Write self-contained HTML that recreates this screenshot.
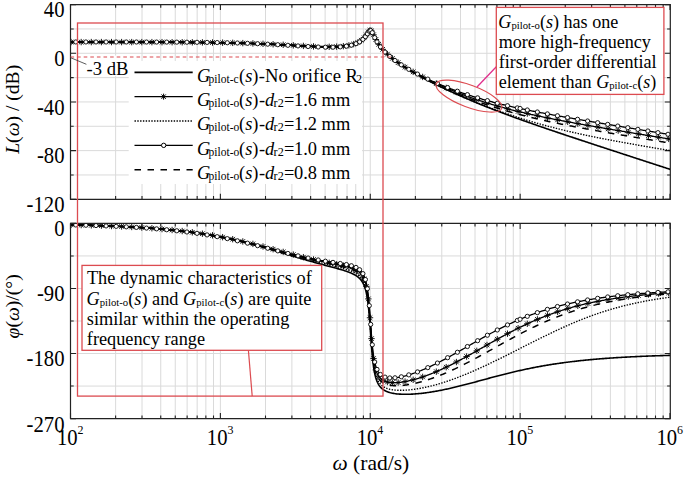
<!DOCTYPE html><html><head><meta charset="utf-8"><style>html,body{margin:0;padding:0;background:#fff;overflow:hidden}svg{display:block}text{font-family:"Liberation Serif",serif;fill:#000}</style></head><body>
<svg width="685" height="477" viewBox="0 0 685 477">
<rect width="685" height="477" fill="#fff"/>
<defs><clipPath id="ct"><rect x="70.5" y="4.6" width="599.8" height="194.70000000000002"/></clipPath><clipPath id="cb"><rect x="70.5" y="223.4" width="599.8" height="195.20000000000002"/></clipPath></defs>
<path d="M115.62,4.6V199.3M115.62,223.4V418.6M142.01,4.6V199.3M142.01,223.4V418.6M160.74,4.6V199.3M160.74,223.4V418.6M175.26,4.6V199.3M175.26,223.4V418.6M187.13,4.6V199.3M187.13,223.4V418.6M197.16,4.6V199.3M197.16,223.4V418.6M205.86,4.6V199.3M205.86,223.4V418.6M213.52,4.6V199.3M213.52,223.4V418.6M220.38,4.6V199.3M220.38,223.4V418.6M265.50,4.6V199.3M265.50,223.4V418.6M291.89,4.6V199.3M291.89,223.4V418.6M310.62,4.6V199.3M310.62,223.4V418.6M325.14,4.6V199.3M325.14,223.4V418.6M337.01,4.6V199.3M337.01,223.4V418.6M347.04,4.6V199.3M347.04,223.4V418.6M355.74,4.6V199.3M355.74,223.4V418.6M363.40,4.6V199.3M363.40,223.4V418.6M370.26,4.6V199.3M370.26,223.4V418.6M415.38,4.6V199.3M415.38,223.4V418.6M441.77,4.6V199.3M441.77,223.4V418.6M460.50,4.6V199.3M460.50,223.4V418.6M475.02,4.6V199.3M475.02,223.4V418.6M486.89,4.6V199.3M486.89,223.4V418.6M496.92,4.6V199.3M496.92,223.4V418.6M505.62,4.6V199.3M505.62,223.4V418.6M513.28,4.6V199.3M513.28,223.4V418.6M520.14,4.6V199.3M520.14,223.4V418.6M565.26,4.6V199.3M565.26,223.4V418.6M591.65,4.6V199.3M591.65,223.4V418.6M610.38,4.6V199.3M610.38,223.4V418.6M624.90,4.6V199.3M624.90,223.4V418.6M636.77,4.6V199.3M636.77,223.4V418.6M646.80,4.6V199.3M646.80,223.4V418.6M655.50,4.6V199.3M655.50,223.4V418.6M663.16,4.6V199.3M663.16,223.4V418.6M70.5,28.94H670.3M70.5,53.28H670.3M70.5,77.61H670.3M70.5,101.95H670.3M70.5,126.29H670.3M70.5,150.62H670.3M70.5,174.96H670.3M70.5,255.93H670.3M70.5,288.47H670.3M70.5,321.00H670.3M70.5,353.53H670.3M70.5,386.07H670.3" stroke="#dadada" stroke-width="1" fill="none"/>
<rect x="128.7" y="61" width="233.3" height="123" fill="#fff"/>
<rect x="86" y="55.5" width="43" height="20.5" fill="#fff"/>
<path d="M70.50,199.3v-5.5M70.50,4.6v5.5M70.50,418.6v-5.5M70.50,223.4v5.5M115.62,199.3v-3.2M115.62,4.6v3.2M115.62,418.6v-3.2M115.62,223.4v3.2M142.01,199.3v-3.2M142.01,4.6v3.2M142.01,418.6v-3.2M142.01,223.4v3.2M160.74,199.3v-3.2M160.74,4.6v3.2M160.74,418.6v-3.2M160.74,223.4v3.2M175.26,199.3v-3.2M175.26,4.6v3.2M175.26,418.6v-3.2M175.26,223.4v3.2M187.13,199.3v-3.2M187.13,4.6v3.2M187.13,418.6v-3.2M187.13,223.4v3.2M197.16,199.3v-3.2M197.16,4.6v3.2M197.16,418.6v-3.2M197.16,223.4v3.2M205.86,199.3v-3.2M205.86,4.6v3.2M205.86,418.6v-3.2M205.86,223.4v3.2M213.52,199.3v-3.2M213.52,4.6v3.2M213.52,418.6v-3.2M213.52,223.4v3.2M220.38,199.3v-5.5M220.38,4.6v5.5M220.38,418.6v-5.5M220.38,223.4v5.5M265.50,199.3v-3.2M265.50,4.6v3.2M265.50,418.6v-3.2M265.50,223.4v3.2M291.89,199.3v-3.2M291.89,4.6v3.2M291.89,418.6v-3.2M291.89,223.4v3.2M310.62,199.3v-3.2M310.62,4.6v3.2M310.62,418.6v-3.2M310.62,223.4v3.2M325.14,199.3v-3.2M325.14,4.6v3.2M325.14,418.6v-3.2M325.14,223.4v3.2M337.01,199.3v-3.2M337.01,4.6v3.2M337.01,418.6v-3.2M337.01,223.4v3.2M347.04,199.3v-3.2M347.04,4.6v3.2M347.04,418.6v-3.2M347.04,223.4v3.2M355.74,199.3v-3.2M355.74,4.6v3.2M355.74,418.6v-3.2M355.74,223.4v3.2M363.40,199.3v-3.2M363.40,4.6v3.2M363.40,418.6v-3.2M363.40,223.4v3.2M370.26,199.3v-5.5M370.26,4.6v5.5M370.26,418.6v-5.5M370.26,223.4v5.5M415.38,199.3v-3.2M415.38,4.6v3.2M415.38,418.6v-3.2M415.38,223.4v3.2M441.77,199.3v-3.2M441.77,4.6v3.2M441.77,418.6v-3.2M441.77,223.4v3.2M460.50,199.3v-3.2M460.50,4.6v3.2M460.50,418.6v-3.2M460.50,223.4v3.2M475.02,199.3v-3.2M475.02,4.6v3.2M475.02,418.6v-3.2M475.02,223.4v3.2M486.89,199.3v-3.2M486.89,4.6v3.2M486.89,418.6v-3.2M486.89,223.4v3.2M496.92,199.3v-3.2M496.92,4.6v3.2M496.92,418.6v-3.2M496.92,223.4v3.2M505.62,199.3v-3.2M505.62,4.6v3.2M505.62,418.6v-3.2M505.62,223.4v3.2M513.28,199.3v-3.2M513.28,4.6v3.2M513.28,418.6v-3.2M513.28,223.4v3.2M520.14,199.3v-5.5M520.14,4.6v5.5M520.14,418.6v-5.5M520.14,223.4v5.5M565.26,199.3v-3.2M565.26,4.6v3.2M565.26,418.6v-3.2M565.26,223.4v3.2M591.65,199.3v-3.2M591.65,4.6v3.2M591.65,418.6v-3.2M591.65,223.4v3.2M610.38,199.3v-3.2M610.38,4.6v3.2M610.38,418.6v-3.2M610.38,223.4v3.2M624.90,199.3v-3.2M624.90,4.6v3.2M624.90,418.6v-3.2M624.90,223.4v3.2M636.77,199.3v-3.2M636.77,4.6v3.2M636.77,418.6v-3.2M636.77,223.4v3.2M646.80,199.3v-3.2M646.80,4.6v3.2M646.80,418.6v-3.2M646.80,223.4v3.2M655.50,199.3v-3.2M655.50,4.6v3.2M655.50,418.6v-3.2M655.50,223.4v3.2M663.16,199.3v-3.2M663.16,4.6v3.2M663.16,418.6v-3.2M663.16,223.4v3.2M670.02,199.3v-5.5M670.02,4.6v5.5M670.02,418.6v-5.5M670.02,223.4v5.5M70.5,4.60h5.5M670.3,4.60h-5.5M70.5,28.94h3.2M670.3,28.94h-3.2M70.5,53.28h5.5M670.3,53.28h-5.5M70.5,77.61h3.2M670.3,77.61h-3.2M70.5,101.95h5.5M670.3,101.95h-5.5M70.5,126.29h3.2M670.3,126.29h-3.2M70.5,150.62h5.5M670.3,150.62h-5.5M70.5,174.96h3.2M670.3,174.96h-3.2M70.5,199.30h5.5M670.3,199.30h-5.5M70.5,223.40h5.5M670.3,223.40h-5.5M70.5,255.93h3.2M670.3,255.93h-3.2M70.5,288.47h5.5M670.3,288.47h-5.5M70.5,321.00h3.2M670.3,321.00h-3.2M70.5,353.53h5.5M670.3,353.53h-5.5M70.5,386.07h3.2M670.3,386.07h-3.2M70.5,418.60h5.5M670.3,418.60h-5.5" stroke="#222" stroke-width="1.1" fill="none"/>
<g clip-path="url(#ct)" fill="none" stroke="#000">
<path d="M70.50,42.17 L71.50,42.17 L72.50,42.17 L73.50,42.17 L74.50,42.17 L75.50,42.17 L76.50,42.17 L77.50,42.17 L78.50,42.17 L79.50,42.17 L80.50,42.17 L81.50,42.17 L82.50,42.17 L83.50,42.17 L84.50,42.17 L85.50,42.17 L86.50,42.17 L87.50,42.17 L88.50,42.18 L89.50,42.18 L90.50,42.18 L91.50,42.18 L92.50,42.18 L93.50,42.18 L94.50,42.18 L95.50,42.18 L96.50,42.18 L97.50,42.18 L98.50,42.18 L99.50,42.18 L100.50,42.18 L101.50,42.18 L102.50,42.18 L103.50,42.18 L104.50,42.18 L105.50,42.18 L106.50,42.18 L107.50,42.18 L108.50,42.18 L109.50,42.18 L110.50,42.18 L111.50,42.19 L112.50,42.19 L113.50,42.19 L114.50,42.19 L115.50,42.19 L116.50,42.19 L117.50,42.19 L118.50,42.19 L119.50,42.19 L120.50,42.19 L121.50,42.19 L122.50,42.19 L123.50,42.19 L124.50,42.19 L125.50,42.20 L126.50,42.20 L127.50,42.20 L128.50,42.20 L129.50,42.20 L130.50,42.20 L131.50,42.20 L132.50,42.20 L133.50,42.20 L134.50,42.21 L135.50,42.21 L136.50,42.21 L137.50,42.21 L138.50,42.21 L139.50,42.21 L140.50,42.21 L141.50,42.21 L142.50,42.22 L143.50,42.22 L144.50,42.22 L145.50,42.22 L146.50,42.22 L147.50,42.22 L148.50,42.23 L149.50,42.23 L150.50,42.23 L151.50,42.23 L152.50,42.23 L153.50,42.24 L154.50,42.24 L155.50,42.24 L156.50,42.24 L157.50,42.25 L158.50,42.25 L159.50,42.25 L160.50,42.25 L161.50,42.26 L162.50,42.26 L163.50,42.26 L164.50,42.26 L165.50,42.27 L166.50,42.27 L167.50,42.27 L168.50,42.28 L169.50,42.28 L170.50,42.28 L171.50,42.29 L172.50,42.29 L173.50,42.30 L174.50,42.30 L175.50,42.30 L176.50,42.31 L177.50,42.31 L178.50,42.32 L179.50,42.32 L180.50,42.33 L181.50,42.33 L182.50,42.34 L183.50,42.34 L184.50,42.35 L185.50,42.35 L186.50,42.36 L187.50,42.36 L188.50,42.37 L189.50,42.38 L190.50,42.38 L191.50,42.39 L192.50,42.39 L193.50,42.40 L194.50,42.41 L195.50,42.42 L196.50,42.42 L197.50,42.43 L198.50,42.44 L199.50,42.45 L200.50,42.46 L201.50,42.46 L202.50,42.47 L203.50,42.48 L204.50,42.49 L205.50,42.50 L206.50,42.51 L207.50,42.52 L208.50,42.53 L209.50,42.54 L210.50,42.56 L211.50,42.57 L212.50,42.58 L213.50,42.59 L214.50,42.60 L215.50,42.62 L216.50,42.63 L217.50,42.64 L218.50,42.66 L219.50,42.67 L220.50,42.69 L221.50,42.70 L222.50,42.72 L223.50,42.73 L224.50,42.75 L225.50,42.76 L226.50,42.78 L227.50,42.80 L228.50,42.82 L229.50,42.84 L230.50,42.85 L231.50,42.87 L232.50,42.89 L233.50,42.91 L234.50,42.94 L235.50,42.96 L236.50,42.98 L237.50,43.00 L238.50,43.02 L239.50,43.05 L240.50,43.07 L241.50,43.10 L242.50,43.12 L243.50,43.15 L244.50,43.18 L245.50,43.20 L246.50,43.23 L247.50,43.26 L248.50,43.29 L249.50,43.32 L250.50,43.35 L251.50,43.38 L252.50,43.41 L253.50,43.44 L254.50,43.48 L255.50,43.51 L256.50,43.54 L257.50,43.58 L258.50,43.61 L259.50,43.65 L260.50,43.69 L261.50,43.72 L262.50,43.76 L263.50,43.80 L264.50,43.84 L265.50,43.88 L266.50,43.92 L267.50,43.96 L268.50,44.01 L269.50,44.05 L270.50,44.09 L271.50,44.14 L272.50,44.18 L273.50,44.23 L274.50,44.27 L275.50,44.32 L276.50,44.37 L277.50,44.42 L278.50,44.46 L279.50,44.51 L280.50,44.56 L281.50,44.61 L282.50,44.66 L283.50,44.72 L284.50,44.77 L285.50,44.82 L286.50,44.87 L287.50,44.92 L288.50,44.98 L289.50,45.03 L290.50,45.08 L291.50,45.14 L292.50,45.19 L293.50,45.25 L294.50,45.30 L295.50,45.35 L296.50,45.41 L297.50,45.46 L298.50,45.52 L299.50,45.57 L300.50,45.62 L301.50,45.68 L302.50,45.73 L303.50,45.78 L304.50,45.83 L305.50,45.89 L306.50,45.94 L307.50,45.99 L308.50,46.04 L309.50,46.08 L310.50,46.13 L311.50,46.18 L312.50,46.22 L313.50,46.27 L314.50,46.31 L315.50,46.35 L316.50,46.39 L317.50,46.42 L318.50,46.46 L319.50,46.49 L320.50,46.52 L321.50,46.55 L322.50,46.58 L323.50,46.60 L324.50,46.62 L325.50,46.63 L326.50,46.65 L327.50,46.65 L328.50,46.66 L329.50,46.66 L330.50,46.65 L331.50,46.65 L332.50,46.63 L333.50,46.61 L334.50,46.58 L335.50,46.55 L336.50,46.51 L337.50,46.47 L338.50,46.41 L339.50,46.35 L340.50,46.27 L341.50,46.19 L342.50,46.10 L343.50,45.99 L344.50,45.88 L345.50,45.74 L346.50,45.60 L347.50,45.44 L348.50,45.26 L349.50,45.06 L350.50,44.84 L351.50,44.59 L352.50,44.32 L353.50,44.03 L354.50,43.69 L355.00,43.52 L355.10,43.48 L355.20,43.44 L355.30,43.40 L355.40,43.37 L355.50,43.33 L355.60,43.29 L355.70,43.25 L355.80,43.21 L355.90,43.17 L356.00,43.13 L356.10,43.09 L356.20,43.05 L356.30,43.01 L356.40,42.96 L356.50,42.92 L356.60,42.88 L356.70,42.84 L356.80,42.79 L356.90,42.75 L357.00,42.70 L357.10,42.66 L357.20,42.61 L357.30,42.56 L357.40,42.52 L357.50,42.47 L357.60,42.42 L357.70,42.37 L357.80,42.32 L357.90,42.27 L358.00,42.22 L358.10,42.17 L358.20,42.12 L358.30,42.07 L358.40,42.02 L358.50,41.96 L358.60,41.91 L358.70,41.86 L358.80,41.80 L358.90,41.75 L359.00,41.69 L359.10,41.63 L359.20,41.58 L359.30,41.52 L359.40,41.46 L359.50,41.40 L359.60,41.34 L359.70,41.28 L359.80,41.22 L359.90,41.15 L360.00,41.09 L360.10,41.03 L360.20,40.96 L360.30,40.90 L360.40,40.83 L360.50,40.77 L360.60,40.70 L360.70,40.63 L360.80,40.56 L360.90,40.49 L361.00,40.42 L361.10,40.35 L361.20,40.27 L361.30,40.20 L361.40,40.13 L361.50,40.05 L361.60,39.97 L361.70,39.90 L361.80,39.82 L361.90,39.74 L362.00,39.66 L362.10,39.58 L362.20,39.50 L362.30,39.41 L362.40,39.33 L362.50,39.24 L362.60,39.16 L362.70,39.07 L362.80,38.98 L362.90,38.89 L363.00,38.80 L363.10,38.71 L363.20,38.61 L363.30,38.52 L363.40,38.42 L363.50,38.32 L363.60,38.23 L363.70,38.13 L363.80,38.02 L363.90,37.92 L364.00,37.82 L364.10,37.71 L364.20,37.61 L364.30,37.50 L364.40,37.39 L364.50,37.28 L364.60,37.17 L364.70,37.05 L364.80,36.94 L364.90,36.82 L365.00,36.70 L365.10,36.58 L365.20,36.46 L365.30,36.34 L365.40,36.21 L365.50,36.09 L365.60,35.96 L365.70,35.83 L365.80,35.70 L365.90,35.57 L366.00,35.43 L366.10,35.30 L366.20,35.16 L366.30,35.02 L366.40,34.88 L366.50,34.74 L366.60,34.60 L366.70,34.45 L366.80,34.31 L366.90,34.16 L367.00,34.01 L367.10,33.86 L367.20,33.71 L367.30,33.56 L367.40,33.41 L367.50,33.26 L367.60,33.10 L367.70,32.95 L367.80,32.80 L367.90,32.65 L368.00,32.49 L368.10,32.34 L368.20,32.19 L368.30,32.04 L368.40,31.90 L368.50,31.75 L368.60,31.61 L368.70,31.47 L368.80,31.33 L368.90,31.20 L369.00,31.07 L369.10,30.95 L369.20,30.83 L369.30,30.72 L369.40,30.62 L369.50,30.53 L369.60,30.44 L369.70,30.36 L369.80,30.29 L369.90,30.23 L370.00,30.19 L370.10,30.15 L370.20,30.12 L370.30,30.11 L370.40,30.11 L370.50,30.12 L370.60,30.15 L370.70,30.18 L370.80,30.23 L370.90,30.30 L371.00,30.37 L371.10,30.46 L371.20,30.56 L371.30,30.67 L371.40,30.79 L371.50,30.92 L371.60,31.06 L371.70,31.20 L371.80,31.36 L371.90,31.53 L372.00,31.70 L372.10,31.88 L372.20,32.06 L372.30,32.25 L372.40,32.44 L372.50,32.64 L372.60,32.84 L372.70,33.04 L372.80,33.25 L372.90,33.46 L373.00,33.67 L373.10,33.88 L373.20,34.09 L373.30,34.31 L373.40,34.52 L373.50,34.73 L373.60,34.95 L373.70,35.16 L373.80,35.38 L373.90,35.59 L374.00,35.80 L374.10,36.01 L374.20,36.22 L374.30,36.43 L374.40,36.64 L374.50,36.85 L374.60,37.05 L374.70,37.25 L374.80,37.46 L374.90,37.66 L375.00,37.86 L375.10,38.06 L375.20,38.25 L375.30,38.45 L375.40,38.64 L375.50,38.83 L375.60,39.02 L375.70,39.21 L375.80,39.40 L375.90,39.59 L376.00,39.77 L376.10,39.95 L376.20,40.13 L376.30,40.31 L376.40,40.49 L376.50,40.67 L376.60,40.84 L376.70,41.02 L376.80,41.19 L376.90,41.36 L377.00,41.53 L377.10,41.70 L377.20,41.86 L377.30,42.03 L377.40,42.19 L377.50,42.35 L377.60,42.51 L377.70,42.67 L377.80,42.83 L377.90,42.99 L378.00,43.14 L378.10,43.30 L378.20,43.45 L378.30,43.61 L378.40,43.76 L378.50,43.91 L378.60,44.06 L378.70,44.20 L378.80,44.35 L378.90,44.49 L379.00,44.64 L379.10,44.78 L379.20,44.92 L379.30,45.07 L379.40,45.21 L379.50,45.35 L379.60,45.48 L379.70,45.62 L379.80,45.76 L379.90,45.89 L380.00,46.03 L380.10,46.16 L380.20,46.29 L380.30,46.43 L380.40,46.56 L380.50,46.69 L380.60,46.82 L380.70,46.95 L380.80,47.07 L380.90,47.20 L381.00,47.33 L381.10,47.45 L381.20,47.58 L381.30,47.70 L381.40,47.83 L381.50,47.95 L381.60,48.07 L381.70,48.19 L381.80,48.31 L381.90,48.43 L382.00,48.55 L382.10,48.67 L382.20,48.79 L382.30,48.90 L382.40,49.02 L382.50,49.14 L382.60,49.25 L382.70,49.37 L382.80,49.48 L382.90,49.59 L383.00,49.71 L383.10,49.82 L383.20,49.93 L383.30,50.04 L383.40,50.15 L383.50,50.26 L383.60,50.37 L383.70,50.48 L383.80,50.59 L383.90,50.70 L384.00,50.80 L384.10,50.91 L384.20,51.02 L384.30,51.12 L384.40,51.23 L384.50,51.33 L384.60,51.44 L384.70,51.54 L384.80,51.64 L384.90,51.75 L385.00,51.85 L385.10,51.95 L385.20,52.05 L385.30,52.16 L385.40,52.26 L385.50,52.36 L385.60,52.46 L385.70,52.56 L385.80,52.66 L385.90,52.75 L386.00,52.85 L386.10,52.95 L386.20,53.05 L386.30,53.15 L386.40,53.24 L386.50,53.34 L386.60,53.44 L386.70,53.53 L386.80,53.63 L386.90,53.72 L387.00,53.82 L387.10,53.91 L387.20,54.00 L387.30,54.10 L387.40,54.19 L387.50,54.28 L387.60,54.38 L387.70,54.47 L387.80,54.56 L387.90,54.65 L388.00,54.74 L388.10,54.84 L388.20,54.93 L388.30,55.02 L388.40,55.11 L388.50,55.20 L388.60,55.29 L388.70,55.37 L388.80,55.46 L388.90,55.55 L389.00,55.64 L389.10,55.73 L389.20,55.82 L389.30,55.90 L389.40,55.99 L389.50,56.08 L389.60,56.16 L389.70,56.25 L389.80,56.34 L389.90,56.42 L390.50,56.93 L391.50,57.76 L392.50,58.57 L393.50,59.36 L394.50,60.13 L395.50,60.88 L396.50,61.62 L397.50,62.34 L398.50,63.05 L399.50,63.75 L400.50,64.43 L401.50,65.10 L402.50,65.76 L403.50,66.42 L404.50,67.06 L405.50,67.70 L406.50,68.32 L407.50,68.94 L408.50,69.56 L409.50,70.16 L410.50,70.76 L411.50,71.35 L412.50,71.94 L413.50,72.52 L414.50,73.10 L415.50,73.67 L416.50,74.23 L417.50,74.79 L418.50,75.35 L419.50,75.90 L420.50,76.45 L421.50,76.99 L422.50,77.53 L423.50,78.07 L424.50,78.60 L425.50,79.13 L426.50,79.65 L427.50,80.17 L428.50,80.69 L429.50,81.21 L430.50,81.72 L431.50,82.23 L432.50,82.74 L433.50,83.24 L434.50,83.74 L435.50,84.24 L436.50,84.73 L437.50,85.23 L438.50,85.72 L439.50,86.20 L440.50,86.69 L441.50,87.17 L442.50,87.65 L443.50,88.13 L444.50,88.60 L445.50,89.08 L446.50,89.55 L447.50,90.02 L448.50,90.48 L449.50,90.95 L450.50,91.41 L451.50,91.87 L452.50,92.33 L453.50,92.78 L454.50,93.24 L455.50,93.69 L456.50,94.14 L457.50,94.59 L458.50,95.03 L459.50,95.48 L460.50,95.92 L461.50,96.36 L462.50,96.80 L463.50,97.24 L464.50,97.67 L465.50,98.10 L466.50,98.53 L467.50,98.96 L468.50,99.39 L469.50,99.82 L470.50,100.24 L471.50,100.66 L472.50,101.08 L473.50,101.50 L474.50,101.92 L475.50,102.33 L476.50,102.75 L477.50,103.16 L478.50,103.57 L479.50,103.98 L480.50,104.39 L481.50,104.79 L482.50,105.20 L483.50,105.60 L484.50,106.00 L485.50,106.40 L486.50,106.80 L487.50,107.19 L488.50,107.59 L489.50,107.98 L490.50,108.38 L491.50,108.77 L492.50,109.16 L493.50,109.54 L494.50,109.93 L495.50,110.32 L496.50,110.70 L497.50,111.08 L498.50,111.47 L499.50,111.85 L500.50,112.22 L501.50,112.60 L502.50,112.98 L503.50,113.35 L504.50,113.73 L505.50,114.10 L506.50,114.47 L507.50,114.85 L508.50,115.22 L509.50,115.58 L510.50,115.95 L511.50,116.32 L512.50,116.68 L513.50,117.05 L514.50,117.41 L515.50,117.78 L516.50,118.14 L517.50,118.50 L518.50,118.86 L519.50,119.22 L520.50,119.58 L521.50,119.93 L522.50,120.29 L523.50,120.65 L524.50,121.00 L525.50,121.35 L526.50,121.71 L527.50,122.06 L528.50,122.41 L529.50,122.76 L530.50,123.11 L531.50,123.46 L532.50,123.81 L533.50,124.16 L534.50,124.51 L535.50,124.86 L536.50,125.20 L537.50,125.55 L538.50,125.90 L539.50,126.24 L540.50,126.58 L541.50,126.93 L542.50,127.27 L543.50,127.61 L544.50,127.96 L545.50,128.30 L546.50,128.64 L547.50,128.98 L548.50,129.32 L549.50,129.66 L550.50,130.00 L551.50,130.34 L552.50,130.68 L553.50,131.02 L554.50,131.36 L555.50,131.69 L556.50,132.03 L557.50,132.37 L558.50,132.70 L559.50,133.04 L560.50,133.38 L561.50,133.71 L562.50,134.05 L563.50,134.38 L564.50,134.72 L565.50,135.05 L566.50,135.39 L567.50,135.72 L568.50,136.05 L569.50,136.39 L570.50,136.72 L571.50,137.05 L572.50,137.38 L573.50,137.72 L574.50,138.05 L575.50,138.38 L576.50,138.71 L577.50,139.04 L578.50,139.38 L579.50,139.71 L580.50,140.04 L581.50,140.37 L582.50,140.70 L583.50,141.03 L584.50,141.36 L585.50,141.69 L586.50,142.02 L587.50,142.35 L588.50,142.68 L589.50,143.01 L590.50,143.34 L591.50,143.67 L592.50,144.00 L593.50,144.33 L594.50,144.65 L595.50,144.98 L596.50,145.31 L597.50,145.64 L598.50,145.97 L599.50,146.30 L600.50,146.62 L601.50,146.95 L602.50,147.28 L603.50,147.61 L604.50,147.94 L605.50,148.26 L606.50,148.59 L607.50,148.92 L608.50,149.25 L609.50,149.57 L610.50,149.90 L611.50,150.23 L612.50,150.56 L613.50,150.88 L614.50,151.21 L615.50,151.54 L616.50,151.86 L617.50,152.19 L618.50,152.52 L619.50,152.84 L620.50,153.17 L621.50,153.50 L622.50,153.82 L623.50,154.15 L624.50,154.48 L625.50,154.80 L626.50,155.13 L627.50,155.45 L628.50,155.78 L629.50,156.11 L630.50,156.43 L631.50,156.76 L632.50,157.09 L633.50,157.41 L634.50,157.74 L635.50,158.06 L636.50,158.39 L637.50,158.72 L638.50,159.04 L639.50,159.37 L640.50,159.69 L641.50,160.02 L642.50,160.34 L643.50,160.67 L644.50,161.00 L645.50,161.32 L646.50,161.65 L647.50,161.97 L648.50,162.30 L649.50,162.62 L650.50,162.95 L651.50,163.27 L652.50,163.60 L653.50,163.92 L654.50,164.25 L655.50,164.58 L656.50,164.90 L657.50,165.23 L658.50,165.55 L659.50,165.88 L660.50,166.20 L661.50,166.53 L662.50,166.85 L663.50,167.18 L664.50,167.50 L665.50,167.83 L666.50,168.15 L667.50,168.48 L668.50,168.80 L669.50,169.13 L670.30,169.39" stroke-width="1.6"/>
<path d="M70.50,42.48 L71.50,42.48 L72.50,42.48 L73.50,42.48 L74.50,42.48 L75.50,42.48 L76.50,42.48 L77.50,42.48 L78.50,42.48 L79.50,42.48 L80.50,42.48 L81.50,42.48 L82.50,42.48 L83.50,42.48 L84.50,42.48 L85.50,42.48 L86.50,42.48 L87.50,42.48 L88.50,42.48 L89.50,42.48 L90.50,42.48 L91.50,42.48 L92.50,42.48 L93.50,42.48 L94.50,42.48 L95.50,42.48 L96.50,42.48 L97.50,42.48 L98.50,42.49 L99.50,42.49 L100.50,42.49 L101.50,42.49 L102.50,42.49 L103.50,42.49 L104.50,42.49 L105.50,42.49 L106.50,42.49 L107.50,42.49 L108.50,42.49 L109.50,42.49 L110.50,42.49 L111.50,42.49 L112.50,42.49 L113.50,42.49 L114.50,42.49 L115.50,42.49 L116.50,42.49 L117.50,42.50 L118.50,42.50 L119.50,42.50 L120.50,42.50 L121.50,42.50 L122.50,42.50 L123.50,42.50 L124.50,42.50 L125.50,42.50 L126.50,42.50 L127.50,42.50 L128.50,42.50 L129.50,42.51 L130.50,42.51 L131.50,42.51 L132.50,42.51 L133.50,42.51 L134.50,42.51 L135.50,42.51 L136.50,42.51 L137.50,42.51 L138.50,42.52 L139.50,42.52 L140.50,42.52 L141.50,42.52 L142.50,42.52 L143.50,42.52 L144.50,42.52 L145.50,42.53 L146.50,42.53 L147.50,42.53 L148.50,42.53 L149.50,42.53 L150.50,42.53 L151.50,42.54 L152.50,42.54 L153.50,42.54 L154.50,42.54 L155.50,42.54 L156.50,42.55 L157.50,42.55 L158.50,42.55 L159.50,42.55 L160.50,42.56 L161.50,42.56 L162.50,42.56 L163.50,42.56 L164.50,42.57 L165.50,42.57 L166.50,42.57 L167.50,42.58 L168.50,42.58 L169.50,42.58 L170.50,42.59 L171.50,42.59 L172.50,42.59 L173.50,42.60 L174.50,42.60 L175.50,42.60 L176.50,42.61 L177.50,42.61 L178.50,42.62 L179.50,42.62 L180.50,42.63 L181.50,42.63 L182.50,42.64 L183.50,42.64 L184.50,42.65 L185.50,42.65 L186.50,42.66 L187.50,42.66 L188.50,42.67 L189.50,42.67 L190.50,42.68 L191.50,42.69 L192.50,42.69 L193.50,42.70 L194.50,42.71 L195.50,42.71 L196.50,42.72 L197.50,42.73 L198.50,42.73 L199.50,42.74 L200.50,42.75 L201.50,42.76 L202.50,42.77 L203.50,42.78 L204.50,42.79 L205.50,42.79 L206.50,42.80 L207.50,42.81 L208.50,42.82 L209.50,42.83 L210.50,42.85 L211.50,42.86 L212.50,42.87 L213.50,42.88 L214.50,42.89 L215.50,42.90 L216.50,42.92 L217.50,42.93 L218.50,42.94 L219.50,42.96 L220.50,42.97 L221.50,42.99 L222.50,43.00 L223.50,43.02 L224.50,43.03 L225.50,43.05 L226.50,43.06 L227.50,43.08 L228.50,43.10 L229.50,43.12 L230.50,43.13 L231.50,43.15 L232.50,43.17 L233.50,43.19 L234.50,43.21 L235.50,43.23 L236.50,43.25 L237.50,43.28 L238.50,43.30 L239.50,43.32 L240.50,43.34 L241.50,43.37 L242.50,43.39 L243.50,43.42 L244.50,43.44 L245.50,43.47 L246.50,43.50 L247.50,43.52 L248.50,43.55 L249.50,43.58 L250.50,43.61 L251.50,43.64 L252.50,43.67 L253.50,43.70 L254.50,43.73 L255.50,43.76 L256.50,43.80 L257.50,43.83 L258.50,43.86 L259.50,43.90 L260.50,43.94 L261.50,43.97 L262.50,44.01 L263.50,44.05 L264.50,44.08 L265.50,44.12 L266.50,44.16 L267.50,44.20 L268.50,44.24 L269.50,44.29 L270.50,44.33 L271.50,44.37 L272.50,44.41 L273.50,44.46 L274.50,44.50 L275.50,44.55 L276.50,44.60 L277.50,44.64 L278.50,44.69 L279.50,44.74 L280.50,44.78 L281.50,44.83 L282.50,44.88 L283.50,44.93 L284.50,44.98 L285.50,45.03 L286.50,45.08 L287.50,45.13 L288.50,45.19 L289.50,45.24 L290.50,45.29 L291.50,45.34 L292.50,45.39 L293.50,45.45 L294.50,45.50 L295.50,45.55 L296.50,45.60 L297.50,45.66 L298.50,45.71 L299.50,45.76 L300.50,45.81 L301.50,45.87 L302.50,45.92 L303.50,45.97 L304.50,46.02 L305.50,46.07 L306.50,46.12 L307.50,46.17 L308.50,46.21 L309.50,46.26 L310.50,46.31 L311.50,46.35 L312.50,46.40 L313.50,46.44 L314.50,46.48 L315.50,46.52 L316.50,46.56 L317.50,46.59 L318.50,46.62 L319.50,46.66 L320.50,46.68 L321.50,46.71 L322.50,46.74 L323.50,46.76 L324.50,46.77 L325.50,46.79 L326.50,46.80 L327.50,46.81 L328.50,46.81 L329.50,46.81 L330.50,46.81 L331.50,46.80 L332.50,46.78 L333.50,46.76 L334.50,46.73 L335.50,46.70 L336.50,46.66 L337.50,46.61 L338.50,46.55 L339.50,46.49 L340.50,46.42 L341.50,46.33 L342.50,46.24 L343.50,46.13 L344.50,46.01 L345.50,45.88 L346.50,45.73 L347.50,45.57 L348.50,45.39 L349.50,45.19 L350.50,44.97 L351.50,44.72 L352.50,44.45 L353.50,44.15 L354.50,43.82 L355.00,43.64 L355.10,43.61 L355.20,43.57 L355.30,43.53 L355.40,43.49 L355.50,43.46 L355.60,43.42 L355.70,43.38 L355.80,43.34 L355.90,43.30 L356.00,43.26 L356.10,43.22 L356.20,43.17 L356.30,43.13 L356.40,43.09 L356.50,43.05 L356.60,43.00 L356.70,42.96 L356.80,42.92 L356.90,42.87 L357.00,42.83 L357.10,42.78 L357.20,42.74 L357.30,42.69 L357.40,42.64 L357.50,42.59 L357.60,42.55 L357.70,42.50 L357.80,42.45 L357.90,42.40 L358.00,42.35 L358.10,42.30 L358.20,42.25 L358.30,42.19 L358.40,42.14 L358.50,42.09 L358.60,42.04 L358.70,41.98 L358.80,41.93 L358.90,41.87 L359.00,41.81 L359.10,41.76 L359.20,41.70 L359.30,41.64 L359.40,41.58 L359.50,41.52 L359.60,41.46 L359.70,41.40 L359.80,41.34 L359.90,41.28 L360.00,41.22 L360.10,41.15 L360.20,41.09 L360.30,41.02 L360.40,40.96 L360.50,40.89 L360.60,40.82 L360.70,40.75 L360.80,40.68 L360.90,40.61 L361.00,40.54 L361.10,40.47 L361.20,40.40 L361.30,40.32 L361.40,40.25 L361.50,40.17 L361.60,40.10 L361.70,40.02 L361.80,39.94 L361.90,39.86 L362.00,39.78 L362.10,39.70 L362.20,39.62 L362.30,39.53 L362.40,39.45 L362.50,39.36 L362.60,39.28 L362.70,39.19 L362.80,39.10 L362.90,39.01 L363.00,38.92 L363.10,38.83 L363.20,38.73 L363.30,38.64 L363.40,38.54 L363.50,38.44 L363.60,38.35 L363.70,38.25 L363.80,38.14 L363.90,38.04 L364.00,37.94 L364.10,37.83 L364.20,37.73 L364.30,37.62 L364.40,37.51 L364.50,37.40 L364.60,37.29 L364.70,37.17 L364.80,37.06 L364.90,36.94 L365.00,36.82 L365.10,36.70 L365.20,36.58 L365.30,36.46 L365.40,36.33 L365.50,36.20 L365.60,36.08 L365.70,35.95 L365.80,35.82 L365.90,35.68 L366.00,35.55 L366.10,35.41 L366.20,35.28 L366.30,35.14 L366.40,35.00 L366.50,34.86 L366.60,34.71 L366.70,34.57 L366.80,34.42 L366.90,34.28 L367.00,34.13 L367.10,33.98 L367.20,33.83 L367.30,33.68 L367.40,33.53 L367.50,33.37 L367.60,33.22 L367.70,33.07 L367.80,32.92 L367.90,32.76 L368.00,32.61 L368.10,32.46 L368.20,32.31 L368.30,32.16 L368.40,32.01 L368.50,31.87 L368.60,31.72 L368.70,31.58 L368.80,31.45 L368.90,31.32 L369.00,31.19 L369.10,31.07 L369.20,30.95 L369.30,30.84 L369.40,30.74 L369.50,30.64 L369.60,30.55 L369.70,30.48 L369.80,30.41 L369.90,30.35 L370.00,30.30 L370.10,30.26 L370.20,30.24 L370.30,30.23 L370.40,30.23 L370.50,30.24 L370.60,30.26 L370.70,30.30 L370.80,30.35 L370.90,30.41 L371.00,30.49 L371.10,30.57 L371.20,30.67 L371.30,30.78 L371.40,30.90 L371.50,31.03 L371.60,31.17 L371.70,31.32 L371.80,31.48 L371.90,31.64 L372.00,31.81 L372.10,31.99 L372.20,32.17 L372.30,32.36 L372.40,32.55 L372.50,32.75 L372.60,32.95 L372.70,33.16 L372.80,33.36 L372.90,33.57 L373.00,33.78 L373.10,33.99 L373.20,34.21 L373.30,34.42 L373.40,34.63 L373.50,34.85 L373.60,35.06 L373.70,35.27 L373.80,35.49 L373.90,35.70 L374.00,35.91 L374.10,36.12 L374.20,36.33 L374.30,36.54 L374.40,36.75 L374.50,36.96 L374.60,37.16 L374.70,37.37 L374.80,37.57 L374.90,37.77 L375.00,37.97 L375.10,38.17 L375.20,38.36 L375.30,38.56 L375.40,38.75 L375.50,38.95 L375.60,39.14 L375.70,39.32 L375.80,39.51 L375.90,39.70 L376.00,39.88 L376.10,40.06 L376.20,40.24 L376.30,40.42 L376.40,40.60 L376.50,40.78 L376.60,40.95 L376.70,41.13 L376.80,41.30 L376.90,41.47 L377.00,41.64 L377.10,41.81 L377.20,41.97 L377.30,42.14 L377.40,42.30 L377.50,42.46 L377.60,42.62 L377.70,42.78 L377.80,42.94 L377.90,43.10 L378.00,43.25 L378.10,43.41 L378.20,43.56 L378.30,43.71 L378.40,43.87 L378.50,44.01 L378.60,44.16 L378.70,44.31 L378.80,44.46 L378.90,44.60 L379.00,44.75 L379.10,44.89 L379.20,45.03 L379.30,45.17 L379.40,45.31 L379.50,45.45 L379.60,45.59 L379.70,45.73 L379.80,45.87 L379.90,46.00 L380.00,46.14 L380.10,46.27 L380.20,46.40 L380.30,46.53 L380.40,46.67 L380.50,46.80 L380.60,46.92 L380.70,47.05 L380.80,47.18 L380.90,47.31 L381.00,47.43 L381.10,47.56 L381.20,47.68 L381.30,47.81 L381.40,47.93 L381.50,48.05 L381.60,48.18 L381.70,48.30 L381.80,48.42 L381.90,48.54 L382.00,48.66 L382.10,48.77 L382.20,48.89 L382.30,49.01 L382.40,49.12 L382.50,49.24 L382.60,49.36 L382.70,49.47 L382.80,49.58 L382.90,49.70 L383.00,49.81 L383.10,49.92 L383.20,50.03 L383.30,50.15 L383.40,50.26 L383.50,50.37 L383.60,50.47 L383.70,50.58 L383.80,50.69 L383.90,50.80 L384.00,50.91 L384.10,51.01 L384.20,51.12 L384.30,51.23 L384.40,51.33 L384.50,51.44 L384.60,51.54 L384.70,51.64 L384.80,51.75 L384.90,51.85 L385.00,51.95 L385.10,52.06 L385.20,52.16 L385.30,52.26 L385.40,52.36 L385.50,52.46 L385.60,52.56 L385.70,52.66 L385.80,52.76 L385.90,52.86 L386.00,52.96 L386.10,53.05 L386.20,53.15 L386.30,53.25 L386.40,53.34 L386.50,53.44 L386.60,53.54 L386.70,53.63 L386.80,53.73 L386.90,53.82 L387.00,53.92 L387.10,54.01 L387.20,54.11 L387.30,54.20 L387.40,54.29 L387.50,54.39 L387.60,54.48 L387.70,54.57 L387.80,54.66 L387.90,54.75 L388.00,54.84 L388.10,54.94 L388.20,55.03 L388.30,55.12 L388.40,55.21 L388.50,55.30 L388.60,55.39 L388.70,55.47 L388.80,55.56 L388.90,55.65 L389.00,55.74 L389.10,55.83 L389.20,55.92 L389.30,56.00 L389.40,56.09 L389.50,56.18 L389.60,56.26 L389.70,56.35 L389.80,56.44 L389.90,56.52 L390.50,57.03 L391.50,57.86 L392.50,58.67 L393.50,59.46 L394.50,60.22 L395.50,60.98 L396.50,61.71 L397.50,62.43 L398.50,63.14 L399.50,63.83 L400.50,64.52 L401.50,65.19 L402.50,65.85 L403.50,66.50 L404.50,67.14 L405.50,67.78 L406.50,68.40 L407.50,69.02 L408.50,69.63 L409.50,70.24 L410.50,70.83 L411.50,71.43 L412.50,72.01 L413.50,72.59 L414.50,73.16 L415.50,73.73 L416.50,74.30 L417.50,74.86 L418.50,75.41 L419.50,75.96 L420.50,76.51 L421.50,77.05 L422.50,77.58 L423.50,78.12 L424.50,78.65 L425.50,79.17 L426.50,79.70 L427.50,80.22 L428.50,80.73 L429.50,81.24 L430.50,81.75 L431.50,82.26 L432.50,82.76 L433.50,83.26 L434.50,83.76 L435.50,84.25 L436.50,84.75 L437.50,85.24 L438.50,85.72 L439.50,86.21 L440.50,86.69 L441.50,87.17 L442.50,87.64 L443.50,88.12 L444.50,88.59 L445.50,89.06 L446.50,89.52 L447.50,89.99 L448.50,90.45 L449.50,90.91 L450.50,91.36 L451.50,91.82 L452.50,92.27 L453.50,92.72 L454.50,93.17 L455.50,93.61 L456.50,94.06 L457.50,94.50 L458.50,94.94 L459.50,95.37 L460.50,95.81 L461.50,96.24 L462.50,96.67 L463.50,97.10 L464.50,97.53 L465.50,97.95 L466.50,98.37 L467.50,98.79 L468.50,99.21 L469.50,99.63 L470.50,100.04 L471.50,100.45 L472.50,100.86 L473.50,101.27 L474.50,101.67 L475.50,102.08 L476.50,102.48 L477.50,102.88 L478.50,103.28 L479.50,103.67 L480.50,104.07 L481.50,104.46 L482.50,104.85 L483.50,105.23 L484.50,105.62 L485.50,106.00 L486.50,106.38 L487.50,106.76 L488.50,107.14 L489.50,107.52 L490.50,107.89 L491.50,108.26 L492.50,108.63 L493.50,109.00 L494.50,109.36 L495.50,109.73 L496.50,110.09 L497.50,110.45 L498.50,110.81 L499.50,111.16 L500.50,111.52 L501.50,111.87 L502.50,112.22 L503.50,112.57 L504.50,112.91 L505.50,113.26 L506.50,113.60 L507.50,113.94 L508.50,114.28 L509.50,114.62 L510.50,114.95 L511.50,115.29 L512.50,115.62 L513.50,115.95 L514.50,116.27 L515.50,116.60 L516.50,116.92 L517.50,117.25 L518.50,117.57 L519.50,117.89 L520.50,118.20 L521.50,118.52 L522.50,118.83 L523.50,119.14 L524.50,119.45 L525.50,119.76 L526.50,120.06 L527.50,120.37 L528.50,120.67 L529.50,120.97 L530.50,121.27 L531.50,121.56 L532.50,121.86 L533.50,122.15 L534.50,122.44 L535.50,122.73 L536.50,123.02 L537.50,123.31 L538.50,123.59 L539.50,123.87 L540.50,124.15 L541.50,124.43 L542.50,124.71 L543.50,124.99 L544.50,125.26 L545.50,125.53 L546.50,125.80 L547.50,126.07 L548.50,126.34 L549.50,126.60 L550.50,126.87 L551.50,127.13 L552.50,127.39 L553.50,127.65 L554.50,127.90 L555.50,128.16 L556.50,128.41 L557.50,128.67 L558.50,128.92 L559.50,129.16 L560.50,129.41 L561.50,129.66 L562.50,129.90 L563.50,130.14 L564.50,130.39 L565.50,130.63 L566.50,130.86 L567.50,131.10 L568.50,131.34 L569.50,131.57 L570.50,131.80 L571.50,132.03 L572.50,132.26 L573.50,132.49 L574.50,132.72 L575.50,132.94 L576.50,133.17 L577.50,133.39 L578.50,133.61 L579.50,133.83 L580.50,134.05 L581.50,134.27 L582.50,134.48 L583.50,134.70 L584.50,134.91 L585.50,135.13 L586.50,135.34 L587.50,135.55 L588.50,135.76 L589.50,135.97 L590.50,136.17 L591.50,136.38 L592.50,136.59 L593.50,136.79 L594.50,136.99 L595.50,137.19 L596.50,137.40 L597.50,137.60 L598.50,137.80 L599.50,137.99 L600.50,138.19 L601.50,138.39 L602.50,138.58 L603.50,138.78 L604.50,138.97 L605.50,139.17 L606.50,139.36 L607.50,139.55 L608.50,139.74 L609.50,139.93 L610.50,140.12 L611.50,140.31 L612.50,140.50 L613.50,140.69 L614.50,140.87 L615.50,141.06 L616.50,141.24 L617.50,141.43 L618.50,141.61 L619.50,141.80 L620.50,141.98 L621.50,142.16 L622.50,142.34 L623.50,142.53 L624.50,142.71 L625.50,142.89 L626.50,143.07 L627.50,143.25 L628.50,143.43 L629.50,143.60 L630.50,143.78 L631.50,143.96 L632.50,144.14 L633.50,144.31 L634.50,144.49 L635.50,144.67 L636.50,144.84 L637.50,145.02 L638.50,145.19 L639.50,145.37 L640.50,145.54 L641.50,145.71 L642.50,145.89 L643.50,146.06 L644.50,146.23 L645.50,146.41 L646.50,146.58 L647.50,146.75 L648.50,146.92 L649.50,147.09 L650.50,147.26 L651.50,147.44 L652.50,147.61 L653.50,147.78 L654.50,147.95 L655.50,148.12 L656.50,148.29 L657.50,148.46 L658.50,148.63 L659.50,148.79 L660.50,148.96 L661.50,149.13 L662.50,149.30 L663.50,149.47 L664.50,149.64 L665.50,149.81 L666.50,149.97 L667.50,150.14 L668.50,150.31 L669.50,150.48 L670.30,150.61" stroke-width="1.4" stroke-dasharray="1.4 1.4"/>
<path d="M70.50,42.46 L71.50,42.46 L72.50,42.46 L73.50,42.46 L74.50,42.46 L75.50,42.46 L76.50,42.46 L77.50,42.46 L78.50,42.46 L79.50,42.46 L80.50,42.46 L81.50,42.46 L82.50,42.46 L83.50,42.46 L84.50,42.46 L85.50,42.46 L86.50,42.46 L87.50,42.46 L88.50,42.46 L89.50,42.46 L90.50,42.46 L91.50,42.46 L92.50,42.46 L93.50,42.46 L94.50,42.46 L95.50,42.46 L96.50,42.46 L97.50,42.46 L98.50,42.46 L99.50,42.47 L100.50,42.47 L101.50,42.47 L102.50,42.47 L103.50,42.47 L104.50,42.47 L105.50,42.47 L106.50,42.47 L107.50,42.47 L108.50,42.47 L109.50,42.47 L110.50,42.47 L111.50,42.47 L112.50,42.47 L113.50,42.47 L114.50,42.47 L115.50,42.47 L116.50,42.47 L117.50,42.48 L118.50,42.48 L119.50,42.48 L120.50,42.48 L121.50,42.48 L122.50,42.48 L123.50,42.48 L124.50,42.48 L125.50,42.48 L126.50,42.48 L127.50,42.48 L128.50,42.49 L129.50,42.49 L130.50,42.49 L131.50,42.49 L132.50,42.49 L133.50,42.49 L134.50,42.49 L135.50,42.49 L136.50,42.50 L137.50,42.50 L138.50,42.50 L139.50,42.50 L140.50,42.50 L141.50,42.50 L142.50,42.50 L143.50,42.51 L144.50,42.51 L145.50,42.51 L146.50,42.51 L147.50,42.51 L148.50,42.51 L149.50,42.52 L150.50,42.52 L151.50,42.52 L152.50,42.52 L153.50,42.53 L154.50,42.53 L155.50,42.53 L156.50,42.53 L157.50,42.53 L158.50,42.54 L159.50,42.54 L160.50,42.54 L161.50,42.55 L162.50,42.55 L163.50,42.55 L164.50,42.55 L165.50,42.56 L166.50,42.56 L167.50,42.56 L168.50,42.57 L169.50,42.57 L170.50,42.58 L171.50,42.58 L172.50,42.58 L173.50,42.59 L174.50,42.59 L175.50,42.60 L176.50,42.60 L177.50,42.60 L178.50,42.61 L179.50,42.61 L180.50,42.62 L181.50,42.62 L182.50,42.63 L183.50,42.63 L184.50,42.64 L185.50,42.65 L186.50,42.65 L187.50,42.66 L188.50,42.66 L189.50,42.67 L190.50,42.68 L191.50,42.68 L192.50,42.69 L193.50,42.70 L194.50,42.71 L195.50,42.71 L196.50,42.72 L197.50,42.73 L198.50,42.74 L199.50,42.75 L200.50,42.76 L201.50,42.77 L202.50,42.77 L203.50,42.78 L204.50,42.79 L205.50,42.80 L206.50,42.81 L207.50,42.83 L208.50,42.84 L209.50,42.85 L210.50,42.86 L211.50,42.87 L212.50,42.88 L213.50,42.90 L214.50,42.91 L215.50,42.92 L216.50,42.94 L217.50,42.95 L218.50,42.97 L219.50,42.98 L220.50,43.00 L221.50,43.01 L222.50,43.03 L223.50,43.04 L224.50,43.06 L225.50,43.08 L226.50,43.10 L227.50,43.12 L228.50,43.13 L229.50,43.15 L230.50,43.17 L231.50,43.19 L232.50,43.21 L233.50,43.24 L234.50,43.26 L235.50,43.28 L236.50,43.30 L237.50,43.33 L238.50,43.35 L239.50,43.38 L240.50,43.40 L241.50,43.43 L242.50,43.45 L243.50,43.48 L244.50,43.51 L245.50,43.54 L246.50,43.56 L247.50,43.59 L248.50,43.62 L249.50,43.66 L250.50,43.69 L251.50,43.72 L252.50,43.75 L253.50,43.79 L254.50,43.82 L255.50,43.85 L256.50,43.89 L257.50,43.93 L258.50,43.96 L259.50,44.00 L260.50,44.04 L261.50,44.08 L262.50,44.12 L263.50,44.16 L264.50,44.20 L265.50,44.24 L266.50,44.28 L267.50,44.33 L268.50,44.37 L269.50,44.41 L270.50,44.46 L271.50,44.51 L272.50,44.55 L273.50,44.60 L274.50,44.65 L275.50,44.70 L276.50,44.74 L277.50,44.79 L278.50,44.84 L279.50,44.89 L280.50,44.95 L281.50,45.00 L282.50,45.05 L283.50,45.10 L284.50,45.16 L285.50,45.21 L286.50,45.26 L287.50,45.32 L288.50,45.37 L289.50,45.43 L290.50,45.48 L291.50,45.54 L292.50,45.59 L293.50,45.65 L294.50,45.70 L295.50,45.76 L296.50,45.81 L297.50,45.87 L298.50,45.92 L299.50,45.98 L300.50,46.03 L301.50,46.09 L302.50,46.14 L303.50,46.20 L304.50,46.25 L305.50,46.30 L306.50,46.35 L307.50,46.41 L308.50,46.46 L309.50,46.51 L310.50,46.55 L311.50,46.60 L312.50,46.65 L313.50,46.69 L314.50,46.73 L315.50,46.77 L316.50,46.81 L317.50,46.85 L318.50,46.89 L319.50,46.92 L320.50,46.95 L321.50,46.98 L322.50,47.01 L323.50,47.03 L324.50,47.05 L325.50,47.07 L326.50,47.08 L327.50,47.09 L328.50,47.09 L329.50,47.09 L330.50,47.09 L331.50,47.08 L332.50,47.06 L333.50,47.04 L334.50,47.02 L335.50,46.99 L336.50,46.95 L337.50,46.90 L338.50,46.84 L339.50,46.78 L340.50,46.71 L341.50,46.62 L342.50,46.53 L343.50,46.42 L344.50,46.30 L345.50,46.17 L346.50,46.03 L347.50,45.86 L348.50,45.68 L349.50,45.48 L350.50,45.26 L351.50,45.01 L352.50,44.74 L353.50,44.44 L354.50,44.11 L355.00,43.93 L355.10,43.90 L355.20,43.86 L355.30,43.82 L355.40,43.78 L355.50,43.74 L355.60,43.71 L355.70,43.67 L355.80,43.63 L355.90,43.59 L356.00,43.55 L356.10,43.50 L356.20,43.46 L356.30,43.42 L356.40,43.38 L356.50,43.34 L356.60,43.29 L356.70,43.25 L356.80,43.20 L356.90,43.16 L357.00,43.11 L357.10,43.07 L357.20,43.02 L357.30,42.98 L357.40,42.93 L357.50,42.88 L357.60,42.83 L357.70,42.78 L357.80,42.74 L357.90,42.69 L358.00,42.64 L358.10,42.58 L358.20,42.53 L358.30,42.48 L358.40,42.43 L358.50,42.37 L358.60,42.32 L358.70,42.27 L358.80,42.21 L358.90,42.16 L359.00,42.10 L359.10,42.04 L359.20,41.98 L359.30,41.93 L359.40,41.87 L359.50,41.81 L359.60,41.75 L359.70,41.69 L359.80,41.62 L359.90,41.56 L360.00,41.50 L360.10,41.44 L360.20,41.37 L360.30,41.31 L360.40,41.24 L360.50,41.17 L360.60,41.10 L360.70,41.04 L360.80,40.97 L360.90,40.90 L361.00,40.82 L361.10,40.75 L361.20,40.68 L361.30,40.61 L361.40,40.53 L361.50,40.46 L361.60,40.38 L361.70,40.30 L361.80,40.22 L361.90,40.14 L362.00,40.06 L362.10,39.98 L362.20,39.90 L362.30,39.81 L362.40,39.73 L362.50,39.64 L362.60,39.56 L362.70,39.47 L362.80,39.38 L362.90,39.29 L363.00,39.20 L363.10,39.11 L363.20,39.01 L363.30,38.92 L363.40,38.82 L363.50,38.72 L363.60,38.62 L363.70,38.52 L363.80,38.42 L363.90,38.32 L364.00,38.22 L364.10,38.11 L364.20,38.00 L364.30,37.90 L364.40,37.79 L364.50,37.67 L364.60,37.56 L364.70,37.45 L364.80,37.33 L364.90,37.22 L365.00,37.10 L365.10,36.98 L365.20,36.85 L365.30,36.73 L365.40,36.61 L365.50,36.48 L365.60,36.35 L365.70,36.22 L365.80,36.09 L365.90,35.96 L366.00,35.82 L366.10,35.69 L366.20,35.55 L366.30,35.41 L366.40,35.27 L366.50,35.13 L366.60,34.99 L366.70,34.84 L366.80,34.70 L366.90,34.55 L367.00,34.40 L367.10,34.25 L367.20,34.10 L367.30,33.95 L367.40,33.80 L367.50,33.65 L367.60,33.49 L367.70,33.34 L367.80,33.19 L367.90,33.03 L368.00,32.88 L368.10,32.73 L368.20,32.58 L368.30,32.43 L368.40,32.28 L368.50,32.14 L368.60,31.99 L368.70,31.85 L368.80,31.72 L368.90,31.59 L369.00,31.46 L369.10,31.34 L369.20,31.22 L369.30,31.11 L369.40,31.00 L369.50,30.91 L369.60,30.82 L369.70,30.74 L369.80,30.67 L369.90,30.62 L370.00,30.57 L370.10,30.53 L370.20,30.51 L370.30,30.49 L370.40,30.49 L370.50,30.50 L370.60,30.53 L370.70,30.56 L370.80,30.61 L370.90,30.68 L371.00,30.75 L371.10,30.84 L371.20,30.93 L371.30,31.04 L371.40,31.16 L371.50,31.29 L371.60,31.43 L371.70,31.58 L371.80,31.74 L371.90,31.90 L372.00,32.07 L372.10,32.25 L372.20,32.43 L372.30,32.62 L372.40,32.82 L372.50,33.01 L372.60,33.21 L372.70,33.42 L372.80,33.62 L372.90,33.83 L373.00,34.04 L373.10,34.25 L373.20,34.46 L373.30,34.68 L373.40,34.89 L373.50,35.10 L373.60,35.32 L373.70,35.53 L373.80,35.74 L373.90,35.96 L374.00,36.17 L374.10,36.38 L374.20,36.59 L374.30,36.80 L374.40,37.01 L374.50,37.21 L374.60,37.42 L374.70,37.62 L374.80,37.82 L374.90,38.02 L375.00,38.22 L375.10,38.42 L375.20,38.62 L375.30,38.81 L375.40,39.01 L375.50,39.20 L375.60,39.39 L375.70,39.58 L375.80,39.76 L375.90,39.95 L376.00,40.13 L376.10,40.31 L376.20,40.49 L376.30,40.67 L376.40,40.85 L376.50,41.03 L376.60,41.20 L376.70,41.37 L376.80,41.55 L376.90,41.72 L377.00,41.89 L377.10,42.05 L377.20,42.22 L377.30,42.38 L377.40,42.55 L377.50,42.71 L377.60,42.87 L377.70,43.03 L377.80,43.19 L377.90,43.34 L378.00,43.50 L378.10,43.65 L378.20,43.80 L378.30,43.96 L378.40,44.11 L378.50,44.26 L378.60,44.41 L378.70,44.55 L378.80,44.70 L378.90,44.84 L379.00,44.99 L379.10,45.13 L379.20,45.27 L379.30,45.41 L379.40,45.55 L379.50,45.69 L379.60,45.83 L379.70,45.97 L379.80,46.10 L379.90,46.24 L380.00,46.37 L380.10,46.51 L380.20,46.64 L380.30,46.77 L380.40,46.90 L380.50,47.03 L380.60,47.16 L380.70,47.29 L380.80,47.41 L380.90,47.54 L381.00,47.67 L381.10,47.79 L381.20,47.92 L381.30,48.04 L381.40,48.16 L381.50,48.29 L381.60,48.41 L381.70,48.53 L381.80,48.65 L381.90,48.77 L382.00,48.88 L382.10,49.00 L382.20,49.12 L382.30,49.24 L382.40,49.35 L382.50,49.47 L382.60,49.58 L382.70,49.70 L382.80,49.81 L382.90,49.92 L383.00,50.04 L383.10,50.15 L383.20,50.26 L383.30,50.37 L383.40,50.48 L383.50,50.59 L383.60,50.70 L383.70,50.81 L383.80,50.91 L383.90,51.02 L384.00,51.13 L384.10,51.23 L384.20,51.34 L384.30,51.45 L384.40,51.55 L384.50,51.66 L384.60,51.76 L384.70,51.86 L384.80,51.97 L384.90,52.07 L385.00,52.17 L385.10,52.27 L385.20,52.37 L385.30,52.47 L385.40,52.57 L385.50,52.67 L385.60,52.77 L385.70,52.87 L385.80,52.97 L385.90,53.07 L386.00,53.17 L386.10,53.27 L386.20,53.36 L386.30,53.46 L386.40,53.56 L386.50,53.65 L386.60,53.75 L386.70,53.84 L386.80,53.94 L386.90,54.03 L387.00,54.13 L387.10,54.22 L387.20,54.31 L387.30,54.41 L387.40,54.50 L387.50,54.59 L387.60,54.68 L387.70,54.77 L387.80,54.87 L387.90,54.96 L388.00,55.05 L388.10,55.14 L388.20,55.23 L388.30,55.32 L388.40,55.41 L388.50,55.50 L388.60,55.59 L388.70,55.67 L388.80,55.76 L388.90,55.85 L389.00,55.94 L389.10,56.03 L389.20,56.11 L389.30,56.20 L389.40,56.29 L389.50,56.37 L389.60,56.46 L389.70,56.55 L389.80,56.63 L389.90,56.72 L390.50,57.22 L391.50,58.05 L392.50,58.85 L393.50,59.63 L394.50,60.39 L395.50,61.14 L396.50,61.87 L397.50,62.58 L398.50,63.28 L399.50,63.97 L400.50,64.65 L401.50,65.31 L402.50,65.96 L403.50,66.61 L404.50,67.24 L405.50,67.87 L406.50,68.49 L407.50,69.10 L408.50,69.70 L409.50,70.29 L410.50,70.88 L411.50,71.46 L412.50,72.04 L413.50,72.61 L414.50,73.17 L415.50,73.73 L416.50,74.28 L417.50,74.83 L418.50,75.37 L419.50,75.91 L420.50,76.44 L421.50,76.97 L422.50,77.50 L423.50,78.02 L424.50,78.53 L425.50,79.05 L426.50,79.55 L427.50,80.06 L428.50,80.56 L429.50,81.06 L430.50,81.55 L431.50,82.04 L432.50,82.53 L433.50,83.01 L434.50,83.49 L435.50,83.97 L436.50,84.44 L437.50,84.92 L438.50,85.38 L439.50,85.85 L440.50,86.31 L441.50,86.77 L442.50,87.22 L443.50,87.68 L444.50,88.13 L445.50,88.58 L446.50,89.02 L447.50,89.46 L448.50,89.90 L449.50,90.34 L450.50,90.77 L451.50,91.20 L452.50,91.63 L453.50,92.05 L454.50,92.48 L455.50,92.90 L456.50,93.31 L457.50,93.73 L458.50,94.14 L459.50,94.55 L460.50,94.96 L461.50,95.36 L462.50,95.76 L463.50,96.16 L464.50,96.56 L465.50,96.95 L466.50,97.34 L467.50,97.73 L468.50,98.11 L469.50,98.50 L470.50,98.88 L471.50,99.26 L472.50,99.63 L473.50,100.00 L474.50,100.38 L475.50,100.74 L476.50,101.11 L477.50,101.47 L478.50,101.83 L479.50,102.19 L480.50,102.54 L481.50,102.90 L482.50,103.25 L483.50,103.59 L484.50,103.94 L485.50,104.28 L486.50,104.62 L487.50,104.96 L488.50,105.30 L489.50,105.63 L490.50,105.96 L491.50,106.29 L492.50,106.61 L493.50,106.94 L494.50,107.26 L495.50,107.57 L496.50,107.89 L497.50,108.20 L498.50,108.52 L499.50,108.82 L500.50,109.13 L501.50,109.43 L502.50,109.74 L503.50,110.04 L504.50,110.33 L505.50,110.63 L506.50,110.92 L507.50,111.21 L508.50,111.50 L509.50,111.79 L510.50,112.07 L511.50,112.35 L512.50,112.63 L513.50,112.91 L514.50,113.18 L515.50,113.46 L516.50,113.73 L517.50,114.00 L518.50,114.26 L519.50,114.53 L520.50,114.79 L521.50,115.05 L522.50,115.31 L523.50,115.57 L524.50,115.83 L525.50,116.08 L526.50,116.33 L527.50,116.58 L528.50,116.83 L529.50,117.07 L530.50,117.32 L531.50,117.56 L532.50,117.80 L533.50,118.04 L534.50,118.28 L535.50,118.51 L536.50,118.75 L537.50,118.98 L538.50,119.21 L539.50,119.44 L540.50,119.67 L541.50,119.90 L542.50,120.12 L543.50,120.34 L544.50,120.57 L545.50,120.79 L546.50,121.01 L547.50,121.22 L548.50,121.44 L549.50,121.66 L550.50,121.87 L551.50,122.08 L552.50,122.29 L553.50,122.50 L554.50,122.71 L555.50,122.92 L556.50,123.13 L557.50,123.33 L558.50,123.54 L559.50,123.74 L560.50,123.94 L561.50,124.15 L562.50,124.35 L563.50,124.55 L564.50,124.74 L565.50,124.94 L566.50,125.14 L567.50,125.33 L568.50,125.53 L569.50,125.72 L570.50,125.92 L571.50,126.11 L572.50,126.30 L573.50,126.49 L574.50,126.68 L575.50,126.87 L576.50,127.06 L577.50,127.25 L578.50,127.43 L579.50,127.62 L580.50,127.81 L581.50,127.99 L582.50,128.18 L583.50,128.36 L584.50,128.54 L585.50,128.72 L586.50,128.91 L587.50,129.09 L588.50,129.27 L589.50,129.45 L590.50,129.63 L591.50,129.81 L592.50,129.99 L593.50,130.17 L594.50,130.35 L595.50,130.52 L596.50,130.70 L597.50,130.88 L598.50,131.05 L599.50,131.23 L600.50,131.41 L601.50,131.58 L602.50,131.76 L603.50,131.93 L604.50,132.10 L605.50,132.28 L606.50,132.45 L607.50,132.62 L608.50,132.80 L609.50,132.97 L610.50,133.14 L611.50,133.31 L612.50,133.49 L613.50,133.66 L614.50,133.83 L615.50,134.00 L616.50,134.17 L617.50,134.34 L618.50,134.51 L619.50,134.68 L620.50,134.85 L621.50,135.02 L622.50,135.19 L623.50,135.36 L624.50,135.53 L625.50,135.70 L626.50,135.86 L627.50,136.03 L628.50,136.20 L629.50,136.37 L630.50,136.54 L631.50,136.70 L632.50,136.87 L633.50,137.04 L634.50,137.21 L635.50,137.37 L636.50,137.54 L637.50,137.71 L638.50,137.87 L639.50,138.04 L640.50,138.21 L641.50,138.37 L642.50,138.54 L643.50,138.70 L644.50,138.87 L645.50,139.04 L646.50,139.20 L647.50,139.37 L648.50,139.53 L649.50,139.70 L650.50,139.86 L651.50,140.03 L652.50,140.19 L653.50,140.36 L654.50,140.52 L655.50,140.69 L656.50,140.85 L657.50,141.02 L658.50,141.18 L659.50,141.35 L660.50,141.51 L661.50,141.68 L662.50,141.84 L663.50,142.01 L664.50,142.17 L665.50,142.34 L666.50,142.50 L667.50,142.66 L668.50,142.83 L669.50,142.99 L670.30,143.12" stroke-width="1.5" stroke-dasharray="6.5 6.5"/>
<path d="M70.50,42.06 L71.50,42.06 L72.50,42.06 L73.50,42.06 L74.50,42.06 L75.50,42.06 L76.50,42.06 L77.50,42.06 L78.50,42.06 L79.50,42.06 L80.50,42.07 L81.50,42.07 L82.50,42.07 L83.50,42.07 L84.50,42.07 L85.50,42.07 L86.50,42.07 L87.50,42.07 L88.50,42.07 L89.50,42.07 L90.50,42.07 L91.50,42.07 L92.50,42.07 L93.50,42.07 L94.50,42.07 L95.50,42.07 L96.50,42.07 L97.50,42.07 L98.50,42.07 L99.50,42.07 L100.50,42.07 L101.50,42.07 L102.50,42.07 L103.50,42.07 L104.50,42.07 L105.50,42.07 L106.50,42.08 L107.50,42.08 L108.50,42.08 L109.50,42.08 L110.50,42.08 L111.50,42.08 L112.50,42.08 L113.50,42.08 L114.50,42.08 L115.50,42.08 L116.50,42.08 L117.50,42.08 L118.50,42.08 L119.50,42.08 L120.50,42.09 L121.50,42.09 L122.50,42.09 L123.50,42.09 L124.50,42.09 L125.50,42.09 L126.50,42.09 L127.50,42.09 L128.50,42.09 L129.50,42.09 L130.50,42.10 L131.50,42.10 L132.50,42.10 L133.50,42.10 L134.50,42.10 L135.50,42.10 L136.50,42.10 L137.50,42.10 L138.50,42.11 L139.50,42.11 L140.50,42.11 L141.50,42.11 L142.50,42.11 L143.50,42.11 L144.50,42.12 L145.50,42.12 L146.50,42.12 L147.50,42.12 L148.50,42.12 L149.50,42.13 L150.50,42.13 L151.50,42.13 L152.50,42.13 L153.50,42.13 L154.50,42.14 L155.50,42.14 L156.50,42.14 L157.50,42.14 L158.50,42.15 L159.50,42.15 L160.50,42.15 L161.50,42.16 L162.50,42.16 L163.50,42.16 L164.50,42.16 L165.50,42.17 L166.50,42.17 L167.50,42.18 L168.50,42.18 L169.50,42.18 L170.50,42.19 L171.50,42.19 L172.50,42.19 L173.50,42.20 L174.50,42.20 L175.50,42.21 L176.50,42.21 L177.50,42.22 L178.50,42.22 L179.50,42.23 L180.50,42.23 L181.50,42.24 L182.50,42.24 L183.50,42.25 L184.50,42.25 L185.50,42.26 L186.50,42.27 L187.50,42.27 L188.50,42.28 L189.50,42.29 L190.50,42.29 L191.50,42.30 L192.50,42.31 L193.50,42.31 L194.50,42.32 L195.50,42.33 L196.50,42.34 L197.50,42.35 L198.50,42.36 L199.50,42.37 L200.50,42.37 L201.50,42.38 L202.50,42.39 L203.50,42.40 L204.50,42.41 L205.50,42.42 L206.50,42.44 L207.50,42.45 L208.50,42.46 L209.50,42.47 L210.50,42.48 L211.50,42.49 L212.50,42.51 L213.50,42.52 L214.50,42.53 L215.50,42.55 L216.50,42.56 L217.50,42.58 L218.50,42.59 L219.50,42.61 L220.50,42.62 L221.50,42.64 L222.50,42.66 L223.50,42.67 L224.50,42.69 L225.50,42.71 L226.50,42.73 L227.50,42.75 L228.50,42.77 L229.50,42.79 L230.50,42.81 L231.50,42.83 L232.50,42.85 L233.50,42.87 L234.50,42.89 L235.50,42.92 L236.50,42.94 L237.50,42.97 L238.50,42.99 L239.50,43.02 L240.50,43.04 L241.50,43.07 L242.50,43.10 L243.50,43.12 L244.50,43.15 L245.50,43.18 L246.50,43.21 L247.50,43.24 L248.50,43.27 L249.50,43.31 L250.50,43.34 L251.50,43.37 L252.50,43.41 L253.50,43.44 L254.50,43.48 L255.50,43.51 L256.50,43.55 L257.50,43.59 L258.50,43.62 L259.50,43.66 L260.50,43.70 L261.50,43.74 L262.50,43.78 L263.50,43.82 L264.50,43.87 L265.50,43.91 L266.50,43.95 L267.50,44.00 L268.50,44.04 L269.50,44.09 L270.50,44.14 L271.50,44.18 L272.50,44.23 L273.50,44.28 L274.50,44.33 L275.50,44.38 L276.50,44.43 L277.50,44.48 L278.50,44.53 L279.50,44.58 L280.50,44.63 L281.50,44.69 L282.50,44.74 L283.50,44.79 L284.50,44.85 L285.50,44.90 L286.50,44.96 L287.50,45.01 L288.50,45.07 L289.50,45.12 L290.50,45.18 L291.50,45.24 L292.50,45.29 L293.50,45.35 L294.50,45.41 L295.50,45.46 L296.50,45.52 L297.50,45.58 L298.50,45.63 L299.50,45.69 L300.50,45.75 L301.50,45.80 L302.50,45.86 L303.50,45.91 L304.50,45.97 L305.50,46.02 L306.50,46.07 L307.50,46.12 L308.50,46.18 L309.50,46.23 L310.50,46.27 L311.50,46.32 L312.50,46.37 L313.50,46.41 L314.50,46.46 L315.50,46.50 L316.50,46.54 L317.50,46.58 L318.50,46.61 L319.50,46.65 L320.50,46.68 L321.50,46.71 L322.50,46.73 L323.50,46.76 L324.50,46.78 L325.50,46.79 L326.50,46.81 L327.50,46.82 L328.50,46.82 L329.50,46.82 L330.50,46.82 L331.50,46.81 L332.50,46.79 L333.50,46.77 L334.50,46.75 L335.50,46.72 L336.50,46.68 L337.50,46.63 L338.50,46.57 L339.50,46.51 L340.50,46.43 L341.50,46.35 L342.50,46.26 L343.50,46.15 L344.50,46.03 L345.50,45.90 L346.50,45.75 L347.50,45.59 L348.50,45.40 L349.50,45.20 L350.50,44.98 L351.50,44.73 L352.50,44.46 L353.50,44.16 L354.50,43.83 L355.00,43.65 L355.10,43.61 L355.20,43.57 L355.30,43.54 L355.40,43.50 L355.50,43.46 L355.60,43.42 L355.70,43.38 L355.80,43.34 L355.90,43.30 L356.00,43.26 L356.10,43.22 L356.20,43.18 L356.30,43.13 L356.40,43.09 L356.50,43.05 L356.60,43.01 L356.70,42.96 L356.80,42.92 L356.90,42.87 L357.00,42.83 L357.10,42.78 L357.20,42.74 L357.30,42.69 L357.40,42.64 L357.50,42.59 L357.60,42.55 L357.70,42.50 L357.80,42.45 L357.90,42.40 L358.00,42.35 L358.10,42.30 L358.20,42.24 L358.30,42.19 L358.40,42.14 L358.50,42.09 L358.60,42.03 L358.70,41.98 L358.80,41.92 L358.90,41.87 L359.00,41.81 L359.10,41.75 L359.20,41.69 L359.30,41.64 L359.40,41.58 L359.50,41.52 L359.60,41.46 L359.70,41.40 L359.80,41.33 L359.90,41.27 L360.00,41.21 L360.10,41.14 L360.20,41.08 L360.30,41.01 L360.40,40.95 L360.50,40.88 L360.60,40.81 L360.70,40.74 L360.80,40.67 L360.90,40.60 L361.00,40.53 L361.10,40.46 L361.20,40.39 L361.30,40.31 L361.40,40.24 L361.50,40.16 L361.60,40.08 L361.70,40.01 L361.80,39.93 L361.90,39.85 L362.00,39.77 L362.10,39.69 L362.20,39.60 L362.30,39.52 L362.40,39.43 L362.50,39.35 L362.60,39.26 L362.70,39.17 L362.80,39.08 L362.90,38.99 L363.00,38.90 L363.10,38.81 L363.20,38.72 L363.30,38.62 L363.40,38.52 L363.50,38.43 L363.60,38.33 L363.70,38.23 L363.80,38.12 L363.90,38.02 L364.00,37.92 L364.10,37.81 L364.20,37.70 L364.30,37.60 L364.40,37.49 L364.50,37.37 L364.60,37.26 L364.70,37.15 L364.80,37.03 L364.90,36.91 L365.00,36.80 L365.10,36.68 L365.20,36.55 L365.30,36.43 L365.40,36.30 L365.50,36.18 L365.60,36.05 L365.70,35.92 L365.80,35.79 L365.90,35.66 L366.00,35.52 L366.10,35.39 L366.20,35.25 L366.30,35.11 L366.40,34.97 L366.50,34.83 L366.60,34.68 L366.70,34.54 L366.80,34.39 L366.90,34.24 L367.00,34.10 L367.10,33.95 L367.20,33.80 L367.30,33.64 L367.40,33.49 L367.50,33.34 L367.60,33.19 L367.70,33.03 L367.80,32.88 L367.90,32.73 L368.00,32.57 L368.10,32.42 L368.20,32.27 L368.30,32.12 L368.40,31.97 L368.50,31.83 L368.60,31.68 L368.70,31.54 L368.80,31.41 L368.90,31.28 L369.00,31.15 L369.10,31.02 L369.20,30.91 L369.30,30.80 L369.40,30.69 L369.50,30.60 L369.60,30.51 L369.70,30.43 L369.80,30.36 L369.90,30.30 L370.00,30.26 L370.10,30.22 L370.20,30.19 L370.30,30.18 L370.40,30.18 L370.50,30.19 L370.60,30.21 L370.70,30.25 L370.80,30.30 L370.90,30.36 L371.00,30.44 L371.10,30.52 L371.20,30.62 L371.30,30.73 L371.40,30.85 L371.50,30.98 L371.60,31.12 L371.70,31.26 L371.80,31.42 L371.90,31.58 L372.00,31.76 L372.10,31.93 L372.20,32.12 L372.30,32.30 L372.40,32.50 L372.50,32.69 L372.60,32.89 L372.70,33.10 L372.80,33.30 L372.90,33.51 L373.00,33.72 L373.10,33.93 L373.20,34.14 L373.30,34.36 L373.40,34.57 L373.50,34.78 L373.60,35.00 L373.70,35.21 L373.80,35.42 L373.90,35.63 L374.00,35.85 L374.10,36.06 L374.20,36.27 L374.30,36.47 L374.40,36.68 L374.50,36.89 L374.60,37.09 L374.70,37.30 L374.80,37.50 L374.90,37.70 L375.00,37.90 L375.10,38.09 L375.20,38.29 L375.30,38.48 L375.40,38.68 L375.50,38.87 L375.60,39.06 L375.70,39.25 L375.80,39.43 L375.90,39.62 L376.00,39.80 L376.10,39.98 L376.20,40.16 L376.30,40.34 L376.40,40.52 L376.50,40.70 L376.60,40.87 L376.70,41.04 L376.80,41.21 L376.90,41.38 L377.00,41.55 L377.10,41.72 L377.20,41.89 L377.30,42.05 L377.40,42.21 L377.50,42.37 L377.60,42.53 L377.70,42.69 L377.80,42.85 L377.90,43.01 L378.00,43.16 L378.10,43.32 L378.20,43.47 L378.30,43.62 L378.40,43.77 L378.50,43.92 L378.60,44.07 L378.70,44.21 L378.80,44.36 L378.90,44.50 L379.00,44.65 L379.10,44.79 L379.20,44.93 L379.30,45.07 L379.40,45.21 L379.50,45.35 L379.60,45.49 L379.70,45.63 L379.80,45.76 L379.90,45.90 L380.00,46.03 L380.10,46.16 L380.20,46.29 L380.30,46.43 L380.40,46.56 L380.50,46.69 L380.60,46.81 L380.70,46.94 L380.80,47.07 L380.90,47.20 L381.00,47.32 L381.10,47.45 L381.20,47.57 L381.30,47.69 L381.40,47.82 L381.50,47.94 L381.60,48.06 L381.70,48.18 L381.80,48.30 L381.90,48.42 L382.00,48.53 L382.10,48.65 L382.20,48.77 L382.30,48.89 L382.40,49.00 L382.50,49.12 L382.60,49.23 L382.70,49.34 L382.80,49.46 L382.90,49.57 L383.00,49.68 L383.10,49.79 L383.20,49.90 L383.30,50.01 L383.40,50.12 L383.50,50.23 L383.60,50.34 L383.70,50.45 L383.80,50.56 L383.90,50.66 L384.00,50.77 L384.10,50.88 L384.20,50.98 L384.30,51.09 L384.40,51.19 L384.50,51.30 L384.60,51.40 L384.70,51.50 L384.80,51.60 L384.90,51.71 L385.00,51.81 L385.10,51.91 L385.20,52.01 L385.30,52.11 L385.40,52.21 L385.50,52.31 L385.60,52.41 L385.70,52.51 L385.80,52.61 L385.90,52.70 L386.00,52.80 L386.10,52.90 L386.20,53.00 L386.30,53.09 L386.40,53.19 L386.50,53.28 L386.60,53.38 L386.70,53.47 L386.80,53.57 L386.90,53.66 L387.00,53.76 L387.10,53.85 L387.20,53.94 L387.30,54.03 L387.40,54.13 L387.50,54.22 L387.60,54.31 L387.70,54.40 L387.80,54.49 L387.90,54.58 L388.00,54.67 L388.10,54.76 L388.20,54.85 L388.30,54.94 L388.40,55.03 L388.50,55.12 L388.60,55.21 L388.70,55.30 L388.80,55.38 L388.90,55.47 L389.00,55.56 L389.10,55.65 L389.20,55.73 L389.30,55.82 L389.40,55.91 L389.50,55.99 L389.60,56.08 L389.70,56.16 L389.80,56.25 L389.90,56.33 L390.50,56.84 L391.50,57.65 L392.50,58.45 L393.50,59.23 L394.50,59.99 L395.50,60.72 L396.50,61.45 L397.50,62.16 L398.50,62.85 L399.50,63.53 L400.50,64.20 L401.50,64.86 L402.50,65.51 L403.50,66.14 L404.50,66.77 L405.50,67.39 L406.50,68.00 L407.50,68.60 L408.50,69.20 L409.50,69.78 L410.50,70.36 L411.50,70.94 L412.50,71.50 L413.50,72.06 L414.50,72.62 L415.50,73.17 L416.50,73.71 L417.50,74.25 L418.50,74.78 L419.50,75.31 L420.50,75.83 L421.50,76.35 L422.50,76.86 L423.50,77.37 L424.50,77.88 L425.50,78.38 L426.50,78.87 L427.50,79.37 L428.50,79.86 L429.50,80.34 L430.50,80.82 L431.50,81.30 L432.50,81.77 L433.50,82.24 L434.50,82.71 L435.50,83.17 L436.50,83.63 L437.50,84.09 L438.50,84.54 L439.50,84.99 L440.50,85.43 L441.50,85.88 L442.50,86.32 L443.50,86.75 L444.50,87.19 L445.50,87.62 L446.50,88.04 L447.50,88.47 L448.50,88.89 L449.50,89.31 L450.50,89.72 L451.50,90.13 L452.50,90.54 L453.50,90.95 L454.50,91.35 L455.50,91.75 L456.50,92.15 L457.50,92.54 L458.50,92.93 L459.50,93.32 L460.50,93.70 L461.50,94.09 L462.50,94.47 L463.50,94.84 L464.50,95.22 L465.50,95.59 L466.50,95.95 L467.50,96.32 L468.50,96.68 L469.50,97.04 L470.50,97.40 L471.50,97.75 L472.50,98.10 L473.50,98.45 L474.50,98.80 L475.50,99.14 L476.50,99.48 L477.50,99.82 L478.50,100.15 L479.50,100.49 L480.50,100.81 L481.50,101.14 L482.50,101.47 L483.50,101.79 L484.50,102.11 L485.50,102.42 L486.50,102.74 L487.50,103.05 L488.50,103.36 L489.50,103.66 L490.50,103.97 L491.50,104.27 L492.50,104.56 L493.50,104.86 L494.50,105.15 L495.50,105.45 L496.50,105.73 L497.50,106.02 L498.50,106.31 L499.50,106.59 L500.50,106.87 L501.50,107.14 L502.50,107.42 L503.50,107.69 L504.50,107.96 L505.50,108.23 L506.50,108.50 L507.50,108.76 L508.50,109.02 L509.50,109.28 L510.50,109.54 L511.50,109.80 L512.50,110.05 L513.50,110.30 L514.50,110.55 L515.50,110.80 L516.50,111.05 L517.50,111.29 L518.50,111.53 L519.50,111.77 L520.50,112.01 L521.50,112.25 L522.50,112.49 L523.50,112.72 L524.50,112.95 L525.50,113.18 L526.50,113.41 L527.50,113.64 L528.50,113.86 L529.50,114.09 L530.50,114.31 L531.50,114.53 L532.50,114.75 L533.50,114.97 L534.50,115.19 L535.50,115.40 L536.50,115.62 L537.50,115.83 L538.50,116.04 L539.50,116.25 L540.50,116.46 L541.50,116.67 L542.50,116.88 L543.50,117.08 L544.50,117.29 L545.50,117.49 L546.50,117.69 L547.50,117.90 L548.50,118.10 L549.50,118.30 L550.50,118.49 L551.50,118.69 L552.50,118.89 L553.50,119.08 L554.50,119.28 L555.50,119.47 L556.50,119.67 L557.50,119.86 L558.50,120.05 L559.50,120.24 L560.50,120.43 L561.50,120.62 L562.50,120.81 L563.50,120.99 L564.50,121.18 L565.50,121.37 L566.50,121.55 L567.50,121.74 L568.50,121.92 L569.50,122.11 L570.50,122.29 L571.50,122.47 L572.50,122.65 L573.50,122.83 L574.50,123.02 L575.50,123.20 L576.50,123.38 L577.50,123.55 L578.50,123.73 L579.50,123.91 L580.50,124.09 L581.50,124.27 L582.50,124.44 L583.50,124.62 L584.50,124.80 L585.50,124.97 L586.50,125.15 L587.50,125.32 L588.50,125.50 L589.50,125.67 L590.50,125.85 L591.50,126.02 L592.50,126.19 L593.50,126.37 L594.50,126.54 L595.50,126.71 L596.50,126.88 L597.50,127.06 L598.50,127.23 L599.50,127.40 L600.50,127.57 L601.50,127.74 L602.50,127.91 L603.50,128.08 L604.50,128.25 L605.50,128.42 L606.50,128.59 L607.50,128.76 L608.50,128.93 L609.50,129.10 L610.50,129.27 L611.50,129.43 L612.50,129.60 L613.50,129.77 L614.50,129.94 L615.50,130.11 L616.50,130.28 L617.50,130.44 L618.50,130.61 L619.50,130.78 L620.50,130.94 L621.50,131.11 L622.50,131.28 L623.50,131.44 L624.50,131.61 L625.50,131.78 L626.50,131.94 L627.50,132.11 L628.50,132.28 L629.50,132.44 L630.50,132.61 L631.50,132.77 L632.50,132.94 L633.50,133.11 L634.50,133.27 L635.50,133.44 L636.50,133.60 L637.50,133.77 L638.50,133.93 L639.50,134.10 L640.50,134.26 L641.50,134.43 L642.50,134.59 L643.50,134.76 L644.50,134.92 L645.50,135.09 L646.50,135.25 L647.50,135.41 L648.50,135.58 L649.50,135.74 L650.50,135.91 L651.50,136.07 L652.50,136.24 L653.50,136.40 L654.50,136.56 L655.50,136.73 L656.50,136.89 L657.50,137.06 L658.50,137.22 L659.50,137.38 L660.50,137.55 L661.50,137.71 L662.50,137.88 L663.50,138.04 L664.50,138.20 L665.50,138.37 L666.50,138.53 L667.50,138.69 L668.50,138.86 L669.50,139.02 L670.30,139.15" stroke-width="1.3"/>
<path d="M70.50,41.96 L71.50,41.96 L72.50,41.96 L73.50,41.96 L74.50,41.96 L75.50,41.96 L76.50,41.96 L77.50,41.97 L78.50,41.97 L79.50,41.97 L80.50,41.97 L81.50,41.97 L82.50,41.97 L83.50,41.97 L84.50,41.97 L85.50,41.97 L86.50,41.97 L87.50,41.97 L88.50,41.97 L89.50,41.97 L90.50,41.97 L91.50,41.97 L92.50,41.97 L93.50,41.97 L94.50,41.97 L95.50,41.97 L96.50,41.97 L97.50,41.97 L98.50,41.97 L99.50,41.97 L100.50,41.97 L101.50,41.97 L102.50,41.98 L103.50,41.98 L104.50,41.98 L105.50,41.98 L106.50,41.98 L107.50,41.98 L108.50,41.98 L109.50,41.98 L110.50,41.98 L111.50,41.98 L112.50,41.98 L113.50,41.98 L114.50,41.98 L115.50,41.98 L116.50,41.99 L117.50,41.99 L118.50,41.99 L119.50,41.99 L120.50,41.99 L121.50,41.99 L122.50,41.99 L123.50,41.99 L124.50,41.99 L125.50,41.99 L126.50,42.00 L127.50,42.00 L128.50,42.00 L129.50,42.00 L130.50,42.00 L131.50,42.00 L132.50,42.00 L133.50,42.01 L134.50,42.01 L135.50,42.01 L136.50,42.01 L137.50,42.01 L138.50,42.01 L139.50,42.02 L140.50,42.02 L141.50,42.02 L142.50,42.02 L143.50,42.02 L144.50,42.02 L145.50,42.03 L146.50,42.03 L147.50,42.03 L148.50,42.03 L149.50,42.04 L150.50,42.04 L151.50,42.04 L152.50,42.04 L153.50,42.05 L154.50,42.05 L155.50,42.05 L156.50,42.06 L157.50,42.06 L158.50,42.06 L159.50,42.06 L160.50,42.07 L161.50,42.07 L162.50,42.07 L163.50,42.08 L164.50,42.08 L165.50,42.09 L166.50,42.09 L167.50,42.09 L168.50,42.10 L169.50,42.10 L170.50,42.11 L171.50,42.11 L172.50,42.12 L173.50,42.12 L174.50,42.13 L175.50,42.13 L176.50,42.14 L177.50,42.14 L178.50,42.15 L179.50,42.15 L180.50,42.16 L181.50,42.17 L182.50,42.17 L183.50,42.18 L184.50,42.19 L185.50,42.19 L186.50,42.20 L187.50,42.21 L188.50,42.21 L189.50,42.22 L190.50,42.23 L191.50,42.24 L192.50,42.25 L193.50,42.26 L194.50,42.26 L195.50,42.27 L196.50,42.28 L197.50,42.29 L198.50,42.30 L199.50,42.31 L200.50,42.32 L201.50,42.34 L202.50,42.35 L203.50,42.36 L204.50,42.37 L205.50,42.38 L206.50,42.39 L207.50,42.41 L208.50,42.42 L209.50,42.43 L210.50,42.45 L211.50,42.46 L212.50,42.48 L213.50,42.49 L214.50,42.51 L215.50,42.52 L216.50,42.54 L217.50,42.56 L218.50,42.58 L219.50,42.59 L220.50,42.61 L221.50,42.63 L222.50,42.65 L223.50,42.67 L224.50,42.69 L225.50,42.71 L226.50,42.73 L227.50,42.75 L228.50,42.78 L229.50,42.80 L230.50,42.82 L231.50,42.85 L232.50,42.87 L233.50,42.90 L234.50,42.92 L235.50,42.95 L236.50,42.97 L237.50,43.00 L238.50,43.03 L239.50,43.06 L240.50,43.09 L241.50,43.12 L242.50,43.15 L243.50,43.18 L244.50,43.21 L245.50,43.25 L246.50,43.28 L247.50,43.32 L248.50,43.35 L249.50,43.39 L250.50,43.42 L251.50,43.46 L252.50,43.50 L253.50,43.54 L254.50,43.58 L255.50,43.62 L256.50,43.66 L257.50,43.70 L258.50,43.74 L259.50,43.79 L260.50,43.83 L261.50,43.88 L262.50,43.92 L263.50,43.97 L264.50,44.01 L265.50,44.06 L266.50,44.11 L267.50,44.16 L268.50,44.21 L269.50,44.26 L270.50,44.31 L271.50,44.36 L272.50,44.42 L273.50,44.47 L274.50,44.52 L275.50,44.58 L276.50,44.63 L277.50,44.69 L278.50,44.75 L279.50,44.80 L280.50,44.86 L281.50,44.92 L282.50,44.98 L283.50,45.04 L284.50,45.09 L285.50,45.15 L286.50,45.21 L287.50,45.27 L288.50,45.33 L289.50,45.40 L290.50,45.46 L291.50,45.52 L292.50,45.58 L293.50,45.64 L294.50,45.70 L295.50,45.76 L296.50,45.82 L297.50,45.89 L298.50,45.95 L299.50,46.01 L300.50,46.07 L301.50,46.13 L302.50,46.19 L303.50,46.25 L304.50,46.30 L305.50,46.36 L306.50,46.42 L307.50,46.47 L308.50,46.53 L309.50,46.58 L310.50,46.63 L311.50,46.69 L312.50,46.74 L313.50,46.78 L314.50,46.83 L315.50,46.88 L316.50,46.92 L317.50,46.96 L318.50,47.00 L319.50,47.04 L320.50,47.07 L321.50,47.10 L322.50,47.13 L323.50,47.16 L324.50,47.18 L325.50,47.20 L326.50,47.21 L327.50,47.22 L328.50,47.23 L329.50,47.23 L330.50,47.23 L331.50,47.22 L332.50,47.21 L333.50,47.19 L334.50,47.16 L335.50,47.13 L336.50,47.09 L337.50,47.05 L338.50,46.99 L339.50,46.93 L340.50,46.85 L341.50,46.77 L342.50,46.67 L343.50,46.57 L344.50,46.45 L345.50,46.32 L346.50,46.17 L347.50,46.00 L348.50,45.82 L349.50,45.62 L350.50,45.39 L351.50,45.15 L352.50,44.87 L353.50,44.57 L354.50,44.24 L355.00,44.05 L355.10,44.02 L355.20,43.98 L355.30,43.94 L355.40,43.90 L355.50,43.86 L355.60,43.82 L355.70,43.79 L355.80,43.74 L355.90,43.70 L356.00,43.66 L356.10,43.62 L356.20,43.58 L356.30,43.54 L356.40,43.50 L356.50,43.45 L356.60,43.41 L356.70,43.36 L356.80,43.32 L356.90,43.27 L357.00,43.23 L357.10,43.18 L357.20,43.14 L357.30,43.09 L357.40,43.04 L357.50,42.99 L357.60,42.95 L357.70,42.90 L357.80,42.85 L357.90,42.80 L358.00,42.75 L358.10,42.69 L358.20,42.64 L358.30,42.59 L358.40,42.54 L358.50,42.48 L358.60,42.43 L358.70,42.37 L358.80,42.32 L358.90,42.26 L359.00,42.21 L359.10,42.15 L359.20,42.09 L359.30,42.03 L359.40,41.97 L359.50,41.91 L359.60,41.85 L359.70,41.79 L359.80,41.73 L359.90,41.66 L360.00,41.60 L360.10,41.54 L360.20,41.47 L360.30,41.41 L360.40,41.34 L360.50,41.27 L360.60,41.20 L360.70,41.13 L360.80,41.06 L360.90,40.99 L361.00,40.92 L361.10,40.85 L361.20,40.78 L361.30,40.70 L361.40,40.63 L361.50,40.55 L361.60,40.47 L361.70,40.39 L361.80,40.32 L361.90,40.24 L362.00,40.15 L362.10,40.07 L362.20,39.99 L362.30,39.91 L362.40,39.82 L362.50,39.73 L362.60,39.65 L362.70,39.56 L362.80,39.47 L362.90,39.38 L363.00,39.29 L363.10,39.19 L363.20,39.10 L363.30,39.00 L363.40,38.91 L363.50,38.81 L363.60,38.71 L363.70,38.61 L363.80,38.51 L363.90,38.40 L364.00,38.30 L364.10,38.19 L364.20,38.08 L364.30,37.98 L364.40,37.87 L364.50,37.75 L364.60,37.64 L364.70,37.53 L364.80,37.41 L364.90,37.29 L365.00,37.17 L365.10,37.05 L365.20,36.93 L365.30,36.81 L365.40,36.68 L365.50,36.55 L365.60,36.42 L365.70,36.29 L365.80,36.16 L365.90,36.03 L366.00,35.89 L366.10,35.76 L366.20,35.62 L366.30,35.48 L366.40,35.34 L366.50,35.20 L366.60,35.05 L366.70,34.91 L366.80,34.76 L366.90,34.61 L367.00,34.46 L367.10,34.31 L367.20,34.16 L367.30,34.01 L367.40,33.86 L367.50,33.71 L367.60,33.55 L367.70,33.40 L367.80,33.25 L367.90,33.09 L368.00,32.94 L368.10,32.79 L368.20,32.63 L368.30,32.48 L368.40,32.34 L368.50,32.19 L368.60,32.05 L368.70,31.91 L368.80,31.77 L368.90,31.64 L369.00,31.51 L369.10,31.39 L369.20,31.27 L369.30,31.16 L369.40,31.05 L369.50,30.96 L369.60,30.87 L369.70,30.79 L369.80,30.72 L369.90,30.66 L370.00,30.61 L370.10,30.57 L370.20,30.55 L370.30,30.53 L370.40,30.53 L370.50,30.54 L370.60,30.57 L370.70,30.60 L370.80,30.65 L370.90,30.71 L371.00,30.79 L371.10,30.87 L371.20,30.97 L371.30,31.08 L371.40,31.20 L371.50,31.33 L371.60,31.46 L371.70,31.61 L371.80,31.77 L371.90,31.93 L372.00,32.10 L372.10,32.28 L372.20,32.46 L372.30,32.65 L372.40,32.84 L372.50,33.04 L372.60,33.24 L372.70,33.44 L372.80,33.64 L372.90,33.85 L373.00,34.06 L373.10,34.27 L373.20,34.48 L373.30,34.69 L373.40,34.91 L373.50,35.12 L373.60,35.33 L373.70,35.55 L373.80,35.76 L373.90,35.97 L374.00,36.18 L374.10,36.39 L374.20,36.60 L374.30,36.81 L374.40,37.01 L374.50,37.22 L374.60,37.42 L374.70,37.63 L374.80,37.83 L374.90,38.03 L375.00,38.23 L375.10,38.42 L375.20,38.62 L375.30,38.81 L375.40,39.01 L375.50,39.20 L375.60,39.39 L375.70,39.57 L375.80,39.76 L375.90,39.94 L376.00,40.13 L376.10,40.31 L376.20,40.49 L376.30,40.66 L376.40,40.84 L376.50,41.02 L376.60,41.19 L376.70,41.36 L376.80,41.53 L376.90,41.70 L377.00,41.87 L377.10,42.04 L377.20,42.20 L377.30,42.37 L377.40,42.53 L377.50,42.69 L377.60,42.85 L377.70,43.01 L377.80,43.16 L377.90,43.32 L378.00,43.47 L378.10,43.63 L378.20,43.78 L378.30,43.93 L378.40,44.08 L378.50,44.23 L378.60,44.37 L378.70,44.52 L378.80,44.67 L378.90,44.81 L379.00,44.95 L379.10,45.10 L379.20,45.24 L379.30,45.38 L379.40,45.51 L379.50,45.65 L379.60,45.79 L379.70,45.93 L379.80,46.06 L379.90,46.19 L380.00,46.33 L380.10,46.46 L380.20,46.59 L380.30,46.72 L380.40,46.85 L380.50,46.98 L380.60,47.11 L380.70,47.24 L380.80,47.36 L380.90,47.49 L381.00,47.61 L381.10,47.74 L381.20,47.86 L381.30,47.98 L381.40,48.10 L381.50,48.22 L381.60,48.34 L381.70,48.46 L381.80,48.58 L381.90,48.70 L382.00,48.82 L382.10,48.94 L382.20,49.05 L382.30,49.17 L382.40,49.28 L382.50,49.40 L382.60,49.51 L382.70,49.62 L382.80,49.73 L382.90,49.85 L383.00,49.96 L383.10,50.07 L383.20,50.18 L383.30,50.29 L383.40,50.40 L383.50,50.51 L383.60,50.61 L383.70,50.72 L383.80,50.83 L383.90,50.93 L384.00,51.04 L384.10,51.14 L384.20,51.25 L384.30,51.35 L384.40,51.46 L384.50,51.56 L384.60,51.66 L384.70,51.76 L384.80,51.87 L384.90,51.97 L385.00,52.07 L385.10,52.17 L385.20,52.27 L385.30,52.37 L385.40,52.47 L385.50,52.57 L385.60,52.66 L385.70,52.76 L385.80,52.86 L385.90,52.96 L386.00,53.05 L386.10,53.15 L386.20,53.25 L386.30,53.34 L386.40,53.44 L386.50,53.53 L386.60,53.62 L386.70,53.72 L386.80,53.81 L386.90,53.91 L387.00,54.00 L387.10,54.09 L387.20,54.18 L387.30,54.27 L387.40,54.37 L387.50,54.46 L387.60,54.55 L387.70,54.64 L387.80,54.73 L387.90,54.82 L388.00,54.91 L388.10,55.00 L388.20,55.09 L388.30,55.17 L388.40,55.26 L388.50,55.35 L388.60,55.44 L388.70,55.52 L388.80,55.61 L388.90,55.70 L389.00,55.78 L389.10,55.87 L389.20,55.96 L389.30,56.04 L389.40,56.13 L389.50,56.21 L389.60,56.30 L389.70,56.38 L389.80,56.46 L389.90,56.55 L390.50,57.05 L391.50,57.86 L392.50,58.64 L393.50,59.41 L394.50,60.15 L395.50,60.88 L396.50,61.60 L397.50,62.29 L398.50,62.97 L399.50,63.64 L400.50,64.30 L401.50,64.95 L402.50,65.58 L403.50,66.20 L404.50,66.82 L405.50,67.42 L406.50,68.02 L407.50,68.60 L408.50,69.18 L409.50,69.75 L410.50,70.32 L411.50,70.87 L412.50,71.42 L413.50,71.96 L414.50,72.50 L415.50,73.03 L416.50,73.56 L417.50,74.07 L418.50,74.59 L419.50,75.10 L420.50,75.60 L421.50,76.10 L422.50,76.59 L423.50,77.08 L424.50,77.56 L425.50,78.04 L426.50,78.51 L427.50,78.98 L428.50,79.44 L429.50,79.91 L430.50,80.36 L431.50,80.81 L432.50,81.26 L433.50,81.71 L434.50,82.15 L435.50,82.58 L436.50,83.01 L437.50,83.44 L438.50,83.87 L439.50,84.29 L440.50,84.71 L441.50,85.12 L442.50,85.53 L443.50,85.94 L444.50,86.34 L445.50,86.74 L446.50,87.13 L447.50,87.53 L448.50,87.92 L449.50,88.30 L450.50,88.68 L451.50,89.06 L452.50,89.44 L453.50,89.81 L454.50,90.18 L455.50,90.54 L456.50,90.91 L457.50,91.27 L458.50,91.62 L459.50,91.97 L460.50,92.32 L461.50,92.67 L462.50,93.01 L463.50,93.35 L464.50,93.69 L465.50,94.03 L466.50,94.36 L467.50,94.68 L468.50,95.01 L469.50,95.33 L470.50,95.65 L471.50,95.97 L472.50,96.28 L473.50,96.59 L474.50,96.90 L475.50,97.21 L476.50,97.51 L477.50,97.81 L478.50,98.11 L479.50,98.40 L480.50,98.69 L481.50,98.98 L482.50,99.27 L483.50,99.55 L484.50,99.83 L485.50,100.11 L486.50,100.39 L487.50,100.66 L488.50,100.94 L489.50,101.21 L490.50,101.47 L491.50,101.74 L492.50,102.00 L493.50,102.26 L494.50,102.52 L495.50,102.78 L496.50,103.03 L497.50,103.28 L498.50,103.53 L499.50,103.78 L500.50,104.03 L501.50,104.27 L502.50,104.51 L503.50,104.75 L504.50,104.99 L505.50,105.23 L506.50,105.46 L507.50,105.70 L508.50,105.93 L509.50,106.16 L510.50,106.38 L511.50,106.61 L512.50,106.83 L513.50,107.06 L514.50,107.28 L515.50,107.50 L516.50,107.72 L517.50,107.94 L518.50,108.15 L519.50,108.37 L520.50,108.58 L521.50,108.79 L522.50,109.00 L523.50,109.21 L524.50,109.42 L525.50,109.63 L526.50,109.83 L527.50,110.04 L528.50,110.24 L529.50,110.44 L530.50,110.64 L531.50,110.84 L532.50,111.04 L533.50,111.24 L534.50,111.44 L535.50,111.63 L536.50,111.83 L537.50,112.02 L538.50,112.22 L539.50,112.41 L540.50,112.60 L541.50,112.79 L542.50,112.98 L543.50,113.17 L544.50,113.36 L545.50,113.55 L546.50,113.74 L547.50,113.92 L548.50,114.11 L549.50,114.29 L550.50,114.48 L551.50,114.66 L552.50,114.84 L553.50,115.03 L554.50,115.21 L555.50,115.39 L556.50,115.57 L557.50,115.75 L558.50,115.93 L559.50,116.11 L560.50,116.29 L561.50,116.47 L562.50,116.65 L563.50,116.83 L564.50,117.00 L565.50,117.18 L566.50,117.36 L567.50,117.53 L568.50,117.71 L569.50,117.88 L570.50,118.06 L571.50,118.23 L572.50,118.40 L573.50,118.58 L574.50,118.75 L575.50,118.93 L576.50,119.10 L577.50,119.27 L578.50,119.44 L579.50,119.61 L580.50,119.79 L581.50,119.96 L582.50,120.13 L583.50,120.30 L584.50,120.47 L585.50,120.64 L586.50,120.81 L587.50,120.98 L588.50,121.15 L589.50,121.32 L590.50,121.49 L591.50,121.66 L592.50,121.83 L593.50,121.99 L594.50,122.16 L595.50,122.33 L596.50,122.50 L597.50,122.67 L598.50,122.83 L599.50,123.00 L600.50,123.17 L601.50,123.34 L602.50,123.50 L603.50,123.67 L604.50,123.84 L605.50,124.00 L606.50,124.17 L607.50,124.34 L608.50,124.50 L609.50,124.67 L610.50,124.84 L611.50,125.00 L612.50,125.17 L613.50,125.33 L614.50,125.50 L615.50,125.66 L616.50,125.83 L617.50,126.00 L618.50,126.16 L619.50,126.33 L620.50,126.49 L621.50,126.66 L622.50,126.82 L623.50,126.99 L624.50,127.15 L625.50,127.32 L626.50,127.48 L627.50,127.64 L628.50,127.81 L629.50,127.97 L630.50,128.14 L631.50,128.30 L632.50,128.47 L633.50,128.63 L634.50,128.80 L635.50,128.96 L636.50,129.12 L637.50,129.29 L638.50,129.45 L639.50,129.62 L640.50,129.78 L641.50,129.94 L642.50,130.11 L643.50,130.27 L644.50,130.43 L645.50,130.60 L646.50,130.76 L647.50,130.93 L648.50,131.09 L649.50,131.25 L650.50,131.42 L651.50,131.58 L652.50,131.74 L653.50,131.91 L654.50,132.07 L655.50,132.23 L656.50,132.40 L657.50,132.56 L658.50,132.72 L659.50,132.89 L660.50,133.05 L661.50,133.21 L662.50,133.37 L663.50,133.54 L664.50,133.70 L665.50,133.86 L666.50,134.03 L667.50,134.19 L668.50,134.35 L669.50,134.52 L670.30,134.65" stroke-width="1.3"/>
<path d="M67.90,42.06h6.4M71.10,38.86v6.4M68.80,39.76l4.6,4.6M68.80,44.36l4.6,-4.6M78.00,42.07h6.4M81.20,38.87v6.4M78.90,39.77l4.6,4.6M78.90,44.37l4.6,-4.6M88.10,42.07h6.4M91.30,38.87v6.4M89.00,39.77l4.6,4.6M89.00,44.37l4.6,-4.6M98.20,42.07h6.4M101.40,38.87v6.4M99.10,39.77l4.6,4.6M99.10,44.37l4.6,-4.6M108.30,42.08h6.4M111.50,38.88v6.4M109.20,39.78l4.6,4.6M109.20,44.38l4.6,-4.6M118.40,42.09h6.4M121.60,38.89v6.4M119.30,39.79l4.6,4.6M119.30,44.39l4.6,-4.6M128.50,42.10h6.4M131.70,38.90v6.4M129.40,39.80l4.6,4.6M129.40,44.40l4.6,-4.6M138.60,42.11h6.4M141.80,38.91v6.4M139.50,39.81l4.6,4.6M139.50,44.41l4.6,-4.6M148.70,42.13h6.4M151.90,38.93v6.4M149.60,39.83l4.6,4.6M149.60,44.43l4.6,-4.6M158.80,42.16h6.4M162.00,38.96v6.4M159.70,39.86l4.6,4.6M159.70,44.46l4.6,-4.6M168.90,42.19h6.4M172.10,38.99v6.4M169.80,39.89l4.6,4.6M169.80,44.49l4.6,-4.6M179.00,42.24h6.4M182.20,39.04v6.4M179.90,39.94l4.6,4.6M179.90,44.54l4.6,-4.6M189.10,42.31h6.4M192.30,39.11v6.4M190.00,40.01l4.6,4.6M190.00,44.61l4.6,-4.6M199.20,42.39h6.4M202.40,39.19v6.4M200.10,40.09l4.6,4.6M200.10,44.69l4.6,-4.6M209.30,42.51h6.4M212.50,39.31v6.4M210.20,40.21l4.6,4.6M210.20,44.81l4.6,-4.6M219.40,42.66h6.4M222.60,39.46v6.4M220.30,40.36l4.6,4.6M220.30,44.96l4.6,-4.6M229.50,42.85h6.4M232.70,39.65v6.4M230.40,40.55l4.6,4.6M230.40,45.15l4.6,-4.6M239.60,43.11h6.4M242.80,39.91v6.4M240.50,40.81l4.6,4.6M240.50,45.41l4.6,-4.6M249.70,43.42h6.4M252.90,40.22v6.4M250.60,41.12l4.6,4.6M250.60,45.72l4.6,-4.6M259.80,43.80h6.4M263.00,40.60v6.4M260.70,41.50l4.6,4.6M260.70,46.10l4.6,-4.6M269.90,44.26h6.4M273.10,41.06v6.4M270.80,41.96l4.6,4.6M270.80,46.56l4.6,-4.6M280.00,44.78h6.4M283.20,41.58v6.4M280.90,42.48l4.6,4.6M280.90,47.08l4.6,-4.6M290.10,45.34h6.4M293.30,42.14v6.4M291.00,43.04l4.6,4.6M291.00,47.64l4.6,-4.6M300.20,45.91h6.4M303.40,42.71v6.4M301.10,43.61l4.6,4.6M301.10,48.21l4.6,-4.6M310.30,46.41h6.4M313.50,43.21v6.4M311.20,44.11l4.6,4.6M311.20,48.71l4.6,-4.6M326.00,46.82h6.4M329.20,43.62v6.4M326.90,44.52l4.6,4.6M326.90,49.12l4.6,-4.6M333.45,46.67h6.4M336.65,43.47v6.4M334.35,44.37l4.6,4.6M334.35,48.97l4.6,-4.6M340.15,46.17h6.4M343.35,42.97v6.4M341.05,43.87l4.6,4.6M341.05,48.47l4.6,-4.6M345.70,45.33h6.4M348.90,42.13v6.4M346.60,43.03l4.6,4.6M346.60,47.63l4.6,-4.6M350.50,44.10h6.4M353.70,40.90v6.4M351.40,41.80l4.6,4.6M351.40,46.40l4.6,-4.6M354.60,42.45h6.4M357.80,39.25v6.4M355.50,40.15l4.6,4.6M355.50,44.75l4.6,-4.6M358.05,40.35h6.4M361.25,37.15v6.4M358.95,38.05l4.6,4.6M358.95,42.65l4.6,-4.6M360.95,37.76h6.4M364.15,34.56v6.4M361.85,35.46l4.6,4.6M361.85,40.06l4.6,-4.6M363.20,34.97h6.4M366.40,31.77v6.4M364.10,32.67l4.6,4.6M364.10,37.27l4.6,-4.6M365.15,32.05h6.4M368.35,28.85v6.4M366.05,29.75l4.6,4.6M366.05,34.35l4.6,-4.6M366.80,30.26h6.4M370.00,27.06v6.4M367.70,27.96l4.6,4.6M367.70,32.56l4.6,-4.6M368.30,30.98h6.4M371.50,27.78v6.4M369.20,28.68l4.6,4.6M369.20,33.28l4.6,-4.6M370.30,34.78h6.4M373.50,31.58v6.4M371.20,32.48l4.6,4.6M371.20,37.08l4.6,-4.6M372.65,39.53h6.4M375.85,36.33v6.4M373.55,37.23l4.6,4.6M373.55,41.83l4.6,-4.6M375.50,44.21h6.4M378.70,41.01v6.4M376.40,41.91l4.6,4.6M376.40,46.51l4.6,-4.6M379.50,49.34h6.4M382.70,46.14v6.4M380.40,47.04l4.6,4.6M380.40,51.64l4.6,-4.6M384.20,54.13h6.4M387.40,50.93v6.4M385.10,51.83l4.6,4.6M385.10,56.43l4.6,-4.6M389.20,58.37h6.4M392.40,55.17v6.4M390.10,56.07l4.6,4.6M390.10,60.67l4.6,-4.6M394.95,62.61h6.4M398.15,59.41v6.4M395.85,60.31l4.6,4.6M395.85,64.91l4.6,-4.6M401.85,67.11h6.4M405.05,63.91v6.4M402.75,64.81l4.6,4.6M402.75,69.41l4.6,-4.6M409.95,71.87h6.4M413.15,68.67v6.4M410.85,69.57l4.6,4.6M410.85,74.17l4.6,-4.6M419.45,76.94h6.4M422.65,73.74v6.4M420.35,74.64l4.6,4.6M420.35,79.24l4.6,-4.6M433.10,83.54h6.4M436.30,80.34v6.4M434.00,81.24l4.6,4.6M434.00,85.84l4.6,-4.6M443.00,87.92h6.4M446.20,84.72v6.4M443.90,85.62l4.6,4.6M443.90,90.22l4.6,-4.6M453.20,92.11h6.4M456.40,88.91v6.4M454.10,89.81l4.6,4.6M454.10,94.41l4.6,-4.6M463.40,95.99h6.4M466.60,92.79v6.4M464.30,93.69l4.6,4.6M464.30,98.29l4.6,-4.6M473.60,99.58h6.4M476.80,96.38v6.4M474.50,97.28l4.6,4.6M474.50,101.88l4.6,-4.6M483.80,102.89h6.4M487.00,99.69v6.4M484.70,100.59l4.6,4.6M484.70,105.19l4.6,-4.6M494.10,105.96h6.4M497.30,102.76v6.4M495.00,103.66l4.6,4.6M495.00,108.26l4.6,-4.6M504.30,108.76h6.4M507.50,105.56v6.4M505.20,106.46l4.6,4.6M505.20,111.06l4.6,-4.6M514.90,111.44h6.4M518.10,108.24v6.4M515.80,109.14l4.6,4.6M515.80,113.74l4.6,-4.6M524.10,113.59h6.4M527.30,110.39v6.4M525.00,111.29l4.6,4.6M525.00,115.89l4.6,-4.6M534.20,115.81h6.4M537.40,112.61v6.4M535.10,113.51l4.6,4.6M535.10,118.11l4.6,-4.6M544.30,117.90h6.4M547.50,114.70v6.4M545.20,115.60l4.6,4.6M545.20,120.20l4.6,-4.6M554.40,119.88h6.4M557.60,116.68v6.4M555.30,117.58l4.6,4.6M555.30,122.18l4.6,-4.6M564.50,121.77h6.4M567.70,118.57v6.4M565.40,119.47l4.6,4.6M565.40,124.07l4.6,-4.6M574.60,123.61h6.4M577.80,120.41v6.4M575.50,121.31l4.6,4.6M575.50,125.91l4.6,-4.6M584.70,125.39h6.4M587.90,122.19v6.4M585.60,123.09l4.6,4.6M585.60,127.69l4.6,-4.6M594.80,127.14h6.4M598.00,123.94v6.4M595.70,124.84l4.6,4.6M595.70,129.44l4.6,-4.6M604.90,128.86h6.4M608.10,125.66v6.4M605.80,126.56l4.6,4.6M605.80,131.16l4.6,-4.6M615.00,130.56h6.4M618.20,127.36v6.4M615.90,128.26l4.6,4.6M615.90,132.86l4.6,-4.6M625.10,132.24h6.4M628.30,129.04v6.4M626.00,129.94l4.6,4.6M626.00,134.54l4.6,-4.6M635.20,133.92h6.4M638.40,130.72v6.4M636.10,131.62l4.6,4.6M636.10,136.22l4.6,-4.6M645.30,135.58h6.4M648.50,132.38v6.4M646.20,133.28l4.6,4.6M646.20,137.88l4.6,-4.6M655.40,137.24h6.4M658.60,134.04v6.4M656.30,134.94l4.6,4.6M656.30,139.54l4.6,-4.6M665.50,138.89h6.4M668.70,135.69v6.4M666.40,136.59l4.6,4.6M666.40,141.19l4.6,-4.6" stroke-width="0.9"/>
<g fill="#fff" stroke-width="0.9"><circle cx="75.80" cy="41.96" r="2.1"/><circle cx="85.90" cy="41.97" r="2.1"/><circle cx="96.00" cy="41.97" r="2.1"/><circle cx="106.10" cy="41.98" r="2.1"/><circle cx="116.20" cy="41.99" r="2.1"/><circle cx="126.30" cy="42.00" r="2.1"/><circle cx="136.40" cy="42.01" r="2.1"/><circle cx="146.50" cy="42.03" r="2.1"/><circle cx="156.60" cy="42.06" r="2.1"/><circle cx="166.70" cy="42.09" r="2.1"/><circle cx="176.80" cy="42.14" r="2.1"/><circle cx="186.90" cy="42.20" r="2.1"/><circle cx="197.00" cy="42.29" r="2.1"/><circle cx="207.10" cy="42.40" r="2.1"/><circle cx="217.20" cy="42.55" r="2.1"/><circle cx="227.30" cy="42.75" r="2.1"/><circle cx="237.40" cy="43.00" r="2.1"/><circle cx="247.50" cy="43.32" r="2.1"/><circle cx="257.60" cy="43.70" r="2.1"/><circle cx="267.70" cy="44.17" r="2.1"/><circle cx="277.80" cy="44.71" r="2.1"/><circle cx="287.90" cy="45.30" r="2.1"/><circle cx="298.00" cy="45.92" r="2.1"/><circle cx="308.10" cy="46.51" r="2.1"/><circle cx="318.20" cy="46.99" r="2.1"/><circle cx="325.40" cy="47.20" r="2.1"/><circle cx="333.00" cy="47.20" r="2.1"/><circle cx="340.30" cy="46.87" r="2.1"/><circle cx="346.40" cy="46.18" r="2.1"/><circle cx="351.40" cy="45.17" r="2.1"/><circle cx="356.00" cy="43.66" r="2.1"/><circle cx="359.60" cy="41.85" r="2.1"/><circle cx="362.90" cy="39.38" r="2.1"/><circle cx="365.40" cy="36.68" r="2.1"/><circle cx="367.40" cy="33.86" r="2.1"/><circle cx="369.30" cy="31.16" r="2.1"/><circle cx="370.70" cy="30.60" r="2.1"/><circle cx="372.30" cy="32.65" r="2.1"/><circle cx="374.70" cy="37.63" r="2.1"/><circle cx="377.00" cy="41.87" r="2.1"/><circle cx="380.40" cy="46.85" r="2.1"/><circle cx="385.00" cy="52.07" r="2.1"/><circle cx="389.80" cy="56.46" r="2.1"/><circle cx="395.00" cy="60.52" r="2.1"/><circle cx="401.30" cy="64.82" r="2.1"/><circle cx="408.80" cy="69.35" r="2.1"/><circle cx="417.50" cy="74.07" r="2.1"/><circle cx="427.80" cy="79.12" r="2.1"/><circle cx="437.40" cy="83.40" r="2.1"/><circle cx="447.60" cy="87.57" r="2.1"/><circle cx="457.40" cy="91.23" r="2.1"/><circle cx="467.40" cy="94.65" r="2.1"/><circle cx="477.60" cy="97.84" r="2.1"/><circle cx="487.40" cy="100.64" r="2.1"/><circle cx="497.30" cy="103.23" r="2.1"/><circle cx="507.50" cy="105.70" r="2.1"/><circle cx="517.30" cy="107.89" r="2.1"/><circle cx="520.10" cy="108.49" r="2.1"/><circle cx="527.30" cy="109.99" r="2.1"/><circle cx="537.35" cy="111.99" r="2.1"/><circle cx="547.40" cy="113.90" r="2.1"/><circle cx="557.45" cy="115.74" r="2.1"/><circle cx="567.50" cy="117.53" r="2.1"/><circle cx="577.55" cy="119.28" r="2.1"/><circle cx="587.60" cy="121.00" r="2.1"/><circle cx="597.65" cy="122.69" r="2.1"/><circle cx="607.70" cy="124.37" r="2.1"/><circle cx="617.75" cy="126.04" r="2.1"/><circle cx="627.80" cy="127.69" r="2.1"/><circle cx="637.85" cy="129.34" r="2.1"/><circle cx="647.90" cy="130.99" r="2.1"/><circle cx="657.95" cy="132.63" r="2.1"/><circle cx="668.00" cy="134.27" r="2.1"/></g>
</g>
<g clip-path="url(#cb)" fill="none" stroke="#000">
<path d="M70.50,224.82 L71.50,224.84 L72.50,224.86 L73.50,224.88 L74.50,224.91 L75.50,224.93 L76.50,224.95 L77.50,224.98 L78.50,225.00 L79.50,225.03 L80.50,225.05 L81.50,225.08 L82.50,225.10 L83.50,225.13 L84.50,225.16 L85.50,225.18 L86.50,225.21 L87.50,225.24 L88.50,225.27 L89.50,225.30 L90.50,225.33 L91.50,225.36 L92.50,225.39 L93.50,225.42 L94.50,225.45 L95.50,225.48 L96.50,225.51 L97.50,225.54 L98.50,225.58 L99.50,225.61 L100.50,225.64 L101.50,225.68 L102.50,225.71 L103.50,225.75 L104.50,225.79 L105.50,225.82 L106.50,225.86 L107.50,225.90 L108.50,225.94 L109.50,225.98 L110.50,226.02 L111.50,226.06 L112.50,226.10 L113.50,226.14 L114.50,226.18 L115.50,226.22 L116.50,226.27 L117.50,226.31 L118.50,226.36 L119.50,226.40 L120.50,226.45 L121.50,226.50 L122.50,226.54 L123.50,226.59 L124.50,226.64 L125.50,226.69 L126.50,226.74 L127.50,226.79 L128.50,226.85 L129.50,226.90 L130.50,226.95 L131.50,227.01 L132.50,227.06 L133.50,227.12 L134.50,227.18 L135.50,227.24 L136.50,227.29 L137.50,227.35 L138.50,227.42 L139.50,227.48 L140.50,227.54 L141.50,227.60 L142.50,227.67 L143.50,227.73 L144.50,227.80 L145.50,227.87 L146.50,227.94 L147.50,228.01 L148.50,228.08 L149.50,228.15 L150.50,228.22 L151.50,228.29 L152.50,228.37 L153.50,228.45 L154.50,228.52 L155.50,228.60 L156.50,228.68 L157.50,228.76 L158.50,228.84 L159.50,228.93 L160.50,229.01 L161.50,229.10 L162.50,229.18 L163.50,229.27 L164.50,229.36 L165.50,229.45 L166.50,229.54 L167.50,229.64 L168.50,229.73 L169.50,229.83 L170.50,229.93 L171.50,230.03 L172.50,230.13 L173.50,230.23 L174.50,230.33 L175.50,230.44 L176.50,230.54 L177.50,230.65 L178.50,230.76 L179.50,230.87 L180.50,230.99 L181.50,231.10 L182.50,231.22 L183.50,231.33 L184.50,231.45 L185.50,231.58 L186.50,231.70 L187.50,231.82 L188.50,231.95 L189.50,232.08 L190.50,232.21 L191.50,232.34 L192.50,232.47 L193.50,232.61 L194.50,232.75 L195.50,232.88 L196.50,233.03 L197.50,233.17 L198.50,233.31 L199.50,233.46 L200.50,233.61 L201.50,233.76 L202.50,233.91 L203.50,234.07 L204.50,234.23 L205.50,234.38 L206.50,234.55 L207.50,234.71 L208.50,234.87 L209.50,235.04 L210.50,235.21 L211.50,235.38 L212.50,235.56 L213.50,235.73 L214.50,235.91 L215.50,236.09 L216.50,236.28 L217.50,236.46 L218.50,236.65 L219.50,236.84 L220.50,237.03 L221.50,237.22 L222.50,237.42 L223.50,237.62 L224.50,237.82 L225.50,238.02 L226.50,238.23 L227.50,238.44 L228.50,238.65 L229.50,238.86 L230.50,239.08 L231.50,239.29 L232.50,239.51 L233.50,239.73 L234.50,239.96 L235.50,240.18 L236.50,240.41 L237.50,240.64 L238.50,240.88 L239.50,241.11 L240.50,241.35 L241.50,241.59 L242.50,241.83 L243.50,242.08 L244.50,242.33 L245.50,242.57 L246.50,242.83 L247.50,243.08 L248.50,243.33 L249.50,243.59 L250.50,243.85 L251.50,244.11 L252.50,244.38 L253.50,244.64 L254.50,244.91 L255.50,245.18 L256.50,245.45 L257.50,245.72 L258.50,246.00 L259.50,246.27 L260.50,246.55 L261.50,246.83 L262.50,247.11 L263.50,247.39 L264.50,247.68 L265.50,247.96 L266.50,248.25 L267.50,248.54 L268.50,248.83 L269.50,249.12 L270.50,249.41 L271.50,249.70 L272.50,250.00 L273.50,250.29 L274.50,250.59 L275.50,250.88 L276.50,251.18 L277.50,251.48 L278.50,251.78 L279.50,252.08 L280.50,252.38 L281.50,252.68 L282.50,252.98 L283.50,253.28 L284.50,253.58 L285.50,253.88 L286.50,254.18 L287.50,254.48 L288.50,254.78 L289.50,255.08 L290.50,255.38 L291.50,255.68 L292.50,255.98 L293.50,256.28 L294.50,256.58 L295.50,256.88 L296.50,257.18 L297.50,257.48 L298.50,257.77 L299.50,258.07 L300.50,258.36 L301.50,258.66 L302.50,258.95 L303.50,259.24 L304.50,259.53 L305.50,259.82 L306.50,260.11 L307.50,260.40 L308.50,260.69 L309.50,260.97 L310.50,261.26 L311.50,261.54 L312.50,261.82 L313.50,262.10 L314.50,262.38 L315.50,262.66 L316.50,262.94 L317.50,263.21 L318.50,263.49 L319.50,263.76 L320.50,264.03 L321.50,264.30 L322.50,264.57 L323.50,264.84 L324.50,265.11 L325.50,265.38 L326.50,265.65 L327.50,265.92 L328.50,266.18 L329.50,266.45 L330.50,266.72 L331.50,266.98 L332.50,267.25 L333.50,267.52 L334.50,267.79 L335.50,268.06 L336.50,268.34 L337.50,268.61 L338.50,268.89 L339.50,269.17 L340.50,269.46 L341.50,269.75 L342.50,270.05 L343.50,270.35 L344.50,270.67 L345.50,270.99 L346.50,271.32 L347.50,271.67 L348.50,272.03 L349.50,272.40 L350.50,272.80 L351.50,273.23 L352.50,273.68 L353.50,274.17 L354.50,274.70 L355.00,274.98 L355.10,275.04 L355.20,275.10 L355.30,275.15 L355.40,275.21 L355.50,275.27 L355.60,275.34 L355.70,275.40 L355.80,275.46 L355.90,275.52 L356.00,275.59 L356.10,275.65 L356.20,275.72 L356.30,275.78 L356.40,275.85 L356.50,275.91 L356.60,275.98 L356.70,276.05 L356.80,276.12 L356.90,276.19 L357.00,276.26 L357.10,276.33 L357.20,276.41 L357.30,276.48 L357.40,276.55 L357.50,276.63 L357.60,276.71 L357.70,276.78 L357.80,276.86 L357.90,276.94 L358.00,277.02 L358.10,277.10 L358.20,277.18 L358.30,277.27 L358.40,277.35 L358.50,277.44 L358.60,277.52 L358.70,277.61 L358.80,277.70 L358.90,277.79 L359.00,277.88 L359.10,277.98 L359.20,278.07 L359.30,278.17 L359.40,278.27 L359.50,278.36 L359.60,278.46 L359.70,278.57 L359.80,278.67 L359.90,278.77 L360.00,278.88 L360.10,278.99 L360.20,279.10 L360.30,279.21 L360.40,279.32 L360.50,279.44 L360.60,279.56 L360.70,279.68 L360.80,279.80 L360.90,279.92 L361.00,280.05 L361.10,280.18 L361.20,280.31 L361.30,280.44 L361.40,280.58 L361.50,280.71 L361.60,280.85 L361.70,281.00 L361.80,281.14 L361.90,281.29 L362.00,281.44 L362.10,281.60 L362.20,281.75 L362.30,281.91 L362.40,282.08 L362.50,282.25 L362.60,282.42 L362.70,282.59 L362.80,282.77 L362.90,282.95 L363.00,283.14 L363.10,283.33 L363.20,283.52 L363.30,283.72 L363.40,283.92 L363.50,284.13 L363.60,284.35 L363.70,284.56 L363.80,284.79 L363.90,285.02 L364.00,285.25 L364.10,285.49 L364.20,285.74 L364.30,285.99 L364.40,286.25 L364.50,286.51 L364.60,286.79 L364.70,287.07 L364.80,287.35 L364.90,287.65 L365.00,287.95 L365.10,288.27 L365.20,288.59 L365.30,288.92 L365.40,289.26 L365.50,289.61 L365.60,289.97 L365.70,290.34 L365.80,290.72 L365.90,291.11 L366.00,291.52 L366.10,291.93 L366.20,292.37 L366.30,292.81 L366.40,293.27 L366.50,293.74 L366.60,294.23 L366.70,294.74 L366.80,295.26 L366.90,295.80 L367.00,296.36 L367.10,296.94 L367.20,297.53 L367.30,298.15 L367.40,298.79 L367.50,299.45 L367.60,300.13 L367.70,300.84 L367.80,301.58 L367.90,302.33 L368.00,303.12 L368.10,303.93 L368.20,304.77 L368.30,305.64 L368.40,306.54 L368.50,307.47 L368.60,308.43 L368.70,309.42 L368.80,310.44 L368.90,311.50 L369.00,312.58 L369.10,313.70 L369.20,314.86 L369.30,316.04 L369.40,317.25 L369.50,318.50 L369.60,319.77 L369.70,321.07 L369.80,322.40 L369.90,323.75 L370.00,325.12 L370.10,326.51 L370.20,327.92 L370.30,329.33 L370.40,330.76 L370.50,332.20 L370.60,333.64 L370.70,335.08 L370.80,336.52 L370.90,337.94 L371.00,339.36 L371.10,340.77 L371.20,342.16 L371.30,343.53 L371.40,344.88 L371.50,346.20 L371.60,347.50 L371.70,348.77 L371.80,350.01 L371.90,351.22 L372.00,352.41 L372.10,353.55 L372.20,354.67 L372.30,355.76 L372.40,356.81 L372.50,357.83 L372.60,358.82 L372.70,359.77 L372.80,360.70 L372.90,361.60 L373.00,362.46 L373.10,363.30 L373.20,364.11 L373.30,364.89 L373.40,365.64 L373.50,366.37 L373.60,367.08 L373.70,367.76 L373.80,368.42 L373.90,369.05 L374.00,369.66 L374.10,370.26 L374.20,370.83 L374.30,371.39 L374.40,371.92 L374.50,372.44 L374.60,372.94 L374.70,373.43 L374.80,373.90 L374.90,374.35 L375.00,374.79 L375.10,375.22 L375.20,375.63 L375.30,376.04 L375.40,376.42 L375.50,376.80 L375.60,377.17 L375.70,377.52 L375.80,377.87 L375.90,378.20 L376.00,378.53 L376.10,378.84 L376.20,379.15 L376.30,379.45 L376.40,379.74 L376.50,380.02 L376.60,380.30 L376.70,380.57 L376.80,380.83 L376.90,381.08 L377.00,381.33 L377.10,381.57 L377.20,381.80 L377.30,382.03 L377.40,382.26 L377.50,382.47 L377.60,382.69 L377.70,382.89 L377.80,383.09 L377.90,383.29 L378.00,383.49 L378.10,383.67 L378.20,383.86 L378.30,384.04 L378.40,384.21 L378.50,384.39 L378.60,384.55 L378.70,384.72 L378.80,384.88 L378.90,385.04 L379.00,385.19 L379.10,385.34 L379.20,385.49 L379.30,385.63 L379.40,385.77 L379.50,385.91 L379.60,386.05 L379.70,386.18 L379.80,386.31 L379.90,386.44 L380.00,386.56 L380.10,386.69 L380.20,386.81 L380.30,386.93 L380.40,387.04 L380.50,387.16 L380.60,387.27 L380.70,387.38 L380.80,387.48 L380.90,387.59 L381.00,387.69 L381.10,387.79 L381.20,387.89 L381.30,387.99 L381.40,388.09 L381.50,388.18 L381.60,388.28 L381.70,388.37 L381.80,388.46 L381.90,388.55 L382.00,388.63 L382.10,388.72 L382.20,388.80 L382.30,388.88 L382.40,388.97 L382.50,389.05 L382.60,389.12 L382.70,389.20 L382.80,389.28 L382.90,389.35 L383.00,389.43 L383.10,389.50 L383.20,389.57 L383.30,389.64 L383.40,389.71 L383.50,389.78 L383.60,389.84 L383.70,389.91 L383.80,389.97 L383.90,390.04 L384.00,390.10 L384.10,390.16 L384.20,390.22 L384.30,390.28 L384.40,390.34 L384.50,390.40 L384.60,390.46 L384.70,390.52 L384.80,390.57 L384.90,390.63 L385.00,390.68 L385.10,390.73 L385.20,390.79 L385.30,390.84 L385.40,390.89 L385.50,390.94 L385.60,390.99 L385.70,391.04 L385.80,391.09 L385.90,391.14 L386.00,391.18 L386.10,391.23 L386.20,391.27 L386.30,391.32 L386.40,391.36 L386.50,391.41 L386.60,391.45 L386.70,391.49 L386.80,391.54 L386.90,391.58 L387.00,391.62 L387.10,391.66 L387.20,391.70 L387.30,391.74 L387.40,391.78 L387.50,391.82 L387.60,391.85 L387.70,391.89 L387.80,391.93 L387.90,391.96 L388.00,392.00 L388.10,392.04 L388.20,392.07 L388.30,392.11 L388.40,392.14 L388.50,392.17 L388.60,392.21 L388.70,392.24 L388.80,392.27 L388.90,392.30 L389.00,392.34 L389.10,392.37 L389.20,392.40 L389.30,392.43 L389.40,392.46 L389.50,392.49 L389.60,392.52 L389.70,392.54 L389.80,392.57 L389.90,392.60 L390.50,392.76 L391.50,393.00 L392.50,393.22 L393.50,393.40 L394.50,393.57 L395.50,393.71 L396.50,393.84 L397.50,393.94 L398.50,394.03 L399.50,394.11 L400.50,394.17 L401.50,394.22 L402.50,394.26 L403.50,394.28 L404.50,394.30 L405.50,394.30 L406.50,394.30 L407.50,394.29 L408.50,394.27 L409.50,394.24 L410.50,394.20 L411.50,394.15 L412.50,394.10 L413.50,394.04 L414.50,393.98 L415.50,393.90 L416.50,393.82 L417.50,393.74 L418.50,393.65 L419.50,393.55 L420.50,393.45 L421.50,393.34 L422.50,393.22 L423.50,393.11 L424.50,392.98 L425.50,392.85 L426.50,392.72 L427.50,392.58 L428.50,392.43 L429.50,392.28 L430.50,392.13 L431.50,391.97 L432.50,391.81 L433.50,391.64 L434.50,391.47 L435.50,391.30 L436.50,391.12 L437.50,390.94 L438.50,390.75 L439.50,390.56 L440.50,390.37 L441.50,390.17 L442.50,389.97 L443.50,389.76 L444.50,389.55 L445.50,389.34 L446.50,389.13 L447.50,388.91 L448.50,388.69 L449.50,388.46 L450.50,388.24 L451.50,388.01 L452.50,387.78 L453.50,387.54 L454.50,387.31 L455.50,387.07 L456.50,386.82 L457.50,386.58 L458.50,386.33 L459.50,386.08 L460.50,385.83 L461.50,385.58 L462.50,385.33 L463.50,385.07 L464.50,384.81 L465.50,384.56 L466.50,384.30 L467.50,384.03 L468.50,383.77 L469.50,383.51 L470.50,383.24 L471.50,382.97 L472.50,382.71 L473.50,382.44 L474.50,382.17 L475.50,381.90 L476.50,381.63 L477.50,381.36 L478.50,381.09 L479.50,380.82 L480.50,380.55 L481.50,380.28 L482.50,380.01 L483.50,379.74 L484.50,379.47 L485.50,379.19 L486.50,378.92 L487.50,378.65 L488.50,378.39 L489.50,378.12 L490.50,377.85 L491.50,377.58 L492.50,377.31 L493.50,377.05 L494.50,376.78 L495.50,376.52 L496.50,376.25 L497.50,375.99 L498.50,375.73 L499.50,375.47 L500.50,375.21 L501.50,374.96 L502.50,374.70 L503.50,374.45 L504.50,374.19 L505.50,373.94 L506.50,373.69 L507.50,373.44 L508.50,373.20 L509.50,372.95 L510.50,372.71 L511.50,372.47 L512.50,372.23 L513.50,371.99 L514.50,371.76 L515.50,371.52 L516.50,371.29 L517.50,371.06 L518.50,370.83 L519.50,370.61 L520.50,370.38 L521.50,370.16 L522.50,369.94 L523.50,369.72 L524.50,369.51 L525.50,369.29 L526.50,369.08 L527.50,368.87 L528.50,368.66 L529.50,368.46 L530.50,368.25 L531.50,368.05 L532.50,367.85 L533.50,367.66 L534.50,367.46 L535.50,367.27 L536.50,367.08 L537.50,366.89 L538.50,366.71 L539.50,366.52 L540.50,366.34 L541.50,366.16 L542.50,365.98 L543.50,365.81 L544.50,365.63 L545.50,365.46 L546.50,365.29 L547.50,365.12 L548.50,364.96 L549.50,364.80 L550.50,364.63 L551.50,364.48 L552.50,364.32 L553.50,364.16 L554.50,364.01 L555.50,363.86 L556.50,363.71 L557.50,363.56 L558.50,363.42 L559.50,363.27 L560.50,363.13 L561.50,362.99 L562.50,362.85 L563.50,362.72 L564.50,362.58 L565.50,362.45 L566.50,362.32 L567.50,362.19 L568.50,362.06 L569.50,361.94 L570.50,361.81 L571.50,361.69 L572.50,361.57 L573.50,361.45 L574.50,361.34 L575.50,361.22 L576.50,361.11 L577.50,360.99 L578.50,360.88 L579.50,360.77 L580.50,360.67 L581.50,360.56 L582.50,360.46 L583.50,360.35 L584.50,360.25 L585.50,360.15 L586.50,360.05 L587.50,359.96 L588.50,359.86 L589.50,359.76 L590.50,359.67 L591.50,359.58 L592.50,359.49 L593.50,359.40 L594.50,359.31 L595.50,359.23 L596.50,359.14 L597.50,359.06 L598.50,358.97 L599.50,358.89 L600.50,358.81 L601.50,358.73 L602.50,358.65 L603.50,358.58 L604.50,358.50 L605.50,358.42 L606.50,358.35 L607.50,358.28 L608.50,358.21 L609.50,358.14 L610.50,358.07 L611.50,358.00 L612.50,357.93 L613.50,357.86 L614.50,357.80 L615.50,357.73 L616.50,357.67 L617.50,357.61 L618.50,357.55 L619.50,357.49 L620.50,357.43 L621.50,357.37 L622.50,357.31 L623.50,357.25 L624.50,357.20 L625.50,357.14 L626.50,357.09 L627.50,357.03 L628.50,356.98 L629.50,356.93 L630.50,356.88 L631.50,356.82 L632.50,356.77 L633.50,356.73 L634.50,356.68 L635.50,356.63 L636.50,356.58 L637.50,356.54 L638.50,356.49 L639.50,356.45 L640.50,356.40 L641.50,356.36 L642.50,356.32 L643.50,356.27 L644.50,356.23 L645.50,356.19 L646.50,356.15 L647.50,356.11 L648.50,356.07 L649.50,356.03 L650.50,355.99 L651.50,355.96 L652.50,355.92 L653.50,355.88 L654.50,355.85 L655.50,355.81 L656.50,355.78 L657.50,355.74 L658.50,355.71 L659.50,355.68 L660.50,355.64 L661.50,355.61 L662.50,355.58 L663.50,355.55 L664.50,355.52 L665.50,355.49 L666.50,355.46 L667.50,355.43 L668.50,355.40 L669.50,355.37 L670.30,355.35" stroke-width="1.6"/>
<path d="M70.50,224.77 L71.50,224.79 L72.50,224.81 L73.50,224.83 L74.50,224.85 L75.50,224.88 L76.50,224.90 L77.50,224.92 L78.50,224.95 L79.50,224.97 L80.50,224.99 L81.50,225.02 L82.50,225.04 L83.50,225.07 L84.50,225.09 L85.50,225.12 L86.50,225.15 L87.50,225.17 L88.50,225.20 L89.50,225.23 L90.50,225.26 L91.50,225.29 L92.50,225.32 L93.50,225.35 L94.50,225.38 L95.50,225.41 L96.50,225.44 L97.50,225.47 L98.50,225.50 L99.50,225.53 L100.50,225.57 L101.50,225.60 L102.50,225.63 L103.50,225.67 L104.50,225.70 L105.50,225.74 L106.50,225.77 L107.50,225.81 L108.50,225.85 L109.50,225.89 L110.50,225.92 L111.50,225.96 L112.50,226.00 L113.50,226.04 L114.50,226.08 L115.50,226.13 L116.50,226.17 L117.50,226.21 L118.50,226.25 L119.50,226.30 L120.50,226.34 L121.50,226.39 L122.50,226.43 L123.50,226.48 L124.50,226.53 L125.50,226.58 L126.50,226.62 L127.50,226.67 L128.50,226.72 L129.50,226.78 L130.50,226.83 L131.50,226.88 L132.50,226.93 L133.50,226.99 L134.50,227.04 L135.50,227.10 L136.50,227.16 L137.50,227.21 L138.50,227.27 L139.50,227.33 L140.50,227.39 L141.50,227.45 L142.50,227.52 L143.50,227.58 L144.50,227.64 L145.50,227.71 L146.50,227.78 L147.50,227.84 L148.50,227.91 L149.50,227.98 L150.50,228.05 L151.50,228.12 L152.50,228.19 L153.50,228.27 L154.50,228.34 L155.50,228.42 L156.50,228.49 L157.50,228.57 L158.50,228.65 L159.50,228.73 L160.50,228.81 L161.50,228.90 L162.50,228.98 L163.50,229.06 L164.50,229.15 L165.50,229.24 L166.50,229.33 L167.50,229.42 L168.50,229.51 L169.50,229.60 L170.50,229.70 L171.50,229.79 L172.50,229.89 L173.50,229.99 L174.50,230.09 L175.50,230.19 L176.50,230.29 L177.50,230.40 L178.50,230.50 L179.50,230.61 L180.50,230.72 L181.50,230.83 L182.50,230.94 L183.50,231.06 L184.50,231.17 L185.50,231.29 L186.50,231.41 L187.50,231.53 L188.50,231.65 L189.50,231.77 L190.50,231.90 L191.50,232.03 L192.50,232.15 L193.50,232.29 L194.50,232.42 L195.50,232.55 L196.50,232.69 L197.50,232.83 L198.50,232.97 L199.50,233.11 L200.50,233.25 L201.50,233.40 L202.50,233.55 L203.50,233.70 L204.50,233.85 L205.50,234.00 L206.50,234.16 L207.50,234.31 L208.50,234.47 L209.50,234.64 L210.50,234.80 L211.50,234.97 L212.50,235.13 L213.50,235.30 L214.50,235.48 L215.50,235.65 L216.50,235.83 L217.50,236.01 L218.50,236.19 L219.50,236.37 L220.50,236.56 L221.50,236.74 L222.50,236.93 L223.50,237.13 L224.50,237.32 L225.50,237.52 L226.50,237.72 L227.50,237.92 L228.50,238.12 L229.50,238.33 L230.50,238.53 L231.50,238.75 L232.50,238.96 L233.50,239.17 L234.50,239.39 L235.50,239.61 L236.50,239.83 L237.50,240.05 L238.50,240.28 L239.50,240.51 L240.50,240.74 L241.50,240.97 L242.50,241.20 L243.50,241.44 L244.50,241.68 L245.50,241.92 L246.50,242.16 L247.50,242.41 L248.50,242.66 L249.50,242.91 L250.50,243.16 L251.50,243.41 L252.50,243.66 L253.50,243.92 L254.50,244.18 L255.50,244.44 L256.50,244.70 L257.50,244.97 L258.50,245.23 L259.50,245.50 L260.50,245.77 L261.50,246.04 L262.50,246.31 L263.50,246.59 L264.50,246.86 L265.50,247.14 L266.50,247.42 L267.50,247.70 L268.50,247.98 L269.50,248.26 L270.50,248.54 L271.50,248.82 L272.50,249.11 L273.50,249.39 L274.50,249.68 L275.50,249.97 L276.50,250.25 L277.50,250.54 L278.50,250.83 L279.50,251.12 L280.50,251.41 L281.50,251.70 L282.50,251.99 L283.50,252.28 L284.50,252.57 L285.50,252.86 L286.50,253.16 L287.50,253.45 L288.50,253.74 L289.50,254.03 L290.50,254.32 L291.50,254.61 L292.50,254.90 L293.50,255.19 L294.50,255.47 L295.50,255.76 L296.50,256.05 L297.50,256.33 L298.50,256.62 L299.50,256.90 L300.50,257.19 L301.50,257.47 L302.50,257.75 L303.50,258.03 L304.50,258.31 L305.50,258.59 L306.50,258.87 L307.50,259.14 L308.50,259.42 L309.50,259.69 L310.50,259.96 L311.50,260.23 L312.50,260.50 L313.50,260.77 L314.50,261.04 L315.50,261.30 L316.50,261.57 L317.50,261.83 L318.50,262.09 L319.50,262.35 L320.50,262.61 L321.50,262.86 L322.50,263.12 L323.50,263.37 L324.50,263.63 L325.50,263.88 L326.50,264.13 L327.50,264.38 L328.50,264.63 L329.50,264.89 L330.50,265.14 L331.50,265.39 L332.50,265.64 L333.50,265.89 L334.50,266.14 L335.50,266.39 L336.50,266.65 L337.50,266.91 L338.50,267.17 L339.50,267.43 L340.50,267.70 L341.50,267.97 L342.50,268.25 L343.50,268.53 L344.50,268.82 L345.50,269.12 L346.50,269.43 L347.50,269.75 L348.50,270.09 L349.50,270.45 L350.50,270.82 L351.50,271.22 L352.50,271.65 L353.50,272.11 L354.50,272.62 L355.00,272.89 L355.10,272.94 L355.20,273.00 L355.30,273.06 L355.40,273.11 L355.50,273.17 L355.60,273.23 L355.70,273.29 L355.80,273.35 L355.90,273.41 L356.00,273.47 L356.10,273.53 L356.20,273.59 L356.30,273.66 L356.40,273.72 L356.50,273.79 L356.60,273.85 L356.70,273.92 L356.80,273.98 L356.90,274.05 L357.00,274.12 L357.10,274.19 L357.20,274.26 L357.30,274.33 L357.40,274.40 L357.50,274.47 L357.60,274.55 L357.70,274.62 L357.80,274.70 L357.90,274.77 L358.00,274.85 L358.10,274.93 L358.20,275.01 L358.30,275.09 L358.40,275.17 L358.50,275.26 L358.60,275.34 L358.70,275.43 L358.80,275.51 L358.90,275.60 L359.00,275.69 L359.10,275.78 L359.20,275.87 L359.30,275.96 L359.40,276.06 L359.50,276.15 L359.60,276.25 L359.70,276.35 L359.80,276.45 L359.90,276.55 L360.00,276.66 L360.10,276.76 L360.20,276.87 L360.30,276.98 L360.40,277.09 L360.50,277.20 L360.60,277.32 L360.70,277.43 L360.80,277.55 L360.90,277.67 L361.00,277.80 L361.10,277.92 L361.20,278.05 L361.30,278.18 L361.40,278.31 L361.50,278.45 L361.60,278.58 L361.70,278.72 L361.80,278.87 L361.90,279.01 L362.00,279.16 L362.10,279.31 L362.20,279.47 L362.30,279.63 L362.40,279.79 L362.50,279.95 L362.60,280.12 L362.70,280.29 L362.80,280.47 L362.90,280.65 L363.00,280.83 L363.10,281.02 L363.20,281.21 L363.30,281.40 L363.40,281.60 L363.50,281.81 L363.60,282.02 L363.70,282.23 L363.80,282.45 L363.90,282.68 L364.00,282.91 L364.10,283.15 L364.20,283.39 L364.30,283.64 L364.40,283.90 L364.50,284.16 L364.60,284.43 L364.70,284.71 L364.80,284.99 L364.90,285.28 L365.00,285.58 L365.10,285.89 L365.20,286.21 L365.30,286.54 L365.40,286.87 L365.50,287.22 L365.60,287.58 L365.70,287.95 L365.80,288.32 L365.90,288.71 L366.00,289.12 L366.10,289.53 L366.20,289.96 L366.30,290.40 L366.40,290.86 L366.50,291.33 L366.60,291.81 L366.70,292.32 L366.80,292.84 L366.90,293.37 L367.00,293.93 L367.10,294.50 L367.20,295.10 L367.30,295.71 L367.40,296.35 L367.50,297.00 L367.60,297.68 L367.70,298.39 L367.80,299.12 L367.90,299.87 L368.00,300.65 L368.10,301.46 L368.20,302.30 L368.30,303.17 L368.40,304.06 L368.50,304.99 L368.60,305.94 L368.70,306.93 L368.80,307.95 L368.90,309.00 L369.00,310.09 L369.10,311.20 L369.20,312.35 L369.30,313.53 L369.40,314.74 L369.50,315.99 L369.60,317.26 L369.70,318.55 L369.80,319.88 L369.90,321.22 L370.00,322.59 L370.10,323.98 L370.20,325.38 L370.30,326.80 L370.40,328.22 L370.50,329.66 L370.60,331.09 L370.70,332.53 L370.80,333.96 L370.90,335.39 L371.00,336.80 L371.10,338.20 L371.20,339.59 L371.30,340.96 L371.40,342.30 L371.50,343.62 L371.60,344.92 L371.70,346.18 L371.80,347.42 L371.90,348.63 L372.00,349.81 L372.10,350.96 L372.20,352.07 L372.30,353.15 L372.40,354.20 L372.50,355.22 L372.60,356.20 L372.70,357.15 L372.80,358.08 L372.90,358.97 L373.00,359.83 L373.10,360.66 L373.20,361.47 L373.30,362.25 L373.40,363.00 L373.50,363.72 L373.60,364.43 L373.70,365.10 L373.80,365.76 L373.90,366.39 L374.00,367.00 L374.10,367.59 L374.20,368.16 L374.30,368.71 L374.40,369.24 L374.50,369.76 L374.60,370.25 L374.70,370.74 L374.80,371.20 L374.90,371.65 L375.00,372.09 L375.10,372.52 L375.20,372.93 L375.30,373.32 L375.40,373.71 L375.50,374.08 L375.60,374.44 L375.70,374.80 L375.80,375.14 L375.90,375.47 L376.00,375.79 L376.10,376.10 L376.20,376.41 L376.30,376.70 L376.40,376.99 L376.50,377.27 L376.60,377.54 L376.70,377.80 L376.80,378.06 L376.90,378.31 L377.00,378.55 L377.10,378.79 L377.20,379.02 L377.30,379.25 L377.40,379.47 L377.50,379.68 L377.60,379.89 L377.70,380.09 L377.80,380.29 L377.90,380.48 L378.00,380.67 L378.10,380.86 L378.20,381.04 L378.30,381.21 L378.40,381.39 L378.50,381.55 L378.60,381.72 L378.70,381.88 L378.80,382.03 L378.90,382.19 L379.00,382.34 L379.10,382.49 L379.20,382.63 L379.30,382.77 L379.40,382.91 L379.50,383.04 L379.60,383.17 L379.70,383.30 L379.80,383.43 L379.90,383.55 L380.00,383.67 L380.10,383.79 L380.20,383.91 L380.30,384.02 L380.40,384.14 L380.50,384.24 L380.60,384.35 L380.70,384.46 L380.80,384.56 L380.90,384.66 L381.00,384.76 L381.10,384.86 L381.20,384.96 L381.30,385.05 L381.40,385.14 L381.50,385.23 L381.60,385.32 L381.70,385.41 L381.80,385.50 L381.90,385.58 L382.00,385.66 L382.10,385.74 L382.20,385.82 L382.30,385.90 L382.40,385.98 L382.50,386.05 L382.60,386.13 L382.70,386.20 L382.80,386.27 L382.90,386.34 L383.00,386.41 L383.10,386.48 L383.20,386.55 L383.30,386.61 L383.40,386.68 L383.50,386.74 L383.60,386.81 L383.70,386.87 L383.80,386.93 L383.90,386.99 L384.00,387.05 L384.10,387.10 L384.20,387.16 L384.30,387.22 L384.40,387.27 L384.50,387.33 L384.60,387.38 L384.70,387.43 L384.80,387.48 L384.90,387.53 L385.00,387.58 L385.10,387.63 L385.20,387.68 L385.30,387.73 L385.40,387.78 L385.50,387.82 L385.60,387.87 L385.70,387.91 L385.80,387.96 L385.90,388.00 L386.00,388.04 L386.10,388.09 L386.20,388.13 L386.30,388.17 L386.40,388.21 L386.50,388.25 L386.60,388.29 L386.70,388.32 L386.80,388.36 L386.90,388.40 L387.00,388.44 L387.10,388.47 L387.20,388.51 L387.30,388.54 L387.40,388.58 L387.50,388.61 L387.60,388.64 L387.70,388.68 L387.80,388.71 L387.90,388.74 L388.00,388.77 L388.10,388.80 L388.20,388.83 L388.30,388.86 L388.40,388.89 L388.50,388.92 L388.60,388.95 L388.70,388.98 L388.80,389.01 L388.90,389.03 L389.00,389.06 L389.10,389.09 L389.20,389.11 L389.30,389.14 L389.40,389.17 L389.50,389.19 L389.60,389.21 L389.70,389.24 L389.80,389.26 L389.90,389.29 L390.50,389.42 L391.50,389.61 L392.50,389.78 L393.50,389.92 L394.50,390.03 L395.50,390.12 L396.50,390.20 L397.50,390.25 L398.50,390.29 L399.50,390.31 L400.50,390.32 L401.50,390.31 L402.50,390.29 L403.50,390.26 L404.50,390.21 L405.50,390.16 L406.50,390.10 L407.50,390.02 L408.50,389.94 L409.50,389.84 L410.50,389.74 L411.50,389.63 L412.50,389.51 L413.50,389.38 L414.50,389.25 L415.50,389.11 L416.50,388.95 L417.50,388.80 L418.50,388.63 L419.50,388.46 L420.50,388.28 L421.50,388.09 L422.50,387.90 L423.50,387.70 L424.50,387.50 L425.50,387.28 L426.50,387.07 L427.50,386.84 L428.50,386.61 L429.50,386.37 L430.50,386.13 L431.50,385.88 L432.50,385.63 L433.50,385.37 L434.50,385.10 L435.50,384.83 L436.50,384.55 L437.50,384.27 L438.50,383.98 L439.50,383.69 L440.50,383.39 L441.50,383.09 L442.50,382.78 L443.50,382.47 L444.50,382.15 L445.50,381.82 L446.50,381.49 L447.50,381.16 L448.50,380.82 L449.50,380.48 L450.50,380.13 L451.50,379.78 L452.50,379.42 L453.50,379.06 L454.50,378.69 L455.50,378.32 L456.50,377.95 L457.50,377.57 L458.50,377.18 L459.50,376.80 L460.50,376.41 L461.50,376.01 L462.50,375.61 L463.50,375.21 L464.50,374.80 L465.50,374.39 L466.50,373.98 L467.50,373.56 L468.50,373.14 L469.50,372.72 L470.50,372.29 L471.50,371.86 L472.50,371.42 L473.50,370.99 L474.50,370.55 L475.50,370.10 L476.50,369.66 L477.50,369.21 L478.50,368.76 L479.50,368.31 L480.50,367.85 L481.50,367.39 L482.50,366.93 L483.50,366.46 L484.50,366.00 L485.50,365.53 L486.50,365.06 L487.50,364.59 L488.50,364.11 L489.50,363.64 L490.50,363.16 L491.50,362.68 L492.50,362.20 L493.50,361.71 L494.50,361.23 L495.50,360.74 L496.50,360.25 L497.50,359.76 L498.50,359.27 L499.50,358.78 L500.50,358.29 L501.50,357.79 L502.50,357.30 L503.50,356.80 L504.50,356.30 L505.50,355.80 L506.50,355.30 L507.50,354.80 L508.50,354.30 L509.50,353.80 L510.50,353.30 L511.50,352.79 L512.50,352.29 L513.50,351.79 L514.50,351.28 L515.50,350.78 L516.50,350.27 L517.50,349.77 L518.50,349.26 L519.50,348.76 L520.50,348.25 L521.50,347.74 L522.50,347.24 L523.50,346.73 L524.50,346.23 L525.50,345.72 L526.50,345.22 L527.50,344.71 L528.50,344.21 L529.50,343.70 L530.50,343.20 L531.50,342.70 L532.50,342.19 L533.50,341.69 L534.50,341.19 L535.50,340.69 L536.50,340.19 L537.50,339.69 L538.50,339.20 L539.50,338.70 L540.50,338.21 L541.50,337.71 L542.50,337.22 L543.50,336.73 L544.50,336.24 L545.50,335.75 L546.50,335.26 L547.50,334.77 L548.50,334.29 L549.50,333.81 L550.50,333.33 L551.50,332.85 L552.50,332.37 L553.50,331.89 L554.50,331.42 L555.50,330.95 L556.50,330.48 L557.50,330.01 L558.50,329.55 L559.50,329.08 L560.50,328.62 L561.50,328.17 L562.50,327.71 L563.50,327.26 L564.50,326.81 L565.50,326.36 L566.50,325.91 L567.50,325.47 L568.50,325.03 L569.50,324.59 L570.50,324.16 L571.50,323.73 L572.50,323.30 L573.50,322.88 L574.50,322.45 L575.50,322.03 L576.50,321.62 L577.50,321.20 L578.50,320.80 L579.50,320.39 L580.50,319.99 L581.50,319.59 L582.50,319.19 L583.50,318.80 L584.50,318.41 L585.50,318.02 L586.50,317.64 L587.50,317.26 L588.50,316.88 L589.50,316.51 L590.50,316.14 L591.50,315.77 L592.50,315.41 L593.50,315.05 L594.50,314.70 L595.50,314.34 L596.50,314.00 L597.50,313.65 L598.50,313.31 L599.50,312.97 L600.50,312.64 L601.50,312.31 L602.50,311.98 L603.50,311.66 L604.50,311.34 L605.50,311.02 L606.50,310.71 L607.50,310.40 L608.50,310.10 L609.50,309.79 L610.50,309.50 L611.50,309.20 L612.50,308.91 L613.50,308.62 L614.50,308.34 L615.50,308.06 L616.50,307.78 L617.50,307.50 L618.50,307.23 L619.50,306.96 L620.50,306.70 L621.50,306.44 L622.50,306.18 L623.50,305.93 L624.50,305.68 L625.50,305.43 L626.50,305.18 L627.50,304.94 L628.50,304.70 L629.50,304.47 L630.50,304.24 L631.50,304.01 L632.50,303.78 L633.50,303.56 L634.50,303.34 L635.50,303.12 L636.50,302.90 L637.50,302.69 L638.50,302.48 L639.50,302.28 L640.50,302.07 L641.50,301.87 L642.50,301.68 L643.50,301.48 L644.50,301.29 L645.50,301.10 L646.50,300.91 L647.50,300.73 L648.50,300.55 L649.50,300.37 L650.50,300.19 L651.50,300.02 L652.50,299.85 L653.50,299.68 L654.50,299.51 L655.50,299.35 L656.50,299.18 L657.50,299.02 L658.50,298.87 L659.50,298.71 L660.50,298.56 L661.50,298.41 L662.50,298.26 L663.50,298.11 L664.50,297.97 L665.50,297.82 L666.50,297.68 L667.50,297.55 L668.50,297.41 L669.50,297.28 L670.30,297.17" stroke-width="1.4" stroke-dasharray="1.4 1.4"/>
<path d="M70.50,224.79 L71.50,224.81 L72.50,224.84 L73.50,224.86 L74.50,224.88 L75.50,224.90 L76.50,224.93 L77.50,224.95 L78.50,224.97 L79.50,225.00 L80.50,225.02 L81.50,225.05 L82.50,225.07 L83.50,225.10 L84.50,225.13 L85.50,225.15 L86.50,225.18 L87.50,225.21 L88.50,225.24 L89.50,225.26 L90.50,225.29 L91.50,225.32 L92.50,225.35 L93.50,225.38 L94.50,225.41 L95.50,225.44 L96.50,225.48 L97.50,225.51 L98.50,225.54 L99.50,225.57 L100.50,225.61 L101.50,225.64 L102.50,225.68 L103.50,225.71 L104.50,225.75 L105.50,225.78 L106.50,225.82 L107.50,225.86 L108.50,225.89 L109.50,225.93 L110.50,225.97 L111.50,226.01 L112.50,226.05 L113.50,226.09 L114.50,226.13 L115.50,226.18 L116.50,226.22 L117.50,226.26 L118.50,226.31 L119.50,226.35 L120.50,226.40 L121.50,226.44 L122.50,226.49 L123.50,226.54 L124.50,226.59 L125.50,226.64 L126.50,226.69 L127.50,226.74 L128.50,226.79 L129.50,226.84 L130.50,226.89 L131.50,226.95 L132.50,227.00 L133.50,227.06 L134.50,227.11 L135.50,227.17 L136.50,227.23 L137.50,227.29 L138.50,227.35 L139.50,227.41 L140.50,227.47 L141.50,227.53 L142.50,227.59 L143.50,227.66 L144.50,227.72 L145.50,227.79 L146.50,227.86 L147.50,227.93 L148.50,228.00 L149.50,228.07 L150.50,228.14 L151.50,228.21 L152.50,228.28 L153.50,228.36 L154.50,228.43 L155.50,228.51 L156.50,228.59 L157.50,228.67 L158.50,228.75 L159.50,228.83 L160.50,228.91 L161.50,229.00 L162.50,229.08 L163.50,229.17 L164.50,229.26 L165.50,229.35 L166.50,229.44 L167.50,229.53 L168.50,229.62 L169.50,229.72 L170.50,229.81 L171.50,229.91 L172.50,230.01 L173.50,230.11 L174.50,230.21 L175.50,230.31 L176.50,230.42 L177.50,230.52 L178.50,230.63 L179.50,230.74 L180.50,230.85 L181.50,230.96 L182.50,231.08 L183.50,231.19 L184.50,231.31 L185.50,231.43 L186.50,231.55 L187.50,231.67 L188.50,231.79 L189.50,231.92 L190.50,232.05 L191.50,232.18 L192.50,232.31 L193.50,232.44 L194.50,232.57 L195.50,232.71 L196.50,232.85 L197.50,232.99 L198.50,233.13 L199.50,233.27 L200.50,233.42 L201.50,233.57 L202.50,233.71 L203.50,233.87 L204.50,234.02 L205.50,234.18 L206.50,234.33 L207.50,234.49 L208.50,234.65 L209.50,234.82 L210.50,234.98 L211.50,235.15 L212.50,235.32 L213.50,235.49 L214.50,235.67 L215.50,235.84 L216.50,236.02 L217.50,236.20 L218.50,236.38 L219.50,236.57 L220.50,236.75 L221.50,236.94 L222.50,237.13 L223.50,237.33 L224.50,237.52 L225.50,237.72 L226.50,237.92 L227.50,238.12 L228.50,238.33 L229.50,238.53 L230.50,238.74 L231.50,238.95 L232.50,239.16 L233.50,239.38 L234.50,239.60 L235.50,239.81 L236.50,240.04 L237.50,240.26 L238.50,240.48 L239.50,240.71 L240.50,240.94 L241.50,241.17 L242.50,241.41 L243.50,241.64 L244.50,241.88 L245.50,242.12 L246.50,242.36 L247.50,242.60 L248.50,242.85 L249.50,243.10 L250.50,243.35 L251.50,243.60 L252.50,243.85 L253.50,244.10 L254.50,244.36 L255.50,244.62 L256.50,244.87 L257.50,245.14 L258.50,245.40 L259.50,245.66 L260.50,245.92 L261.50,246.19 L262.50,246.46 L263.50,246.73 L264.50,247.00 L265.50,247.27 L266.50,247.54 L267.50,247.81 L268.50,248.08 L269.50,248.36 L270.50,248.63 L271.50,248.91 L272.50,249.18 L273.50,249.46 L274.50,249.74 L275.50,250.02 L276.50,250.29 L277.50,250.57 L278.50,250.85 L279.50,251.13 L280.50,251.41 L281.50,251.69 L282.50,251.97 L283.50,252.24 L284.50,252.52 L285.50,252.80 L286.50,253.08 L287.50,253.35 L288.50,253.63 L289.50,253.91 L290.50,254.18 L291.50,254.46 L292.50,254.73 L293.50,255.00 L294.50,255.27 L295.50,255.54 L296.50,255.81 L297.50,256.08 L298.50,256.35 L299.50,256.61 L300.50,256.88 L301.50,257.14 L302.50,257.40 L303.50,257.66 L304.50,257.92 L305.50,258.17 L306.50,258.43 L307.50,258.68 L308.50,258.93 L309.50,259.18 L310.50,259.43 L311.50,259.68 L312.50,259.92 L313.50,260.16 L314.50,260.40 L315.50,260.64 L316.50,260.88 L317.50,261.11 L318.50,261.35 L319.50,261.58 L320.50,261.81 L321.50,262.04 L322.50,262.26 L323.50,262.49 L324.50,262.71 L325.50,262.93 L326.50,263.16 L327.50,263.37 L328.50,263.59 L329.50,263.81 L330.50,264.03 L331.50,264.25 L332.50,264.46 L333.50,264.68 L334.50,264.90 L335.50,265.12 L336.50,265.33 L337.50,265.56 L338.50,265.78 L339.50,266.00 L340.50,266.23 L341.50,266.47 L342.50,266.71 L343.50,266.95 L344.50,267.20 L345.50,267.46 L346.50,267.73 L347.50,268.02 L348.50,268.31 L349.50,268.63 L350.50,268.96 L351.50,269.32 L352.50,269.70 L353.50,270.12 L354.50,270.58 L355.00,270.83 L355.10,270.88 L355.20,270.93 L355.30,270.98 L355.40,271.03 L355.50,271.09 L355.60,271.14 L355.70,271.20 L355.80,271.25 L355.90,271.31 L356.00,271.36 L356.10,271.42 L356.20,271.48 L356.30,271.54 L356.40,271.60 L356.50,271.65 L356.60,271.72 L356.70,271.78 L356.80,271.84 L356.90,271.90 L357.00,271.97 L357.10,272.03 L357.20,272.10 L357.30,272.16 L357.40,272.23 L357.50,272.30 L357.60,272.37 L357.70,272.44 L357.80,272.51 L357.90,272.58 L358.00,272.65 L358.10,272.73 L358.20,272.80 L358.30,272.88 L358.40,272.95 L358.50,273.03 L358.60,273.11 L358.70,273.19 L358.80,273.27 L358.90,273.36 L359.00,273.44 L359.10,273.53 L359.20,273.61 L359.30,273.70 L359.40,273.79 L359.50,273.88 L359.60,273.98 L359.70,274.07 L359.80,274.17 L359.90,274.26 L360.00,274.36 L360.10,274.46 L360.20,274.57 L360.30,274.67 L360.40,274.78 L360.50,274.88 L360.60,274.99 L360.70,275.11 L360.80,275.22 L360.90,275.34 L361.00,275.45 L361.10,275.57 L361.20,275.70 L361.30,275.82 L361.40,275.95 L361.50,276.08 L361.60,276.21 L361.70,276.35 L361.80,276.49 L361.90,276.63 L362.00,276.77 L362.10,276.92 L362.20,277.07 L362.30,277.22 L362.40,277.38 L362.50,277.54 L362.60,277.70 L362.70,277.86 L362.80,278.04 L362.90,278.21 L363.00,278.39 L363.10,278.57 L363.20,278.76 L363.30,278.95 L363.40,279.14 L363.50,279.34 L363.60,279.55 L363.70,279.76 L363.80,279.97 L363.90,280.19 L364.00,280.42 L364.10,280.65 L364.20,280.89 L364.30,281.14 L364.40,281.39 L364.50,281.65 L364.60,281.91 L364.70,282.18 L364.80,282.46 L364.90,282.75 L365.00,283.04 L365.10,283.35 L365.20,283.66 L365.30,283.98 L365.40,284.31 L365.50,284.66 L365.60,285.01 L365.70,285.37 L365.80,285.74 L365.90,286.13 L366.00,286.53 L366.10,286.93 L366.20,287.36 L366.30,287.79 L366.40,288.25 L366.50,288.71 L366.60,289.19 L366.70,289.69 L366.80,290.20 L366.90,290.74 L367.00,291.29 L367.10,291.85 L367.20,292.44 L367.30,293.05 L367.40,293.68 L367.50,294.33 L367.60,295.01 L367.70,295.71 L367.80,296.43 L367.90,297.18 L368.00,297.96 L368.10,298.76 L368.20,299.60 L368.30,300.46 L368.40,301.35 L368.50,302.27 L368.60,303.22 L368.70,304.20 L368.80,305.22 L368.90,306.26 L369.00,307.34 L369.10,308.45 L369.20,309.60 L369.30,310.77 L369.40,311.98 L369.50,313.21 L369.60,314.48 L369.70,315.77 L369.80,317.09 L369.90,318.43 L370.00,319.79 L370.10,321.17 L370.20,322.57 L370.30,323.98 L370.40,325.40 L370.50,326.83 L370.60,328.26 L370.70,329.69 L370.80,331.12 L370.90,332.54 L371.00,333.95 L371.10,335.34 L371.20,336.72 L371.30,338.09 L371.40,339.42 L371.50,340.74 L371.60,342.03 L371.70,343.29 L371.80,344.53 L371.90,345.73 L372.00,346.90 L372.10,348.04 L372.20,349.15 L372.30,350.23 L372.40,351.27 L372.50,352.28 L372.60,353.26 L372.70,354.21 L372.80,355.12 L372.90,356.01 L373.00,356.87 L373.10,357.70 L373.20,358.49 L373.30,359.27 L373.40,360.01 L373.50,360.73 L373.60,361.43 L373.70,362.10 L373.80,362.75 L373.90,363.37 L374.00,363.98 L374.10,364.56 L374.20,365.13 L374.30,365.67 L374.40,366.20 L374.50,366.71 L374.60,367.20 L374.70,367.68 L374.80,368.14 L374.90,368.58 L375.00,369.02 L375.10,369.43 L375.20,369.84 L375.30,370.23 L375.40,370.61 L375.50,370.98 L375.60,371.33 L375.70,371.68 L375.80,372.02 L375.90,372.34 L376.00,372.66 L376.10,372.96 L376.20,373.26 L376.30,373.55 L376.40,373.83 L376.50,374.11 L376.60,374.37 L376.70,374.63 L376.80,374.88 L376.90,375.13 L377.00,375.36 L377.10,375.59 L377.20,375.82 L377.30,376.04 L377.40,376.25 L377.50,376.46 L377.60,376.66 L377.70,376.86 L377.80,377.05 L377.90,377.24 L378.00,377.42 L378.10,377.60 L378.20,377.78 L378.30,377.95 L378.40,378.11 L378.50,378.28 L378.60,378.43 L378.70,378.59 L378.80,378.74 L378.90,378.89 L379.00,379.03 L379.10,379.17 L379.20,379.31 L379.30,379.44 L379.40,379.58 L379.50,379.71 L379.60,379.83 L379.70,379.95 L379.80,380.07 L379.90,380.19 L380.00,380.31 L380.10,380.42 L380.20,380.53 L380.30,380.64 L380.40,380.75 L380.50,380.85 L380.60,380.95 L380.70,381.05 L380.80,381.15 L380.90,381.24 L381.00,381.34 L381.10,381.43 L381.20,381.52 L381.30,381.61 L381.40,381.69 L381.50,381.78 L381.60,381.86 L381.70,381.94 L381.80,382.02 L381.90,382.10 L382.00,382.18 L382.10,382.25 L382.20,382.32 L382.30,382.40 L382.40,382.47 L382.50,382.54 L382.60,382.61 L382.70,382.67 L382.80,382.74 L382.90,382.80 L383.00,382.87 L383.10,382.93 L383.20,382.99 L383.30,383.05 L383.40,383.11 L383.50,383.16 L383.60,383.22 L383.70,383.28 L383.80,383.33 L383.90,383.38 L384.00,383.44 L384.10,383.49 L384.20,383.54 L384.30,383.59 L384.40,383.64 L384.50,383.69 L384.60,383.73 L384.70,383.78 L384.80,383.82 L384.90,383.87 L385.00,383.91 L385.10,383.95 L385.20,384.00 L385.30,384.04 L385.40,384.08 L385.50,384.12 L385.60,384.16 L385.70,384.20 L385.80,384.23 L385.90,384.27 L386.00,384.31 L386.10,384.34 L386.20,384.38 L386.30,384.41 L386.40,384.45 L386.50,384.48 L386.60,384.51 L386.70,384.54 L386.80,384.57 L386.90,384.61 L387.00,384.64 L387.10,384.67 L387.20,384.69 L387.30,384.72 L387.40,384.75 L387.50,384.78 L387.60,384.81 L387.70,384.83 L387.80,384.86 L387.90,384.88 L388.00,384.91 L388.10,384.93 L388.20,384.96 L388.30,384.98 L388.40,385.00 L388.50,385.03 L388.60,385.05 L388.70,385.07 L388.80,385.09 L388.90,385.11 L389.00,385.13 L389.10,385.15 L389.20,385.17 L389.30,385.19 L389.40,385.21 L389.50,385.23 L389.60,385.24 L389.70,385.26 L389.80,385.28 L389.90,385.30 L390.50,385.39 L391.50,385.52 L392.50,385.61 L393.50,385.68 L394.50,385.73 L395.50,385.75 L396.50,385.75 L397.50,385.74 L398.50,385.70 L399.50,385.65 L400.50,385.58 L401.50,385.50 L402.50,385.41 L403.50,385.30 L404.50,385.18 L405.50,385.05 L406.50,384.91 L407.50,384.75 L408.50,384.59 L409.50,384.42 L410.50,384.23 L411.50,384.04 L412.50,383.84 L413.50,383.63 L414.50,383.41 L415.50,383.19 L416.50,382.95 L417.50,382.71 L418.50,382.46 L419.50,382.20 L420.50,381.93 L421.50,381.66 L422.50,381.37 L423.50,381.09 L424.50,380.79 L425.50,380.49 L426.50,380.18 L427.50,379.86 L428.50,379.54 L429.50,379.21 L430.50,378.87 L431.50,378.53 L432.50,378.18 L433.50,377.83 L434.50,377.46 L435.50,377.10 L436.50,376.72 L437.50,376.34 L438.50,375.96 L439.50,375.57 L440.50,375.17 L441.50,374.77 L442.50,374.36 L443.50,373.95 L444.50,373.53 L445.50,373.11 L446.50,372.68 L447.50,372.24 L448.50,371.81 L449.50,371.36 L450.50,370.91 L451.50,370.46 L452.50,370.00 L453.50,369.54 L454.50,369.07 L455.50,368.60 L456.50,368.12 L457.50,367.64 L458.50,367.16 L459.50,366.67 L460.50,366.18 L461.50,365.68 L462.50,365.18 L463.50,364.68 L464.50,364.17 L465.50,363.66 L466.50,363.15 L467.50,362.64 L468.50,362.12 L469.50,361.59 L470.50,361.07 L471.50,360.54 L472.50,360.01 L473.50,359.48 L474.50,358.94 L475.50,358.40 L476.50,357.86 L477.50,357.32 L478.50,356.78 L479.50,356.23 L480.50,355.69 L481.50,355.14 L482.50,354.59 L483.50,354.04 L484.50,353.48 L485.50,352.93 L486.50,352.37 L487.50,351.82 L488.50,351.26 L489.50,350.70 L490.50,350.15 L491.50,349.59 L492.50,349.03 L493.50,348.47 L494.50,347.91 L495.50,347.35 L496.50,346.80 L497.50,346.24 L498.50,345.68 L499.50,345.12 L500.50,344.56 L501.50,344.01 L502.50,343.45 L503.50,342.90 L504.50,342.35 L505.50,341.79 L506.50,341.24 L507.50,340.69 L508.50,340.14 L509.50,339.60 L510.50,339.05 L511.50,338.51 L512.50,337.97 L513.50,337.43 L514.50,336.89 L515.50,336.36 L516.50,335.82 L517.50,335.29 L518.50,334.76 L519.50,334.24 L520.50,333.72 L521.50,333.20 L522.50,332.68 L523.50,332.16 L524.50,331.65 L525.50,331.14 L526.50,330.63 L527.50,330.13 L528.50,329.63 L529.50,329.13 L530.50,328.64 L531.50,328.15 L532.50,327.66 L533.50,327.18 L534.50,326.70 L535.50,326.23 L536.50,325.75 L537.50,325.28 L538.50,324.82 L539.50,324.36 L540.50,323.90 L541.50,323.45 L542.50,323.00 L543.50,322.55 L544.50,322.11 L545.50,321.67 L546.50,321.24 L547.50,320.81 L548.50,320.38 L549.50,319.96 L550.50,319.54 L551.50,319.13 L552.50,318.72 L553.50,318.31 L554.50,317.91 L555.50,317.51 L556.50,317.12 L557.50,316.73 L558.50,316.34 L559.50,315.96 L560.50,315.58 L561.50,315.21 L562.50,314.84 L563.50,314.48 L564.50,314.12 L565.50,313.76 L566.50,313.41 L567.50,313.06 L568.50,312.71 L569.50,312.37 L570.50,312.04 L571.50,311.70 L572.50,311.38 L573.50,311.05 L574.50,310.73 L575.50,310.41 L576.50,310.10 L577.50,309.79 L578.50,309.49 L579.50,309.19 L580.50,308.89 L581.50,308.60 L582.50,308.31 L583.50,308.02 L584.50,307.74 L585.50,307.46 L586.50,307.18 L587.50,306.91 L588.50,306.64 L589.50,306.38 L590.50,306.12 L591.50,305.86 L592.50,305.61 L593.50,305.36 L594.50,305.11 L595.50,304.86 L596.50,304.62 L597.50,304.39 L598.50,304.15 L599.50,303.92 L600.50,303.69 L601.50,303.47 L602.50,303.25 L603.50,303.03 L604.50,302.81 L605.50,302.60 L606.50,302.39 L607.50,302.19 L608.50,301.98 L609.50,301.78 L610.50,301.58 L611.50,301.39 L612.50,301.20 L613.50,301.01 L614.50,300.82 L615.50,300.63 L616.50,300.45 L617.50,300.27 L618.50,300.10 L619.50,299.92 L620.50,299.75 L621.50,299.58 L622.50,299.42 L623.50,299.25 L624.50,299.09 L625.50,298.93 L626.50,298.77 L627.50,298.62 L628.50,298.47 L629.50,298.32 L630.50,298.17 L631.50,298.02 L632.50,297.88 L633.50,297.74 L634.50,297.60 L635.50,297.46 L636.50,297.32 L637.50,297.19 L638.50,297.06 L639.50,296.93 L640.50,296.80 L641.50,296.68 L642.50,296.55 L643.50,296.43 L644.50,296.31 L645.50,296.19 L646.50,296.07 L647.50,295.96 L648.50,295.85 L649.50,295.73 L650.50,295.62 L651.50,295.52 L652.50,295.41 L653.50,295.30 L654.50,295.20 L655.50,295.10 L656.50,295.00 L657.50,294.90 L658.50,294.80 L659.50,294.71 L660.50,294.61 L661.50,294.52 L662.50,294.43 L663.50,294.34 L664.50,294.25 L665.50,294.16 L666.50,294.07 L667.50,293.99 L668.50,293.90 L669.50,293.82 L670.30,293.76" stroke-width="1.5" stroke-dasharray="6.5 6.5"/>
<path d="M70.50,224.80 L71.50,224.82 L72.50,224.84 L73.50,224.86 L74.50,224.89 L75.50,224.91 L76.50,224.93 L77.50,224.96 L78.50,224.98 L79.50,225.00 L80.50,225.03 L81.50,225.05 L82.50,225.08 L83.50,225.11 L84.50,225.13 L85.50,225.16 L86.50,225.19 L87.50,225.21 L88.50,225.24 L89.50,225.27 L90.50,225.30 L91.50,225.33 L92.50,225.36 L93.50,225.39 L94.50,225.42 L95.50,225.45 L96.50,225.48 L97.50,225.51 L98.50,225.55 L99.50,225.58 L100.50,225.61 L101.50,225.65 L102.50,225.68 L103.50,225.72 L104.50,225.75 L105.50,225.79 L106.50,225.83 L107.50,225.86 L108.50,225.90 L109.50,225.94 L110.50,225.98 L111.50,226.02 L112.50,226.06 L113.50,226.10 L114.50,226.14 L115.50,226.19 L116.50,226.23 L117.50,226.27 L118.50,226.32 L119.50,226.36 L120.50,226.41 L121.50,226.45 L122.50,226.50 L123.50,226.55 L124.50,226.60 L125.50,226.65 L126.50,226.70 L127.50,226.75 L128.50,226.80 L129.50,226.85 L130.50,226.90 L131.50,226.96 L132.50,227.01 L133.50,227.07 L134.50,227.12 L135.50,227.18 L136.50,227.24 L137.50,227.30 L138.50,227.36 L139.50,227.42 L140.50,227.48 L141.50,227.54 L142.50,227.61 L143.50,227.67 L144.50,227.74 L145.50,227.80 L146.50,227.87 L147.50,227.94 L148.50,228.01 L149.50,228.08 L150.50,228.15 L151.50,228.22 L152.50,228.30 L153.50,228.37 L154.50,228.45 L155.50,228.53 L156.50,228.60 L157.50,228.68 L158.50,228.76 L159.50,228.85 L160.50,228.93 L161.50,229.01 L162.50,229.10 L163.50,229.19 L164.50,229.27 L165.50,229.36 L166.50,229.45 L167.50,229.54 L168.50,229.64 L169.50,229.73 L170.50,229.83 L171.50,229.93 L172.50,230.03 L173.50,230.13 L174.50,230.23 L175.50,230.33 L176.50,230.43 L177.50,230.54 L178.50,230.65 L179.50,230.76 L180.50,230.87 L181.50,230.98 L182.50,231.09 L183.50,231.21 L184.50,231.33 L185.50,231.45 L186.50,231.57 L187.50,231.69 L188.50,231.81 L189.50,231.94 L190.50,232.07 L191.50,232.19 L192.50,232.33 L193.50,232.46 L194.50,232.59 L195.50,232.73 L196.50,232.87 L197.50,233.01 L198.50,233.15 L199.50,233.29 L200.50,233.44 L201.50,233.58 L202.50,233.73 L203.50,233.88 L204.50,234.04 L205.50,234.19 L206.50,234.35 L207.50,234.51 L208.50,234.67 L209.50,234.83 L210.50,235.00 L211.50,235.17 L212.50,235.34 L213.50,235.51 L214.50,235.68 L215.50,235.86 L216.50,236.03 L217.50,236.21 L218.50,236.39 L219.50,236.58 L220.50,236.76 L221.50,236.95 L222.50,237.14 L223.50,237.34 L224.50,237.53 L225.50,237.73 L226.50,237.93 L227.50,238.13 L228.50,238.33 L229.50,238.53 L230.50,238.74 L231.50,238.95 L232.50,239.16 L233.50,239.38 L234.50,239.59 L235.50,239.81 L236.50,240.03 L237.50,240.25 L238.50,240.47 L239.50,240.70 L240.50,240.93 L241.50,241.16 L242.50,241.39 L243.50,241.62 L244.50,241.86 L245.50,242.09 L246.50,242.33 L247.50,242.57 L248.50,242.82 L249.50,243.06 L250.50,243.31 L251.50,243.55 L252.50,243.80 L253.50,244.05 L254.50,244.30 L255.50,244.56 L256.50,244.81 L257.50,245.07 L258.50,245.33 L259.50,245.59 L260.50,245.85 L261.50,246.11 L262.50,246.37 L263.50,246.63 L264.50,246.90 L265.50,247.16 L266.50,247.43 L267.50,247.69 L268.50,247.96 L269.50,248.23 L270.50,248.50 L271.50,248.77 L272.50,249.04 L273.50,249.31 L274.50,249.58 L275.50,249.85 L276.50,250.12 L277.50,250.39 L278.50,250.66 L279.50,250.93 L280.50,251.20 L281.50,251.47 L282.50,251.74 L283.50,252.01 L284.50,252.28 L285.50,252.55 L286.50,252.81 L287.50,253.08 L288.50,253.35 L289.50,253.61 L290.50,253.88 L291.50,254.14 L292.50,254.40 L293.50,254.66 L294.50,254.92 L295.50,255.18 L296.50,255.44 L297.50,255.69 L298.50,255.95 L299.50,256.20 L300.50,256.45 L301.50,256.70 L302.50,256.95 L303.50,257.19 L304.50,257.44 L305.50,257.68 L306.50,257.92 L307.50,258.16 L308.50,258.39 L309.50,258.63 L310.50,258.86 L311.50,259.09 L312.50,259.32 L313.50,259.54 L314.50,259.77 L315.50,259.99 L316.50,260.21 L317.50,260.42 L318.50,260.64 L319.50,260.85 L320.50,261.06 L321.50,261.27 L322.50,261.48 L323.50,261.69 L324.50,261.89 L325.50,262.09 L326.50,262.29 L327.50,262.49 L328.50,262.69 L329.50,262.89 L330.50,263.08 L331.50,263.28 L332.50,263.47 L333.50,263.67 L334.50,263.86 L335.50,264.06 L336.50,264.25 L337.50,264.45 L338.50,264.65 L339.50,264.85 L340.50,265.06 L341.50,265.26 L342.50,265.48 L343.50,265.70 L344.50,265.92 L345.50,266.16 L346.50,266.40 L347.50,266.66 L348.50,266.93 L349.50,267.21 L350.50,267.52 L351.50,267.85 L352.50,268.20 L353.50,268.59 L354.50,269.02 L355.00,269.26 L355.10,269.30 L355.20,269.35 L355.30,269.40 L355.40,269.45 L355.50,269.50 L355.60,269.55 L355.70,269.61 L355.80,269.66 L355.90,269.71 L356.00,269.76 L356.10,269.82 L356.20,269.87 L356.30,269.93 L356.40,269.98 L356.50,270.04 L356.60,270.10 L356.70,270.16 L356.80,270.22 L356.90,270.28 L357.00,270.34 L357.10,270.40 L357.20,270.46 L357.30,270.52 L357.40,270.59 L357.50,270.65 L357.60,270.72 L357.70,270.79 L357.80,270.85 L357.90,270.92 L358.00,270.99 L358.10,271.06 L358.20,271.14 L358.30,271.21 L358.40,271.28 L358.50,271.36 L358.60,271.43 L358.70,271.51 L358.80,271.59 L358.90,271.67 L359.00,271.75 L359.10,271.83 L359.20,271.92 L359.30,272.00 L359.40,272.09 L359.50,272.18 L359.60,272.27 L359.70,272.36 L359.80,272.45 L359.90,272.55 L360.00,272.64 L360.10,272.74 L360.20,272.84 L360.30,272.94 L360.40,273.04 L360.50,273.15 L360.60,273.25 L360.70,273.36 L360.80,273.47 L360.90,273.59 L361.00,273.70 L361.10,273.82 L361.20,273.94 L361.30,274.06 L361.40,274.18 L361.50,274.31 L361.60,274.44 L361.70,274.57 L361.80,274.71 L361.90,274.85 L362.00,274.99 L362.10,275.13 L362.20,275.28 L362.30,275.43 L362.40,275.58 L362.50,275.74 L362.60,275.89 L362.70,276.06 L362.80,276.23 L362.90,276.40 L363.00,276.57 L363.10,276.75 L363.20,276.93 L363.30,277.12 L363.40,277.31 L363.50,277.51 L363.60,277.71 L363.70,277.92 L363.80,278.13 L363.90,278.35 L364.00,278.57 L364.10,278.80 L364.20,279.04 L364.30,279.28 L364.40,279.53 L364.50,279.78 L364.60,280.04 L364.70,280.31 L364.80,280.59 L364.90,280.87 L365.00,281.16 L365.10,281.46 L365.20,281.77 L365.30,282.09 L365.40,282.42 L365.50,282.76 L365.60,283.11 L365.70,283.46 L365.80,283.83 L365.90,284.22 L366.00,284.61 L366.10,285.02 L366.20,285.44 L366.30,285.87 L366.40,286.32 L366.50,286.78 L366.60,287.26 L366.70,287.75 L366.80,288.26 L366.90,288.79 L367.00,289.34 L367.10,289.90 L367.20,290.49 L367.30,291.09 L367.40,291.72 L367.50,292.37 L367.60,293.04 L367.70,293.74 L367.80,294.46 L367.90,295.21 L368.00,295.98 L368.10,296.78 L368.20,297.61 L368.30,298.46 L368.40,299.35 L368.50,300.27 L368.60,301.21 L368.70,302.19 L368.80,303.21 L368.90,304.25 L369.00,305.32 L369.10,306.43 L369.20,307.57 L369.30,308.74 L369.40,309.95 L369.50,311.18 L369.60,312.44 L369.70,313.73 L369.80,315.04 L369.90,316.38 L370.00,317.74 L370.10,319.12 L370.20,320.51 L370.30,321.92 L370.40,323.34 L370.50,324.76 L370.60,326.19 L370.70,327.61 L370.80,329.04 L370.90,330.45 L371.00,331.86 L371.10,333.25 L371.20,334.63 L371.30,335.99 L371.40,337.32 L371.50,338.64 L371.60,339.92 L371.70,341.18 L371.80,342.41 L371.90,343.61 L372.00,344.78 L372.10,345.92 L372.20,347.02 L372.30,348.09 L372.40,349.13 L372.50,350.14 L372.60,351.12 L372.70,352.06 L372.80,352.97 L372.90,353.86 L373.00,354.71 L373.10,355.53 L373.20,356.33 L373.30,357.10 L373.40,357.84 L373.50,358.56 L373.60,359.25 L373.70,359.92 L373.80,360.56 L373.90,361.18 L374.00,361.79 L374.10,362.37 L374.20,362.93 L374.30,363.47 L374.40,363.99 L374.50,364.50 L374.60,364.99 L374.70,365.46 L374.80,365.92 L374.90,366.36 L375.00,366.79 L375.10,367.20 L375.20,367.60 L375.30,367.99 L375.40,368.37 L375.50,368.73 L375.60,369.08 L375.70,369.42 L375.80,369.76 L375.90,370.08 L376.00,370.39 L376.10,370.69 L376.20,370.99 L376.30,371.27 L376.40,371.55 L376.50,371.82 L376.60,372.08 L376.70,372.34 L376.80,372.58 L376.90,372.82 L377.00,373.06 L377.10,373.29 L377.20,373.51 L377.30,373.72 L377.40,373.93 L377.50,374.14 L377.60,374.34 L377.70,374.53 L377.80,374.72 L377.90,374.90 L378.00,375.08 L378.10,375.26 L378.20,375.43 L378.30,375.59 L378.40,375.76 L378.50,375.91 L378.60,376.07 L378.70,376.22 L378.80,376.37 L378.90,376.51 L379.00,376.65 L379.10,376.79 L379.20,376.92 L379.30,377.05 L379.40,377.18 L379.50,377.30 L379.60,377.43 L379.70,377.55 L379.80,377.66 L379.90,377.78 L380.00,377.89 L380.10,378.00 L380.20,378.10 L380.30,378.21 L380.40,378.31 L380.50,378.41 L380.60,378.51 L380.70,378.60 L380.80,378.70 L380.90,378.79 L381.00,378.88 L381.10,378.97 L381.20,379.05 L381.30,379.14 L381.40,379.22 L381.50,379.30 L381.60,379.38 L381.70,379.45 L381.80,379.53 L381.90,379.60 L382.00,379.68 L382.10,379.75 L382.20,379.82 L382.30,379.89 L382.40,379.95 L382.50,380.02 L382.60,380.08 L382.70,380.15 L382.80,380.21 L382.90,380.27 L383.00,380.33 L383.10,380.39 L383.20,380.44 L383.30,380.50 L383.40,380.55 L383.50,380.61 L383.60,380.66 L383.70,380.71 L383.80,380.76 L383.90,380.81 L384.00,380.86 L384.10,380.91 L384.20,380.95 L384.30,381.00 L384.40,381.04 L384.50,381.09 L384.60,381.13 L384.70,381.17 L384.80,381.21 L384.90,381.25 L385.00,381.29 L385.10,381.33 L385.20,381.37 L385.30,381.41 L385.40,381.44 L385.50,381.48 L385.60,381.51 L385.70,381.55 L385.80,381.58 L385.90,381.62 L386.00,381.65 L386.10,381.68 L386.20,381.71 L386.30,381.74 L386.40,381.77 L386.50,381.80 L386.60,381.83 L386.70,381.86 L386.80,381.88 L386.90,381.91 L387.00,381.93 L387.10,381.96 L387.20,381.99 L387.30,382.01 L387.40,382.03 L387.50,382.06 L387.60,382.08 L387.70,382.10 L387.80,382.12 L387.90,382.14 L388.00,382.17 L388.10,382.19 L388.20,382.21 L388.30,382.22 L388.40,382.24 L388.50,382.26 L388.60,382.28 L388.70,382.30 L388.80,382.31 L388.90,382.33 L389.00,382.35 L389.10,382.36 L389.20,382.38 L389.30,382.39 L389.40,382.41 L389.50,382.42 L389.60,382.43 L389.70,382.45 L389.80,382.46 L389.90,382.47 L390.50,382.54 L391.50,382.63 L392.50,382.68 L393.50,382.70 L394.50,382.71 L395.50,382.68 L396.50,382.64 L397.50,382.58 L398.50,382.50 L399.50,382.40 L400.50,382.28 L401.50,382.16 L402.50,382.02 L403.50,381.86 L404.50,381.69 L405.50,381.51 L406.50,381.32 L407.50,381.12 L408.50,380.91 L409.50,380.69 L410.50,380.45 L411.50,380.21 L412.50,379.96 L413.50,379.70 L414.50,379.43 L415.50,379.15 L416.50,378.86 L417.50,378.57 L418.50,378.26 L419.50,377.95 L420.50,377.63 L421.50,377.31 L422.50,376.97 L423.50,376.63 L424.50,376.28 L425.50,375.93 L426.50,375.57 L427.50,375.20 L428.50,374.82 L429.50,374.44 L430.50,374.05 L431.50,373.65 L432.50,373.25 L433.50,372.84 L434.50,372.43 L435.50,372.01 L436.50,371.58 L437.50,371.15 L438.50,370.71 L439.50,370.27 L440.50,369.82 L441.50,369.37 L442.50,368.91 L443.50,368.44 L444.50,367.97 L445.50,367.50 L446.50,367.02 L447.50,366.53 L448.50,366.05 L449.50,365.55 L450.50,365.06 L451.50,364.55 L452.50,364.05 L453.50,363.54 L454.50,363.02 L455.50,362.51 L456.50,361.99 L457.50,361.46 L458.50,360.93 L459.50,360.40 L460.50,359.87 L461.50,359.33 L462.50,358.79 L463.50,358.25 L464.50,357.70 L465.50,357.15 L466.50,356.60 L467.50,356.05 L468.50,355.50 L469.50,354.94 L470.50,354.38 L471.50,353.82 L472.50,353.26 L473.50,352.70 L474.50,352.13 L475.50,351.57 L476.50,351.00 L477.50,350.43 L478.50,349.87 L479.50,349.30 L480.50,348.73 L481.50,348.16 L482.50,347.59 L483.50,347.02 L484.50,346.45 L485.50,345.88 L486.50,345.31 L487.50,344.75 L488.50,344.18 L489.50,343.61 L490.50,343.05 L491.50,342.48 L492.50,341.92 L493.50,341.36 L494.50,340.80 L495.50,340.24 L496.50,339.68 L497.50,339.12 L498.50,338.57 L499.50,338.02 L500.50,337.47 L501.50,336.92 L502.50,336.37 L503.50,335.83 L504.50,335.29 L505.50,334.75 L506.50,334.21 L507.50,333.68 L508.50,333.15 L509.50,332.62 L510.50,332.10 L511.50,331.58 L512.50,331.06 L513.50,330.55 L514.50,330.04 L515.50,329.53 L516.50,329.02 L517.50,328.52 L518.50,328.03 L519.50,327.53 L520.50,327.04 L521.50,326.56 L522.50,326.08 L523.50,325.60 L524.50,325.12 L525.50,324.65 L526.50,324.19 L527.50,323.72 L528.50,323.26 L529.50,322.81 L530.50,322.36 L531.50,321.91 L532.50,321.47 L533.50,321.03 L534.50,320.60 L535.50,320.17 L536.50,319.75 L537.50,319.33 L538.50,318.91 L539.50,318.50 L540.50,318.09 L541.50,317.69 L542.50,317.29 L543.50,316.89 L544.50,316.50 L545.50,316.11 L546.50,315.73 L547.50,315.35 L548.50,314.98 L549.50,314.61 L550.50,314.25 L551.50,313.88 L552.50,313.53 L553.50,313.17 L554.50,312.83 L555.50,312.48 L556.50,312.14 L557.50,311.81 L558.50,311.47 L559.50,311.15 L560.50,310.82 L561.50,310.50 L562.50,310.19 L563.50,309.88 L564.50,309.57 L565.50,309.26 L566.50,308.96 L567.50,308.67 L568.50,308.38 L569.50,308.09 L570.50,307.80 L571.50,307.52 L572.50,307.24 L573.50,306.97 L574.50,306.70 L575.50,306.43 L576.50,306.17 L577.50,305.91 L578.50,305.66 L579.50,305.40 L580.50,305.15 L581.50,304.91 L582.50,304.67 L583.50,304.43 L584.50,304.19 L585.50,303.96 L586.50,303.73 L587.50,303.51 L588.50,303.28 L589.50,303.06 L590.50,302.85 L591.50,302.63 L592.50,302.42 L593.50,302.22 L594.50,302.01 L595.50,301.81 L596.50,301.61 L597.50,301.41 L598.50,301.22 L599.50,301.03 L600.50,300.84 L601.50,300.66 L602.50,300.48 L603.50,300.30 L604.50,300.12 L605.50,299.94 L606.50,299.77 L607.50,299.60 L608.50,299.44 L609.50,299.27 L610.50,299.11 L611.50,298.95 L612.50,298.79 L613.50,298.64 L614.50,298.48 L615.50,298.33 L616.50,298.18 L617.50,298.04 L618.50,297.89 L619.50,297.75 L620.50,297.61 L621.50,297.47 L622.50,297.34 L623.50,297.20 L624.50,297.07 L625.50,296.94 L626.50,296.81 L627.50,296.69 L628.50,296.56 L629.50,296.44 L630.50,296.32 L631.50,296.20 L632.50,296.08 L633.50,295.97 L634.50,295.86 L635.50,295.74 L636.50,295.63 L637.50,295.52 L638.50,295.42 L639.50,295.31 L640.50,295.21 L641.50,295.11 L642.50,295.01 L643.50,294.91 L644.50,294.81 L645.50,294.71 L646.50,294.62 L647.50,294.52 L648.50,294.43 L649.50,294.34 L650.50,294.25 L651.50,294.17 L652.50,294.08 L653.50,293.99 L654.50,293.91 L655.50,293.83 L656.50,293.75 L657.50,293.67 L658.50,293.59 L659.50,293.51 L660.50,293.43 L661.50,293.36 L662.50,293.28 L663.50,293.21 L664.50,293.14 L665.50,293.07 L666.50,293.00 L667.50,292.93 L668.50,292.86 L669.50,292.79 L670.30,292.74" stroke-width="1.3"/>
<path d="M70.50,224.86 L71.50,224.89 L72.50,224.91 L73.50,224.93 L74.50,224.96 L75.50,224.98 L76.50,225.00 L77.50,225.03 L78.50,225.05 L79.50,225.08 L80.50,225.11 L81.50,225.13 L82.50,225.16 L83.50,225.19 L84.50,225.21 L85.50,225.24 L86.50,225.27 L87.50,225.30 L88.50,225.33 L89.50,225.36 L90.50,225.39 L91.50,225.42 L92.50,225.45 L93.50,225.48 L94.50,225.51 L95.50,225.55 L96.50,225.58 L97.50,225.61 L98.50,225.65 L99.50,225.68 L100.50,225.72 L101.50,225.75 L102.50,225.79 L103.50,225.83 L104.50,225.86 L105.50,225.90 L106.50,225.94 L107.50,225.98 L108.50,226.02 L109.50,226.06 L110.50,226.10 L111.50,226.14 L112.50,226.18 L113.50,226.23 L114.50,226.27 L115.50,226.32 L116.50,226.36 L117.50,226.41 L118.50,226.45 L119.50,226.50 L120.50,226.55 L121.50,226.60 L122.50,226.64 L123.50,226.69 L124.50,226.74 L125.50,226.80 L126.50,226.85 L127.50,226.90 L128.50,226.96 L129.50,227.01 L130.50,227.07 L131.50,227.12 L132.50,227.18 L133.50,227.24 L134.50,227.30 L135.50,227.36 L136.50,227.42 L137.50,227.48 L138.50,227.54 L139.50,227.60 L140.50,227.67 L141.50,227.73 L142.50,227.80 L143.50,227.87 L144.50,227.94 L145.50,228.01 L146.50,228.08 L147.50,228.15 L148.50,228.22 L149.50,228.29 L150.50,228.37 L151.50,228.44 L152.50,228.52 L153.50,228.60 L154.50,228.68 L155.50,228.76 L156.50,228.84 L157.50,228.92 L158.50,229.01 L159.50,229.09 L160.50,229.18 L161.50,229.27 L162.50,229.36 L163.50,229.45 L164.50,229.54 L165.50,229.63 L166.50,229.73 L167.50,229.82 L168.50,229.92 L169.50,230.02 L170.50,230.12 L171.50,230.22 L172.50,230.32 L173.50,230.43 L174.50,230.53 L175.50,230.64 L176.50,230.75 L177.50,230.86 L178.50,230.97 L179.50,231.09 L180.50,231.20 L181.50,231.32 L182.50,231.44 L183.50,231.56 L184.50,231.68 L185.50,231.80 L186.50,231.93 L187.50,232.05 L188.50,232.18 L189.50,232.31 L190.50,232.44 L191.50,232.58 L192.50,232.71 L193.50,232.85 L194.50,232.99 L195.50,233.13 L196.50,233.27 L197.50,233.42 L198.50,233.56 L199.50,233.71 L200.50,233.86 L201.50,234.01 L202.50,234.17 L203.50,234.32 L204.50,234.48 L205.50,234.64 L206.50,234.81 L207.50,234.97 L208.50,235.14 L209.50,235.30 L210.50,235.47 L211.50,235.65 L212.50,235.82 L213.50,236.00 L214.50,236.17 L215.50,236.35 L216.50,236.54 L217.50,236.72 L218.50,236.91 L219.50,237.10 L220.50,237.29 L221.50,237.48 L222.50,237.67 L223.50,237.87 L224.50,238.07 L225.50,238.27 L226.50,238.47 L227.50,238.68 L228.50,238.88 L229.50,239.09 L230.50,239.30 L231.50,239.51 L232.50,239.73 L233.50,239.95 L234.50,240.16 L235.50,240.38 L236.50,240.61 L237.50,240.83 L238.50,241.06 L239.50,241.28 L240.50,241.51 L241.50,241.74 L242.50,241.98 L243.50,242.21 L244.50,242.45 L245.50,242.68 L246.50,242.92 L247.50,243.16 L248.50,243.41 L249.50,243.65 L250.50,243.89 L251.50,244.14 L252.50,244.39 L253.50,244.64 L254.50,244.89 L255.50,245.14 L256.50,245.39 L257.50,245.64 L258.50,245.90 L259.50,246.15 L260.50,246.41 L261.50,246.66 L262.50,246.92 L263.50,247.18 L264.50,247.43 L265.50,247.69 L266.50,247.95 L267.50,248.21 L268.50,248.47 L269.50,248.73 L270.50,248.99 L271.50,249.25 L272.50,249.51 L273.50,249.77 L274.50,250.03 L275.50,250.29 L276.50,250.54 L277.50,250.80 L278.50,251.06 L279.50,251.32 L280.50,251.57 L281.50,251.83 L282.50,252.08 L283.50,252.33 L284.50,252.59 L285.50,252.84 L286.50,253.09 L287.50,253.34 L288.50,253.58 L289.50,253.83 L290.50,254.07 L291.50,254.31 L292.50,254.56 L293.50,254.79 L294.50,255.03 L295.50,255.27 L296.50,255.50 L297.50,255.73 L298.50,255.96 L299.50,256.19 L300.50,256.41 L301.50,256.64 L302.50,256.86 L303.50,257.07 L304.50,257.29 L305.50,257.50 L306.50,257.71 L307.50,257.92 L308.50,258.13 L309.50,258.33 L310.50,258.53 L311.50,258.73 L312.50,258.92 L313.50,259.11 L314.50,259.30 L315.50,259.49 L316.50,259.67 L317.50,259.85 L318.50,260.03 L319.50,260.21 L320.50,260.38 L321.50,260.56 L322.50,260.72 L323.50,260.89 L324.50,261.05 L325.50,261.22 L326.50,261.38 L327.50,261.54 L328.50,261.69 L329.50,261.85 L330.50,262.00 L331.50,262.15 L332.50,262.30 L333.50,262.45 L334.50,262.60 L335.50,262.75 L336.50,262.90 L337.50,263.06 L338.50,263.21 L339.50,263.36 L340.50,263.52 L341.50,263.68 L342.50,263.84 L343.50,264.01 L344.50,264.19 L345.50,264.37 L346.50,264.57 L347.50,264.77 L348.50,264.99 L349.50,265.22 L350.50,265.48 L351.50,265.75 L352.50,266.05 L353.50,266.39 L354.50,266.77 L355.00,266.97 L355.10,267.01 L355.20,267.06 L355.30,267.10 L355.40,267.14 L355.50,267.19 L355.60,267.23 L355.70,267.28 L355.80,267.33 L355.90,267.37 L356.00,267.42 L356.10,267.47 L356.20,267.52 L356.30,267.57 L356.40,267.62 L356.50,267.67 L356.60,267.72 L356.70,267.78 L356.80,267.83 L356.90,267.88 L357.00,267.94 L357.10,268.00 L357.20,268.05 L357.30,268.11 L357.40,268.17 L357.50,268.23 L357.60,268.29 L357.70,268.35 L357.80,268.41 L357.90,268.47 L358.00,268.54 L358.10,268.60 L358.20,268.67 L358.30,268.74 L358.40,268.81 L358.50,268.87 L358.60,268.95 L358.70,269.02 L358.80,269.09 L358.90,269.16 L359.00,269.24 L359.10,269.32 L359.20,269.39 L359.30,269.47 L359.40,269.56 L359.50,269.64 L359.60,269.72 L359.70,269.81 L359.80,269.89 L359.90,269.98 L360.00,270.07 L360.10,270.16 L360.20,270.26 L360.30,270.35 L360.40,270.45 L360.50,270.55 L360.60,270.65 L360.70,270.75 L360.80,270.86 L360.90,270.97 L361.00,271.07 L361.10,271.19 L361.20,271.30 L361.30,271.42 L361.40,271.53 L361.50,271.66 L361.60,271.78 L361.70,271.90 L361.80,272.03 L361.90,272.17 L362.00,272.30 L362.10,272.44 L362.20,272.58 L362.30,272.72 L362.40,272.87 L362.50,273.02 L362.60,273.17 L362.70,273.33 L362.80,273.49 L362.90,273.66 L363.00,273.83 L363.10,274.00 L363.20,274.18 L363.30,274.36 L363.40,274.54 L363.50,274.74 L363.60,274.93 L363.70,275.13 L363.80,275.34 L363.90,275.55 L364.00,275.77 L364.10,275.99 L364.20,276.22 L364.30,276.45 L364.40,276.70 L364.50,276.94 L364.60,277.20 L364.70,277.46 L364.80,277.73 L364.90,278.01 L365.00,278.30 L365.10,278.59 L365.20,278.90 L365.30,279.21 L365.40,279.53 L365.50,279.86 L365.60,280.20 L365.70,280.56 L365.80,280.92 L365.90,281.30 L366.00,281.68 L366.10,282.08 L366.20,282.50 L366.30,282.93 L366.40,283.37 L366.50,283.82 L366.60,284.29 L366.70,284.78 L366.80,285.29 L366.90,285.81 L367.00,286.35 L367.10,286.91 L367.20,287.49 L367.30,288.09 L367.40,288.71 L367.50,289.35 L367.60,290.02 L367.70,290.71 L367.80,291.42 L367.90,292.16 L368.00,292.93 L368.10,293.72 L368.20,294.54 L368.30,295.39 L368.40,296.28 L368.50,297.19 L368.60,298.13 L368.70,299.10 L368.80,300.11 L368.90,301.14 L369.00,302.21 L369.10,303.31 L369.20,304.45 L369.30,305.61 L369.40,306.81 L369.50,308.03 L369.60,309.29 L369.70,310.57 L369.80,311.88 L369.90,313.21 L370.00,314.56 L370.10,315.94 L370.20,317.32 L370.30,318.72 L370.40,320.14 L370.50,321.55 L370.60,322.97 L370.70,324.39 L370.80,325.81 L370.90,327.22 L371.00,328.62 L371.10,330.01 L371.20,331.38 L371.30,332.73 L371.40,334.06 L371.50,335.37 L371.60,336.65 L371.70,337.90 L371.80,339.12 L371.90,340.31 L372.00,341.48 L372.10,342.61 L372.20,343.71 L372.30,344.77 L372.40,345.80 L372.50,346.81 L372.60,347.77 L372.70,348.71 L372.80,349.62 L372.90,350.50 L373.00,351.34 L373.10,352.16 L373.20,352.95 L373.30,353.71 L373.40,354.45 L373.50,355.16 L373.60,355.84 L373.70,356.50 L373.80,357.14 L373.90,357.76 L374.00,358.35 L374.10,358.93 L374.20,359.48 L374.30,360.02 L374.40,360.53 L374.50,361.03 L374.60,361.51 L374.70,361.98 L374.80,362.43 L374.90,362.87 L375.00,363.29 L375.10,363.70 L375.20,364.09 L375.30,364.47 L375.40,364.84 L375.50,365.20 L375.60,365.54 L375.70,365.88 L375.80,366.21 L375.90,366.52 L376.00,366.83 L376.10,367.12 L376.20,367.41 L376.30,367.69 L376.40,367.96 L376.50,368.22 L376.60,368.48 L376.70,368.73 L376.80,368.97 L376.90,369.20 L377.00,369.43 L377.10,369.65 L377.20,369.86 L377.30,370.07 L377.40,370.27 L377.50,370.47 L377.60,370.66 L377.70,370.85 L377.80,371.03 L377.90,371.21 L378.00,371.38 L378.10,371.55 L378.20,371.72 L378.30,371.88 L378.40,372.03 L378.50,372.18 L378.60,372.33 L378.70,372.47 L378.80,372.62 L378.90,372.75 L379.00,372.89 L379.10,373.02 L379.20,373.14 L379.30,373.27 L379.40,373.39 L379.50,373.51 L379.60,373.62 L379.70,373.73 L379.80,373.84 L379.90,373.95 L380.00,374.05 L380.10,374.16 L380.20,374.26 L380.30,374.35 L380.40,374.45 L380.50,374.54 L380.60,374.63 L380.70,374.72 L380.80,374.81 L380.90,374.89 L381.00,374.98 L381.10,375.06 L381.20,375.14 L381.30,375.21 L381.40,375.29 L381.50,375.36 L381.60,375.43 L381.70,375.50 L381.80,375.57 L381.90,375.64 L382.00,375.71 L382.10,375.77 L382.20,375.83 L382.30,375.89 L382.40,375.95 L382.50,376.01 L382.60,376.07 L382.70,376.13 L382.80,376.18 L382.90,376.23 L383.00,376.29 L383.10,376.34 L383.20,376.39 L383.30,376.44 L383.40,376.48 L383.50,376.53 L383.60,376.58 L383.70,376.62 L383.80,376.66 L383.90,376.71 L384.00,376.75 L384.10,376.79 L384.20,376.83 L384.30,376.87 L384.40,376.90 L384.50,376.94 L384.60,376.98 L384.70,377.01 L384.80,377.05 L384.90,377.08 L385.00,377.11 L385.10,377.14 L385.20,377.17 L385.30,377.20 L385.40,377.23 L385.50,377.26 L385.60,377.29 L385.70,377.32 L385.80,377.34 L385.90,377.37 L386.00,377.40 L386.10,377.42 L386.20,377.44 L386.30,377.47 L386.40,377.49 L386.50,377.51 L386.60,377.53 L386.70,377.55 L386.80,377.57 L386.90,377.59 L387.00,377.61 L387.10,377.63 L387.20,377.65 L387.30,377.66 L387.40,377.68 L387.50,377.70 L387.60,377.71 L387.70,377.73 L387.80,377.74 L387.90,377.76 L388.00,377.77 L388.10,377.78 L388.20,377.79 L388.30,377.81 L388.40,377.82 L388.50,377.83 L388.60,377.84 L388.70,377.85 L388.80,377.86 L388.90,377.87 L389.00,377.88 L389.10,377.89 L389.20,377.89 L389.30,377.90 L389.40,377.91 L389.50,377.92 L389.60,377.92 L389.70,377.93 L389.80,377.93 L389.90,377.94 L390.50,377.96 L391.50,377.97 L392.50,377.95 L393.50,377.91 L394.50,377.83 L395.50,377.73 L396.50,377.61 L397.50,377.48 L398.50,377.32 L399.50,377.14 L400.50,376.95 L401.50,376.75 L402.50,376.53 L403.50,376.30 L404.50,376.05 L405.50,375.80 L406.50,375.53 L407.50,375.25 L408.50,374.95 L409.50,374.65 L410.50,374.34 L411.50,374.02 L412.50,373.69 L413.50,373.35 L414.50,373.00 L415.50,372.64 L416.50,372.28 L417.50,371.90 L418.50,371.52 L419.50,371.13 L420.50,370.74 L421.50,370.33 L422.50,369.92 L423.50,369.50 L424.50,369.08 L425.50,368.64 L426.50,368.20 L427.50,367.76 L428.50,367.31 L429.50,366.85 L430.50,366.39 L431.50,365.92 L432.50,365.44 L433.50,364.96 L434.50,364.48 L435.50,363.99 L436.50,363.49 L437.50,362.99 L438.50,362.49 L439.50,361.98 L440.50,361.46 L441.50,360.94 L442.50,360.42 L443.50,359.89 L444.50,359.36 L445.50,358.83 L446.50,358.29 L447.50,357.75 L448.50,357.20 L449.50,356.66 L450.50,356.11 L451.50,355.55 L452.50,355.00 L453.50,354.44 L454.50,353.88 L455.50,353.32 L456.50,352.75 L457.50,352.19 L458.50,351.62 L459.50,351.05 L460.50,350.48 L461.50,349.91 L462.50,349.34 L463.50,348.77 L464.50,348.19 L465.50,347.62 L466.50,347.04 L467.50,346.47 L468.50,345.90 L469.50,345.32 L470.50,344.75 L471.50,344.17 L472.50,343.60 L473.50,343.03 L474.50,342.46 L475.50,341.89 L476.50,341.32 L477.50,340.75 L478.50,340.18 L479.50,339.62 L480.50,339.06 L481.50,338.49 L482.50,337.94 L483.50,337.38 L484.50,336.82 L485.50,336.27 L486.50,335.72 L487.50,335.17 L488.50,334.63 L489.50,334.09 L490.50,333.55 L491.50,333.01 L492.50,332.48 L493.50,331.95 L494.50,331.42 L495.50,330.90 L496.50,330.38 L497.50,329.86 L498.50,329.35 L499.50,328.84 L500.50,328.34 L501.50,327.83 L502.50,327.34 L503.50,326.84 L504.50,326.35 L505.50,325.87 L506.50,325.38 L507.50,324.91 L508.50,324.43 L509.50,323.96 L510.50,323.50 L511.50,323.04 L512.50,322.58 L513.50,322.13 L514.50,321.68 L515.50,321.23 L516.50,320.79 L517.50,320.36 L518.50,319.93 L519.50,319.50 L520.50,319.08 L521.50,318.66 L522.50,318.25 L523.50,317.84 L524.50,317.44 L525.50,317.04 L526.50,316.64 L527.50,316.25 L528.50,315.86 L529.50,315.48 L530.50,315.10 L531.50,314.73 L532.50,314.36 L533.50,314.00 L534.50,313.64 L535.50,313.28 L536.50,312.93 L537.50,312.58 L538.50,312.24 L539.50,311.90 L540.50,311.56 L541.50,311.23 L542.50,310.91 L543.50,310.58 L544.50,310.26 L545.50,309.95 L546.50,309.64 L547.50,309.33 L548.50,309.03 L549.50,308.73 L550.50,308.44 L551.50,308.15 L552.50,307.86 L553.50,307.58 L554.50,307.30 L555.50,307.02 L556.50,306.75 L557.50,306.48 L558.50,306.22 L559.50,305.96 L560.50,305.70 L561.50,305.45 L562.50,305.20 L563.50,304.95 L564.50,304.71 L565.50,304.47 L566.50,304.23 L567.50,304.00 L568.50,303.77 L569.50,303.54 L570.50,303.32 L571.50,303.10 L572.50,302.88 L573.50,302.66 L574.50,302.45 L575.50,302.24 L576.50,302.04 L577.50,301.84 L578.50,301.64 L579.50,301.44 L580.50,301.25 L581.50,301.05 L582.50,300.87 L583.50,300.68 L584.50,300.50 L585.50,300.32 L586.50,300.14 L587.50,299.96 L588.50,299.79 L589.50,299.62 L590.50,299.45 L591.50,299.29 L592.50,299.13 L593.50,298.97 L594.50,298.81 L595.50,298.65 L596.50,298.50 L597.50,298.35 L598.50,298.20 L599.50,298.05 L600.50,297.91 L601.50,297.76 L602.50,297.62 L603.50,297.49 L604.50,297.35 L605.50,297.22 L606.50,297.08 L607.50,296.95 L608.50,296.82 L609.50,296.70 L610.50,296.57 L611.50,296.45 L612.50,296.33 L613.50,296.21 L614.50,296.09 L615.50,295.98 L616.50,295.87 L617.50,295.75 L618.50,295.64 L619.50,295.53 L620.50,295.43 L621.50,295.32 L622.50,295.22 L623.50,295.11 L624.50,295.01 L625.50,294.91 L626.50,294.82 L627.50,294.72 L628.50,294.63 L629.50,294.53 L630.50,294.44 L631.50,294.35 L632.50,294.26 L633.50,294.17 L634.50,294.09 L635.50,294.00 L636.50,293.92 L637.50,293.83 L638.50,293.75 L639.50,293.67 L640.50,293.59 L641.50,293.51 L642.50,293.44 L643.50,293.36 L644.50,293.29 L645.50,293.21 L646.50,293.14 L647.50,293.07 L648.50,293.00 L649.50,292.93 L650.50,292.86 L651.50,292.80 L652.50,292.73 L653.50,292.67 L654.50,292.60 L655.50,292.54 L656.50,292.48 L657.50,292.42 L658.50,292.36 L659.50,292.30 L660.50,292.24 L661.50,292.18 L662.50,292.13 L663.50,292.07 L664.50,292.01 L665.50,291.96 L666.50,291.91 L667.50,291.85 L668.50,291.80 L669.50,291.75 L670.30,291.71" stroke-width="1.3"/>
<path d="M67.90,224.81h6.4M71.10,221.61v6.4M68.80,222.51l4.6,4.6M68.80,227.11l4.6,-4.6M78.00,225.05h6.4M81.20,221.85v6.4M78.90,222.75l4.6,4.6M78.90,227.35l4.6,-4.6M88.10,225.32h6.4M91.30,222.12v6.4M89.00,223.02l4.6,4.6M89.00,227.62l4.6,-4.6M98.20,225.64h6.4M101.40,222.44v6.4M99.10,223.34l4.6,4.6M99.10,227.94l4.6,-4.6M108.30,226.02h6.4M111.50,222.82v6.4M109.20,223.72l4.6,4.6M109.20,228.32l4.6,-4.6M118.40,226.46h6.4M121.60,223.26v6.4M119.30,224.16l4.6,4.6M119.30,228.76l4.6,-4.6M128.50,226.97h6.4M131.70,223.77v6.4M129.40,224.67l4.6,4.6M129.40,229.27l4.6,-4.6M138.60,227.56h6.4M141.80,224.36v6.4M139.50,225.26l4.6,4.6M139.50,229.86l4.6,-4.6M148.70,228.25h6.4M151.90,225.05v6.4M149.60,225.95l4.6,4.6M149.60,230.55l4.6,-4.6M158.80,229.06h6.4M162.00,225.86v6.4M159.70,226.76l4.6,4.6M159.70,231.36l4.6,-4.6M168.90,229.99h6.4M172.10,226.79v6.4M169.80,227.69l4.6,4.6M169.80,232.29l4.6,-4.6M179.00,231.06h6.4M182.20,227.86v6.4M179.90,228.76l4.6,4.6M179.90,233.36l4.6,-4.6M189.10,232.30h6.4M192.30,229.10v6.4M190.00,230.00l4.6,4.6M190.00,234.60l4.6,-4.6M199.20,233.72h6.4M202.40,230.52v6.4M200.10,231.42l4.6,4.6M200.10,236.02l4.6,-4.6M209.30,235.34h6.4M212.50,232.14v6.4M210.20,233.04l4.6,4.6M210.20,237.64l4.6,-4.6M219.40,237.16h6.4M222.60,233.96v6.4M220.30,234.86l4.6,4.6M220.30,239.46l4.6,-4.6M229.50,239.20h6.4M232.70,236.00v6.4M230.40,236.90l4.6,4.6M230.40,241.50l4.6,-4.6M239.60,241.46h6.4M242.80,238.26v6.4M240.50,239.16l4.6,4.6M240.50,243.76l4.6,-4.6M249.70,243.90h6.4M252.90,240.70v6.4M250.60,241.60l4.6,4.6M250.60,246.20l4.6,-4.6M259.80,246.50h6.4M263.00,243.30v6.4M260.70,244.20l4.6,4.6M260.70,248.80l4.6,-4.6M269.90,249.20h6.4M273.10,246.00v6.4M270.80,246.90l4.6,4.6M270.80,251.50l4.6,-4.6M280.00,251.93h6.4M283.20,248.73v6.4M280.90,249.63l4.6,4.6M280.90,254.23l4.6,-4.6M290.10,254.61h6.4M293.30,251.41v6.4M291.00,252.31l4.6,4.6M291.00,256.91l4.6,-4.6M300.20,257.17h6.4M303.40,253.97v6.4M301.10,254.87l4.6,4.6M301.10,259.47l4.6,-4.6M310.30,259.54h6.4M313.50,256.34v6.4M311.20,257.24l4.6,4.6M311.20,261.84l4.6,-4.6M326.00,262.83h6.4M329.20,259.63v6.4M326.90,260.53l4.6,4.6M326.90,265.13l4.6,-4.6M333.45,264.28h6.4M336.65,261.08v6.4M334.35,261.98l4.6,4.6M334.35,266.58l4.6,-4.6M340.15,265.66h6.4M343.35,262.46v6.4M341.05,263.36l4.6,4.6M341.05,267.96l4.6,-4.6M345.70,267.04h6.4M348.90,263.84v6.4M346.60,264.74l4.6,4.6M346.60,269.34l4.6,-4.6M350.50,268.68h6.4M353.70,265.48v6.4M351.40,266.38l4.6,4.6M351.40,270.98l4.6,-4.6M354.60,270.85h6.4M357.80,267.65v6.4M355.50,268.55l4.6,4.6M355.50,273.15l4.6,-4.6M358.05,274.00h6.4M361.25,270.80v6.4M358.95,271.70l4.6,4.6M358.95,276.30l4.6,-4.6M360.95,278.92h6.4M364.15,275.72v6.4M361.85,276.62l4.6,4.6M361.85,281.22l4.6,-4.6M363.20,286.32h6.4M366.40,283.12v6.4M364.10,284.02l4.6,4.6M364.10,288.62l4.6,-4.6M365.15,298.90h6.4M368.35,295.70v6.4M366.05,296.60l4.6,4.6M366.05,301.20l4.6,-4.6M366.80,317.74h6.4M370.00,314.54v6.4M367.70,315.44l4.6,4.6M367.70,320.04l4.6,-4.6M368.30,338.64h6.4M371.50,335.44v6.4M369.20,336.34l4.6,4.6M369.20,340.94l4.6,-4.6M370.30,358.56h6.4M373.50,355.36v6.4M371.20,356.26l4.6,4.6M371.20,360.86l4.6,-4.6M372.65,369.92h6.4M375.85,366.72v6.4M373.55,367.62l4.6,4.6M373.55,372.22l4.6,-4.6M375.50,376.22h6.4M378.70,373.02v6.4M376.40,373.92l4.6,4.6M376.40,378.52l4.6,-4.6M379.50,380.15h6.4M382.70,376.95v6.4M380.40,377.85l4.6,4.6M380.40,382.45l4.6,-4.6M384.20,382.03h6.4M387.40,378.83v6.4M385.10,379.73l4.6,4.6M385.10,384.33l4.6,-4.6M389.20,382.67h6.4M392.40,379.47v6.4M390.10,380.37l4.6,4.6M390.10,384.97l4.6,-4.6M394.95,382.53h6.4M398.15,379.33v6.4M395.85,380.23l4.6,4.6M395.85,384.83l4.6,-4.6M401.85,381.60h6.4M405.05,378.40v6.4M402.75,379.30l4.6,4.6M402.75,383.90l4.6,-4.6M409.95,379.79h6.4M413.15,376.59v6.4M410.85,377.49l4.6,4.6M410.85,382.09l4.6,-4.6M419.45,376.92h6.4M422.65,373.72v6.4M420.35,374.62l4.6,4.6M420.35,379.22l4.6,-4.6M433.10,371.67h6.4M436.30,368.47v6.4M434.00,369.37l4.6,4.6M434.00,373.97l4.6,-4.6M443.00,367.16h6.4M446.20,363.96v6.4M443.90,364.86l4.6,4.6M443.90,369.46l4.6,-4.6M453.20,362.04h6.4M456.40,358.84v6.4M454.10,359.74l4.6,4.6M454.10,364.34l4.6,-4.6M463.40,356.55h6.4M466.60,353.35v6.4M464.30,354.25l4.6,4.6M464.30,358.85l4.6,-4.6M473.60,350.83h6.4M476.80,347.63v6.4M474.50,348.53l4.6,4.6M474.50,353.13l4.6,-4.6M483.80,345.03h6.4M487.00,341.83v6.4M484.70,342.73l4.6,4.6M484.70,347.33l4.6,-4.6M494.10,339.23h6.4M497.30,336.03v6.4M495.00,336.93l4.6,4.6M495.00,341.53l4.6,-4.6M504.30,333.68h6.4M507.50,330.48v6.4M505.20,331.38l4.6,4.6M505.20,335.98l4.6,-4.6M514.90,328.22h6.4M518.10,325.02v6.4M515.80,325.92l4.6,4.6M515.80,330.52l4.6,-4.6M524.10,323.81h6.4M527.30,320.61v6.4M525.00,321.51l4.6,4.6M525.00,326.11l4.6,-4.6M534.20,319.37h6.4M537.40,316.17v6.4M535.10,317.07l4.6,4.6M535.10,321.67l4.6,-4.6M544.30,315.35h6.4M547.50,312.15v6.4M545.20,313.05l4.6,4.6M545.20,317.65l4.6,-4.6M554.40,311.77h6.4M557.60,308.57v6.4M555.30,309.47l4.6,4.6M555.30,314.07l4.6,-4.6M564.50,308.61h6.4M567.70,305.41v6.4M565.40,306.31l4.6,4.6M565.40,310.91l4.6,-4.6M574.60,305.83h6.4M577.80,302.63v6.4M575.50,303.53l4.6,4.6M575.50,308.13l4.6,-4.6M584.70,303.42h6.4M587.90,300.22v6.4M585.60,301.12l4.6,4.6M585.60,305.72l4.6,-4.6M594.80,301.32h6.4M598.00,298.12v6.4M595.70,299.02l4.6,4.6M595.70,303.62l4.6,-4.6M604.90,299.50h6.4M608.10,296.30v6.4M605.80,297.20l4.6,4.6M605.80,301.80l4.6,-4.6M615.00,297.94h6.4M618.20,294.74v6.4M615.90,295.64l4.6,4.6M615.90,300.24l4.6,-4.6M625.10,296.59h6.4M628.30,293.39v6.4M626.00,294.29l4.6,4.6M626.00,298.89l4.6,-4.6M635.20,295.43h6.4M638.40,292.23v6.4M636.10,293.13l4.6,4.6M636.10,297.73l4.6,-4.6M645.30,294.43h6.4M648.50,291.23v6.4M646.20,292.13l4.6,4.6M646.20,296.73l4.6,-4.6M655.40,293.58h6.4M658.60,290.38v6.4M656.30,291.28l4.6,4.6M656.30,295.88l4.6,-4.6M665.50,292.85h6.4M668.70,289.65v6.4M666.40,290.55l4.6,4.6M666.40,295.15l4.6,-4.6" stroke-width="0.9"/>
<g fill="#fff" stroke-width="0.9"><circle cx="75.80" cy="224.99" r="2.1"/><circle cx="85.90" cy="225.25" r="2.1"/><circle cx="96.00" cy="225.56" r="2.1"/><circle cx="106.10" cy="225.92" r="2.1"/><circle cx="116.20" cy="226.35" r="2.1"/><circle cx="126.30" cy="226.84" r="2.1"/><circle cx="136.40" cy="227.41" r="2.1"/><circle cx="146.50" cy="228.08" r="2.1"/><circle cx="156.60" cy="228.85" r="2.1"/><circle cx="166.70" cy="229.75" r="2.1"/><circle cx="176.80" cy="230.78" r="2.1"/><circle cx="186.90" cy="231.98" r="2.1"/><circle cx="197.00" cy="233.34" r="2.1"/><circle cx="207.10" cy="234.90" r="2.1"/><circle cx="217.20" cy="236.67" r="2.1"/><circle cx="227.30" cy="238.64" r="2.1"/><circle cx="237.40" cy="240.81" r="2.1"/><circle cx="247.50" cy="243.16" r="2.1"/><circle cx="257.60" cy="245.67" r="2.1"/><circle cx="267.70" cy="248.26" r="2.1"/><circle cx="277.80" cy="250.88" r="2.1"/><circle cx="287.90" cy="253.43" r="2.1"/><circle cx="298.00" cy="255.85" r="2.1"/><circle cx="308.10" cy="258.04" r="2.1"/><circle cx="318.20" cy="259.98" r="2.1"/><circle cx="325.40" cy="261.20" r="2.1"/><circle cx="333.00" cy="262.38" r="2.1"/><circle cx="340.30" cy="263.49" r="2.1"/><circle cx="346.40" cy="264.55" r="2.1"/><circle cx="351.40" cy="265.72" r="2.1"/><circle cx="356.00" cy="267.42" r="2.1"/><circle cx="359.60" cy="269.72" r="2.1"/><circle cx="362.90" cy="273.66" r="2.1"/><circle cx="365.40" cy="279.53" r="2.1"/><circle cx="367.40" cy="288.71" r="2.1"/><circle cx="369.30" cy="305.61" r="2.1"/><circle cx="370.70" cy="324.39" r="2.1"/><circle cx="372.30" cy="344.77" r="2.1"/><circle cx="374.70" cy="361.98" r="2.1"/><circle cx="377.00" cy="369.43" r="2.1"/><circle cx="380.40" cy="374.45" r="2.1"/><circle cx="385.00" cy="377.11" r="2.1"/><circle cx="389.80" cy="377.93" r="2.1"/><circle cx="395.00" cy="377.78" r="2.1"/><circle cx="401.30" cy="376.79" r="2.1"/><circle cx="408.80" cy="374.86" r="2.1"/><circle cx="417.50" cy="371.90" r="2.1"/><circle cx="427.80" cy="367.62" r="2.1"/><circle cx="437.40" cy="363.04" r="2.1"/><circle cx="447.60" cy="357.69" r="2.1"/><circle cx="457.40" cy="352.25" r="2.1"/><circle cx="467.40" cy="346.53" r="2.1"/><circle cx="477.60" cy="340.69" r="2.1"/><circle cx="487.40" cy="335.23" r="2.1"/><circle cx="497.30" cy="329.97" r="2.1"/><circle cx="507.50" cy="324.91" r="2.1"/><circle cx="517.30" cy="320.45" r="2.1"/><circle cx="520.10" cy="319.25" r="2.1"/><circle cx="527.30" cy="316.33" r="2.1"/><circle cx="537.35" cy="312.63" r="2.1"/><circle cx="547.40" cy="309.36" r="2.1"/><circle cx="557.45" cy="306.50" r="2.1"/><circle cx="567.50" cy="304.00" r="2.1"/><circle cx="577.55" cy="301.83" r="2.1"/><circle cx="587.60" cy="299.95" r="2.1"/><circle cx="597.65" cy="298.32" r="2.1"/><circle cx="607.70" cy="296.93" r="2.1"/><circle cx="617.75" cy="295.73" r="2.1"/><circle cx="627.80" cy="294.69" r="2.1"/><circle cx="637.85" cy="293.80" r="2.1"/><circle cx="647.90" cy="293.04" r="2.1"/><circle cx="657.95" cy="292.39" r="2.1"/><circle cx="668.00" cy="291.83" r="2.1"/></g>
</g>
<path d="M70.5,4.6H670.3V199.3H70.5Z M70.5,223.4H670.3V418.6H70.5Z" stroke="#222" stroke-width="1.2" fill="none"/>
<path d="M70.5,57.0H391" stroke="#dc4b50" stroke-width="1.1" stroke-dasharray="3.6 3.0" fill="none"/>
<rect x="77.5" y="23.0" width="305.5" height="373.1" fill="none" stroke="#dc4b50" stroke-width="1.3"/>
<path d="M70.6,57.7L86.4,64.3" stroke="#333" stroke-width="0.8"/>
<ellipse cx="469" cy="96.1" rx="35" ry="11" transform="rotate(20.5 469 96.1)" fill="none" stroke="#dc4b50" stroke-width="1.1"/>
<path d="M477.0,87.0L496.3,66.8" stroke="#e0308c" stroke-width="1.3"/>
<rect x="496.3" y="7.4" width="167.6" height="87.0" fill="#fff" stroke="#dc4b50" stroke-width="1.3"/>
<rect x="82.0" y="265.4" width="239.7" height="84.9" fill="#fff" stroke="#dc4b50" stroke-width="1.3"/>
<path d="M248.4,350.3L252.2,396.1" stroke="#dc4b50" stroke-width="1.2"/>
<path d="M134.5,72.3H192.7" stroke="#000" stroke-width="1.8"/>
<path d="M134.5,96.65H192.7" stroke="#000" stroke-width="1.3"/>
<path d="M160.6,96.65h6M163.6,93.65v6M161.4,94.45l4.4,4.4M161.4,98.85000000000001l4.4,-4.4" stroke="#000" stroke-width="1"/>
<path d="M134.5,121.0H192.7" stroke="#000" stroke-width="1.4" stroke-dasharray="1.4 1.4"/>
<path d="M134.5,145.35000000000002H192.7" stroke="#000" stroke-width="1.3"/>
<circle cx="163.7" cy="145.35000000000002" r="2.2" fill="#fff" stroke="#000" stroke-width="1"/>
<path d="M134.5,169.7H192.7" stroke="#000" stroke-width="1.5" stroke-dasharray="6.5 6.5"/>
<text y="81.7" font-size="18.4"><tspan x="197.0" font-style="italic">G</tspan><tspan x="208.6" font-size="11.5" dy="1">pilot-c</tspan><tspan x="239.0" dy="-1">(</tspan><tspan font-style="italic">s</tspan>)<tspan x="258.8" font-size="18.6">-No orifice R</tspan><tspan x="356.0" font-size="12.2" dy="1">2</tspan></text>
<text y="106.1" font-size="18.4"><tspan x="197.0" font-style="italic">G</tspan><tspan x="208.6" font-size="11.5" dy="1">pilot-o</tspan><tspan x="239.0" dy="-1">(</tspan><tspan font-style="italic">s</tspan>)<tspan x="258.9">-</tspan><tspan font-style="italic">d</tspan><tspan x="273.6" font-size="12.2" dy="1">r2</tspan><tspan x="283.9" dy="-1">=</tspan><tspan x="294.0">1.6 mm</tspan></text>
<text y="130.4" font-size="18.4"><tspan x="197.0" font-style="italic">G</tspan><tspan x="208.6" font-size="11.5" dy="1">pilot-o</tspan><tspan x="239.0" dy="-1">(</tspan><tspan font-style="italic">s</tspan>)<tspan x="258.9">-</tspan><tspan font-style="italic">d</tspan><tspan x="273.6" font-size="12.2" dy="1">r2</tspan><tspan x="283.9" dy="-1">=</tspan><tspan x="294.0">1.2 mm</tspan></text>
<text y="154.8" font-size="18.4"><tspan x="197.0" font-style="italic">G</tspan><tspan x="208.6" font-size="11.5" dy="1">pilot-o</tspan><tspan x="239.0" dy="-1">(</tspan><tspan font-style="italic">s</tspan>)<tspan x="258.9">-</tspan><tspan font-style="italic">d</tspan><tspan x="273.6" font-size="12.2" dy="1">r2</tspan><tspan x="283.9" dy="-1">=</tspan><tspan x="294.0">1.0 mm</tspan></text>
<text y="179.1" font-size="18.4"><tspan x="197.0" font-style="italic">G</tspan><tspan x="208.6" font-size="11.5" dy="1">pilot-o</tspan><tspan x="239.0" dy="-1">(</tspan><tspan font-style="italic">s</tspan>)<tspan x="258.9">-</tspan><tspan font-style="italic">d</tspan><tspan x="273.6" font-size="12.2" dy="1">r2</tspan><tspan x="283.9" dy="-1">=</tspan><tspan x="294.0">0.8 mm</tspan></text>
<text x="86.6" y="74.6" font-size="18.6">-3 dB</text>
<text x="498.3" y="27.7" font-size="18.1"><tspan font-style="italic">G</tspan><tspan font-size="10.7" dy="1.0" dx="0">pilot-o</tspan><tspan dy="-1.0">(</tspan><tspan font-style="italic">s</tspan>) has one</text>
<text x="498.7" y="47.9" font-size="18.1">more high-frequency</text>
<text x="498.7" y="68.0" font-size="18.1">first-order differential</text>
<text x="498.7" y="88.2" font-size="18.1">element than <tspan font-style="italic">G</tspan><tspan font-size="10.7" dy="1.0" dx="0">pilot-c</tspan><tspan dy="-1.0">(</tspan><tspan font-style="italic">s</tspan>)</text>
<text x="86.9" y="284.4" font-size="18.3">The dynamic characteristics of</text>
<text x="86.5" y="304.6" font-size="18.3"><tspan font-style="italic">G</tspan><tspan font-size="10.7" dy="1.0" dx="0">pilot-o</tspan><tspan dy="-1.0">(</tspan><tspan font-style="italic">s</tspan>) and <tspan font-style="italic">G</tspan><tspan font-size="10.7" dy="1.0" dx="0">pilot-c</tspan><tspan dy="-1.0">(</tspan><tspan font-style="italic">s</tspan>) are quite</text>
<text x="86.8" y="324.9" font-size="18.3">similar within the operating</text>
<text x="86.8" y="345.1" font-size="18.3">frequency range</text>
<text transform="translate(64.50,17.30) scale(0.92,1)" font-size="22.5" text-anchor="end">40</text>
<text transform="translate(64.50,65.98) scale(0.92,1)" font-size="22.5" text-anchor="end">0</text>
<text transform="translate(64.50,114.65) scale(0.92,1)" font-size="22.5" text-anchor="end">-40</text>
<text transform="translate(64.50,163.32) scale(0.92,1)" font-size="22.5" text-anchor="end">-80</text>
<text transform="translate(64.50,212.00) scale(0.92,1)" font-size="22.5" text-anchor="end">-120</text>
<text transform="translate(64.50,236.30) scale(0.92,1)" font-size="22.5" text-anchor="end">0</text>
<text transform="translate(64.50,301.37) scale(0.92,1)" font-size="22.5" text-anchor="end">-90</text>
<text transform="translate(64.50,366.43) scale(0.92,1)" font-size="22.5" text-anchor="end">-180</text>
<text transform="translate(64.50,431.50) scale(0.92,1)" font-size="22.5" text-anchor="end">-270</text>
<text transform="translate(56.90,444.60) scale(0.92,1)" font-size="22.5" text-anchor="start">10<tspan font-size="13" dy="-11">2</tspan></text>
<text transform="translate(206.78,444.60) scale(0.92,1)" font-size="22.5" text-anchor="start">10<tspan font-size="13" dy="-11">3</tspan></text>
<text transform="translate(356.66,444.60) scale(0.92,1)" font-size="22.5" text-anchor="start">10<tspan font-size="13" dy="-11">4</tspan></text>
<text transform="translate(506.54,444.60) scale(0.92,1)" font-size="22.5" text-anchor="start">10<tspan font-size="13" dy="-11">5</tspan></text>
<text transform="translate(656.42,444.60) scale(0.92,1)" font-size="22.5" text-anchor="start">10<tspan font-size="13" dy="-11">6</tspan></text>
<text x="332.5" y="470.2" font-size="21.5"><tspan font-style="italic">ω</tspan> (rad/s)</text>
<text transform="translate(18.5,153.8) rotate(-90)" font-size="19.6"><tspan font-style="italic">L</tspan>(<tspan font-style="italic">ω</tspan>) / (dB)</text>
<text transform="translate(18.5,338.4) rotate(-90)" font-size="19.6"><tspan font-style="italic">φ</tspan>(<tspan font-style="italic">ω</tspan>)/(°)</text>
</svg></body></html>
